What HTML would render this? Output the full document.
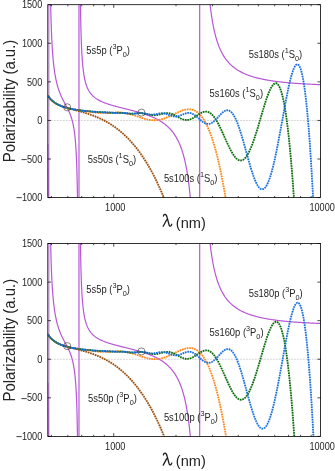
<!DOCTYPE html>
<html><head><meta charset="utf-8"><title>Polarizability</title>
<style>html,body{margin:0;padding:0;background:#fff}svg{display:block}text{font-family:"Liberation Sans",sans-serif;fill:#242424}</style>
</head><body>
<svg width="335" height="471" viewBox="0 0 335 471">
<rect width="335" height="471" fill="#fff"/>
<clipPath id="c0"><rect x="47.8" y="4.7" width="272.8" height="192.9"/></clipPath>
<line x1="47.8" y1="120.44" x2="320.6" y2="120.44" stroke="#a8a8a8" stroke-width="0.5" stroke-dasharray="2 1"/>
<g clip-path="url(#c0)" fill="none">
<path d="M47.80,143.89 L47.81,144.50 L47.81,145.12 L47.82,145.72 L47.82,146.32 L47.83,146.93 L47.83,147.56 L47.84,148.20 L47.84,148.84 L47.85,149.47 L47.85,150.07 L47.86,150.71 L47.86,151.31 L47.87,151.94 L47.87,152.59 L47.88,153.20 L47.88,153.83 L47.89,154.48 L47.89,155.15 L47.90,155.76 L47.90,156.39 L47.91,157.04 L47.91,157.70 L47.92,158.38 L47.92,158.98 L47.93,159.60 L47.93,160.22 L47.93,160.87 L47.94,161.52 L47.94,162.19 L47.95,162.88 L47.95,163.58 L47.96,164.18 L47.96,164.78 L47.97,165.40 L47.97,166.03 L47.97,166.67 L47.98,167.32 L47.98,167.98 L47.99,168.66 L47.99,169.34 L48.00,170.04 L48.00,170.75 L48.01,171.47 L48.01,172.20 L48.01,172.95 L48.02,173.56 L48.02,174.17 L48.03,174.79 L48.03,175.42 L48.03,176.06 L48.04,176.71 L48.04,177.37 L48.05,178.03 L48.05,178.71 L48.05,179.39 L48.06,180.08 L48.06,180.79 L48.07,181.50 L48.07,182.22 L48.07,182.95 L48.08,183.69 L48.08,184.44 L48.09,185.19 L48.09,185.96 L48.09,186.74 L48.10,187.53 L48.10,188.13 L48.10,188.74 L48.11,189.35 L48.11,189.97 L48.11,190.59 L48.12,191.22 L48.12,191.86 L48.12,192.50 L48.13,193.15 L48.13,193.80 L48.13,194.46 L48.14,195.13 L48.14,195.81 L48.14,196.49 L48.15,197.18 L48.15,197.88 L48.15,198.58 L48.16,199.29 L48.16,200.00 L48.16,200.73 L48.17,201.46 L48.17,202.20 L48.17,202.95 L48.18,203.70 L48.18,204.46 L48.18,205.23 L48.19,206.01 L48.19,206.80 L48.19,207.59 L48.20,208.39 L48.20,209.20 L48.20,210.02 L48.21,210.85 L48.21,211.68 L48.21,212.53 L48.22,213.38 L48.22,214.24 L48.23,215.11 L48.23,215.99 L48.23,216.88 L48.23,217.48 L48.24,218.08 L48.24,218.69 L48.24,219.30 L48.24,219.92 L48.25,220.54 L48.25,221.16 L48.25,221.79 L48.25,222.42 L48.26,223.06 L48.26,223.70 L48.26,224.35 L48.26,225.00 L48.26,225.65 L48.27,226.31 L48.27,226.98 L48.27,227.65 L48.27,228.33 L48.28,229.01 L48.28,229.69 L48.28,230.38 L48.28,231.07 L48.29,231.77 L48.29,232.48 L48.29,233.19 L48.29,233.91 L48.30,234.63 L48.30,235.35 L48.30,236.08 L48.30,236.82 L48.31,237.56 L48.31,237.94" stroke="#b757d6" stroke-width="1.2" stroke-linejoin="round"/>
<path d="M50.09,-36.00 L50.10,-34.78 L50.11,-33.57 L50.12,-32.38 L50.14,-31.21 L50.15,-30.05 L50.16,-28.91 L50.17,-27.79 L50.19,-26.68 L50.20,-25.58 L50.21,-24.50 L50.22,-23.44 L50.24,-22.39 L50.25,-21.35 L50.26,-20.33 L50.28,-19.32 L50.29,-18.33 L50.30,-17.35 L50.31,-16.38 L50.33,-15.42 L50.34,-14.47 L50.35,-13.54 L50.37,-12.62 L50.38,-11.71 L50.39,-10.81 L50.41,-9.93 L50.42,-9.05 L50.43,-8.19 L50.45,-7.33 L50.46,-6.49 L50.48,-5.66 L50.49,-4.83 L50.50,-4.02 L50.52,-3.21 L50.53,-2.42 L50.55,-1.63 L50.56,-0.86 L50.57,-0.09 L50.59,0.67 L50.60,1.42 L50.62,2.16 L50.63,2.89 L50.65,3.62 L50.66,4.33 L50.68,5.04 L50.69,5.74 L50.70,6.43 L50.72,7.12 L50.73,7.80 L50.75,8.47 L50.76,9.13 L50.78,9.79 L50.79,10.44 L50.81,11.08 L50.82,11.71 L50.84,12.34 L50.86,12.97 L50.87,13.58 L50.89,14.19 L50.90,14.79 L50.92,15.39 L50.93,15.98 L50.95,16.57 L50.98,17.72 L51.01,18.85 L51.04,19.96 L51.08,21.05 L51.11,22.11 L51.14,23.16 L51.17,24.18 L51.21,25.19 L51.24,26.18 L51.27,27.15 L51.31,28.10 L51.34,29.04 L51.38,29.95 L51.41,30.86 L51.44,31.75 L51.48,32.62 L51.51,33.47 L51.55,34.32 L51.59,35.15 L51.62,35.96 L51.66,36.76 L51.69,37.55 L51.73,38.33 L51.77,39.09 L51.80,39.84 L51.84,40.58 L51.88,41.31 L51.91,42.02 L51.95,42.73 L51.99,43.42 L52.03,44.11 L52.07,44.78 L52.10,45.45 L52.14,46.10 L52.18,46.75 L52.22,47.38 L52.26,48.01 L52.30,48.62 L52.34,49.23 L52.38,49.83 L52.42,50.42 L52.46,51.01 L52.50,51.58 L52.54,52.15 L52.58,52.71 L52.64,53.54 L52.71,54.35 L52.77,55.14 L52.83,55.92 L52.90,56.68 L52.96,57.43 L53.02,58.16 L53.09,58.88 L53.15,59.59 L53.22,60.28 L53.29,60.97 L53.35,61.63 L53.42,62.29 L53.49,62.94 L53.56,63.57 L53.62,64.20 L53.69,64.81 L53.76,65.41 L53.83,66.00 L53.90,66.59 L53.97,67.16 L54.04,67.72 L54.11,68.28 L54.18,68.82 L54.26,69.36 L54.33,69.88 L54.43,70.58 L54.52,71.25 L54.62,71.92 L54.72,72.56 L54.82,73.20 L54.92,73.83 L55.02,74.44 L55.12,75.04 L55.22,75.62 L55.33,76.20 L55.43,76.77 L55.53,77.32 L55.64,77.87 L55.74,78.40 L55.85,78.93 L55.95,79.45 L56.06,79.95 L56.17,80.45 L56.30,81.06 L56.44,81.66 L56.58,82.25 L56.71,82.82 L56.85,83.38 L56.99,83.93 L57.13,84.47 L57.27,85.00 L57.41,85.52 L57.55,86.03 L57.70,86.53 L57.84,87.02 L57.98,87.50 L58.13,87.97 L58.27,88.44 L58.42,88.90 L58.60,89.43 L58.77,89.96 L58.95,90.48 L59.13,90.98 L59.31,91.48 L59.49,91.97 L59.67,92.44 L59.85,92.91 L60.03,93.38 L60.21,93.83 L60.40,94.28 L60.58,94.72 L60.76,95.15 L60.95,95.58 L61.13,96.00 L61.32,96.41 L61.54,96.89 L61.75,97.36 L61.97,97.82 L62.19,98.28 L62.41,98.73 L62.63,99.17 L62.85,99.61 L63.07,100.05 L63.29,100.48 L63.51,100.91 L63.73,101.33 L63.95,101.75 L64.17,102.17 L64.39,102.58 L64.61,102.99 L64.83,103.40 L65.05,103.81 L65.27,104.22 L65.49,104.63 L65.71,105.03 L65.93,105.44 L66.14,105.85 L66.36,106.25 L66.58,106.66 L66.80,107.07 L67.01,107.49 L67.23,107.90 L67.44,108.32 L67.66,108.74 L67.87,109.17 L68.08,109.60 L68.29,110.03 L68.50,110.47 L68.71,110.92 L68.92,111.37 L69.13,111.83 L69.34,112.29 L69.54,112.77 L69.74,113.25 L69.95,113.75 L70.12,114.18 L70.29,114.62 L70.46,115.06 L70.63,115.52 L70.80,115.99 L70.97,116.47 L71.13,116.95 L71.30,117.45 L71.46,117.97 L71.63,118.49 L71.79,119.03 L71.95,119.59 L72.08,120.06 L72.21,120.54 L72.35,121.04 L72.48,121.55 L72.60,122.07 L72.73,122.61 L72.86,123.16 L72.99,123.73 L73.11,124.31 L73.24,124.91 L73.36,125.53 L73.46,126.03 L73.55,126.55 L73.65,127.08 L73.75,127.63 L73.84,128.19 L73.94,128.76 L74.03,129.35 L74.12,129.96 L74.22,130.58 L74.31,131.22 L74.40,131.87 L74.49,132.55 L74.58,133.25 L74.64,133.78 L74.71,134.33 L74.78,134.89 L74.84,135.46 L74.91,136.05 L74.97,136.65 L75.03,137.26 L75.10,137.89 L75.16,138.53 L75.22,139.19 L75.29,139.86 L75.35,140.56 L75.41,141.27 L75.47,142.00 L75.53,142.74 L75.59,143.51 L75.65,144.30 L75.71,145.10 L75.77,145.93 L75.81,146.50 L75.85,147.08 L75.88,147.66 L75.92,148.26 L75.96,148.87 L76.00,149.49 L76.04,150.12 L76.07,150.77 L76.11,151.42 L76.15,152.09 L76.18,152.78 L76.22,153.47 L76.26,154.18 L76.29,154.91 L76.33,155.65 L76.36,156.40 L76.40,157.17 L76.43,157.96 L76.47,158.76 L76.50,159.58 L76.54,160.42 L76.57,161.27 L76.61,162.14 L76.64,163.04 L76.67,163.95 L76.71,164.88 L76.74,165.83 L76.77,166.81 L76.81,167.80 L76.84,168.82 L76.87,169.86 L76.90,170.93 L76.94,172.02 L76.97,173.14 L77.00,174.29 L77.03,175.46 L77.04,176.06 L77.06,176.66 L77.08,177.27 L77.09,177.89 L77.11,178.52 L77.12,179.15 L77.14,179.79 L77.15,180.44 L77.17,181.10 L77.18,181.77 L77.20,182.44 L77.21,183.13 L77.23,183.82 L77.24,184.52 L77.26,185.23 L77.27,185.95 L77.28,186.68 L77.30,187.41 L77.31,188.16 L77.33,188.92 L77.34,189.69 L77.36,190.47 L77.37,191.25 L77.38,192.05 L77.40,192.86 L77.41,193.68 L77.43,194.51 L77.44,195.36 L77.45,196.21 L77.47,197.08 L77.48,197.96 L77.50,198.85 L77.51,199.75 L77.52,200.66 L77.54,201.59 L77.55,202.53 L77.56,203.49 L77.58,204.46 L77.59,205.44 L77.60,206.44 L77.62,207.45 L77.63,208.48 L77.64,209.52 L77.66,210.58 L77.67,211.65 L77.68,212.74 L77.69,213.84 L77.71,214.96 L77.72,216.10 L77.73,217.26 L77.74,218.43 L77.76,219.62 L77.77,220.83 L77.78,222.06 L77.79,223.31 L77.81,224.58 L77.82,225.87 L77.83,227.18 L77.84,228.51 L77.85,229.86 L77.87,231.23 L77.88,232.63 L77.89,234.04 L77.90,235.49 L77.91,236.95 L77.93,238.44" stroke="#b757d6" stroke-width="1.2" stroke-linejoin="round"/>
<path d="M80.01,-37.79 L80.03,-34.65 L80.05,-31.61 L80.08,-28.68 L80.10,-25.84 L80.13,-23.09 L80.15,-20.43 L80.17,-17.85 L80.20,-15.35 L80.23,-12.92 L80.25,-10.57 L80.28,-8.29 L80.30,-6.08 L80.33,-3.93 L80.36,-1.85 L80.38,0.18 L80.41,2.14 L80.44,4.06 L80.47,5.91 L80.49,7.72 L80.52,9.48 L80.55,11.19 L80.58,12.85 L80.61,14.47 L80.64,16.05 L80.67,17.58 L80.70,19.08 L80.73,20.53 L80.76,21.95 L80.79,23.33 L80.82,24.68 L80.85,26.00 L80.88,27.28 L80.91,28.53 L80.94,29.76 L80.98,30.95 L81.01,32.11 L81.04,33.25 L81.07,34.36 L81.11,35.44 L81.14,36.50 L81.17,37.54 L81.21,38.55 L81.24,39.54 L81.28,40.50 L81.31,41.45 L81.35,42.37 L81.38,43.28 L81.42,44.16 L81.45,45.03 L81.49,45.87 L81.53,46.70 L81.56,47.52 L81.60,48.31 L81.64,49.09 L81.67,49.85 L81.71,50.60 L81.75,51.33 L81.79,52.05 L81.82,52.75 L81.86,53.44 L81.90,54.12 L81.94,54.78 L81.98,55.43 L82.02,56.07 L82.06,56.69 L82.10,57.31 L82.14,57.91 L82.18,58.50 L82.22,59.08 L82.26,59.65 L82.34,60.76 L82.43,61.82 L82.51,62.85 L82.60,63.85 L82.68,64.81 L82.77,65.74 L82.86,66.63 L82.95,67.50 L83.04,68.34 L83.13,69.15 L83.23,69.94 L83.32,70.70 L83.41,71.43 L83.51,72.15 L83.61,72.84 L83.70,73.52 L83.80,74.17 L83.90,74.80 L84.00,75.42 L84.10,76.02 L84.21,76.60 L84.31,77.16 L84.41,77.71 L84.52,78.25 L84.63,78.77 L84.73,79.27 L84.84,79.77 L85.01,80.48 L85.17,81.17 L85.34,81.84 L85.51,82.47 L85.68,83.09 L85.86,83.68 L86.04,84.26 L86.22,84.81 L86.40,85.34 L86.58,85.86 L86.77,86.36 L86.95,86.85 L87.14,87.31 L87.33,87.77 L87.53,88.21 L87.72,88.64 L87.92,89.05 L88.12,89.45 L88.39,89.97 L88.66,90.47 L88.94,90.95 L89.22,91.41 L89.50,91.86 L89.79,92.29 L90.08,92.70 L90.38,93.11 L90.67,93.50 L90.97,93.87 L91.28,94.24 L91.59,94.59 L91.90,94.93 L92.21,95.27 L92.53,95.59 L92.85,95.91 L93.17,96.21 L93.50,96.51 L93.83,96.80 L94.17,97.08 L94.50,97.35 L94.84,97.62 L95.19,97.88 L95.53,98.14 L95.97,98.45 L96.41,98.75 L96.86,99.04 L97.31,99.32 L97.77,99.60 L98.23,99.87 L98.69,100.13 L99.16,100.38 L99.64,100.63 L100.12,100.88 L100.60,101.12 L101.09,101.35 L101.58,101.58 L102.07,101.80 L102.57,102.02 L103.08,102.23 L103.58,102.44 L104.10,102.64 L104.61,102.85 L105.13,103.04 L105.65,103.24 L106.18,103.43 L106.71,103.62 L107.24,103.80 L107.78,103.99 L108.32,104.17 L108.87,104.34 L109.41,104.52 L109.96,104.69 L110.52,104.86 L111.08,105.03 L111.64,105.20 L112.20,105.36 L112.77,105.53 L113.34,105.69 L113.91,105.85 L114.48,106.01 L115.06,106.17 L115.64,106.33 L116.22,106.48 L116.81,106.64 L117.40,106.79 L117.99,106.95 L118.58,107.10 L119.17,107.25 L119.77,107.40 L120.25,107.53 L120.73,107.65 L121.21,107.77 L121.70,107.89 L122.18,108.01 L122.67,108.13 L123.15,108.25 L123.64,108.37 L124.13,108.49 L124.62,108.61 L125.11,108.74 L125.60,108.86 L126.10,108.98 L126.59,109.10 L127.09,109.23 L127.58,109.35 L128.08,109.47 L128.58,109.60 L129.07,109.72 L129.57,109.85 L130.07,109.97 L130.57,110.10 L131.07,110.23 L131.58,110.35 L132.08,110.48 L132.58,110.61 L133.08,110.74 L133.59,110.88 L134.09,111.01 L134.59,111.14 L135.10,111.28 L135.60,111.41 L136.11,111.55 L136.61,111.69 L137.12,111.83 L137.63,111.97 L138.13,112.11 L138.64,112.26 L139.14,112.40 L139.65,112.55 L140.16,112.70 L140.66,112.85 L141.17,113.00 L141.67,113.16 L142.18,113.31 L142.68,113.47 L143.19,113.63 L143.69,113.79 L144.20,113.96 L144.70,114.13 L145.21,114.29 L145.71,114.47 L146.21,114.64 L146.71,114.82 L147.22,115.00 L147.72,115.18 L148.22,115.36 L148.72,115.55 L149.22,115.74 L149.72,115.93 L150.21,116.13 L150.71,116.33 L151.21,116.53 L151.70,116.74 L152.20,116.95 L152.69,117.16 L153.18,117.38 L153.68,117.60 L154.17,117.82 L154.66,118.05 L155.15,118.29 L155.63,118.52 L156.12,118.77 L156.61,119.01 L157.09,119.26 L157.57,119.52 L158.05,119.78 L158.54,120.05 L159.01,120.32 L159.49,120.59 L159.97,120.88 L160.44,121.16 L160.92,121.46 L161.39,121.76 L161.86,122.06 L162.33,122.38 L162.79,122.70 L163.26,123.02 L163.72,123.36 L164.07,123.61 L164.41,123.87 L164.76,124.13 L165.10,124.40 L165.45,124.67 L165.79,124.95 L166.13,125.23 L166.47,125.52 L166.81,125.81 L167.14,126.10 L167.48,126.41 L167.81,126.71 L168.15,127.03 L168.48,127.34 L168.81,127.67 L169.14,128.00 L169.47,128.33 L169.80,128.67 L170.13,129.02 L170.45,129.38 L170.78,129.74 L171.10,130.10 L171.42,130.48 L171.74,130.86 L172.06,131.25 L172.38,131.65 L172.70,132.05 L173.01,132.46 L173.33,132.88 L173.64,133.31 L173.95,133.75 L174.26,134.19 L174.57,134.65 L174.88,135.11 L175.18,135.59 L175.49,136.07 L175.79,136.56 L176.09,137.07 L176.39,137.58 L176.69,138.10 L176.99,138.64 L177.29,139.19 L177.58,139.75 L177.87,140.32 L178.16,140.90 L178.45,141.50 L178.74,142.11 L178.93,142.53 L179.12,142.95 L179.31,143.38 L179.50,143.81 L179.69,144.25 L179.88,144.70 L180.07,145.15 L180.25,145.61 L180.44,146.08 L180.62,146.55 L180.81,147.04 L180.99,147.53 L181.17,148.02 L181.35,148.53 L181.54,149.04 L181.72,149.57 L181.90,150.10 L182.07,150.64 L182.25,151.18 L182.43,151.74 L182.61,152.31 L182.78,152.88 L182.96,153.47 L183.13,154.06 L183.31,154.67 L183.48,155.28 L183.65,155.91 L183.82,156.55 L183.99,157.19 L184.16,157.85 L184.33,158.52 L184.50,159.20 L184.67,159.90 L184.83,160.60 L185.00,161.32 L185.16,162.05 L185.33,162.80 L185.49,163.56 L185.65,164.33 L185.82,165.12 L185.98,165.92 L186.14,166.73 L186.30,167.56 L186.46,168.41 L186.61,169.27 L186.77,170.15 L186.93,171.05 L187.08,171.96 L187.23,172.89 L187.39,173.84 L187.54,174.81 L187.69,175.79 L187.84,176.80 L187.99,177.83 L188.14,178.87 L188.22,179.40 L188.29,179.94 L188.37,180.48 L188.44,181.03 L188.51,181.59 L188.59,182.14 L188.66,182.71 L188.73,183.28 L188.80,183.86 L188.88,184.44 L188.95,185.03 L189.02,185.62 L189.09,186.22 L189.16,186.83 L189.23,187.45 L189.31,188.07 L189.38,188.69 L189.45,189.33 L189.52,189.97 L189.59,190.62 L189.66,191.27 L189.73,191.93 L189.80,192.60 L189.87,193.28 L189.93,193.96 L190.00,194.65 L190.07,195.35 L190.14,196.06 L190.21,196.77 L190.28,197.49 L190.34,198.22 L190.41,198.96 L190.48,199.71 L190.55,200.46 L190.61,201.23 L190.68,202.00 L190.75,202.78 L190.81,203.57 L190.88,204.37 L190.94,205.18 L191.01,206.00 L191.07,206.83 L191.14,207.66 L191.20,208.51 L191.27,209.37 L191.33,210.24 L191.40,211.12 L191.46,212.00 L191.52,212.90 L191.59,213.81 L191.65,214.73 L191.71,215.67 L191.78,216.61 L191.84,217.56 L191.90,218.53 L191.96,219.51 L192.03,220.50 L192.09,221.50 L192.15,222.52 L192.21,223.55 L192.27,224.59 L192.33,225.65 L192.39,226.71 L192.45,227.79 L192.51,228.89 L192.57,230.00 L192.63,231.12 L192.69,232.26 L192.75,233.42 L192.81,234.58 L192.87,235.77 L192.92,236.97 L192.98,238.18" stroke="#b757d6" stroke-width="1.2" stroke-linejoin="round"/>
<path d="M206.87,-36.13 L206.93,-35.04 L206.99,-33.96 L207.05,-32.89 L207.11,-31.84 L207.17,-30.80 L207.24,-29.78 L207.30,-28.76 L207.36,-27.76 L207.42,-26.77 L207.48,-25.80 L207.54,-24.83 L207.61,-23.88 L207.67,-22.94 L207.73,-22.01 L207.80,-21.09 L207.86,-20.18 L207.92,-19.28 L207.99,-18.39 L208.05,-17.52 L208.12,-16.65 L208.18,-15.80 L208.25,-14.95 L208.31,-14.12 L208.38,-13.29 L208.44,-12.47 L208.51,-11.67 L208.57,-10.87 L208.64,-10.08 L208.71,-9.30 L208.77,-8.53 L208.84,-7.77 L208.91,-7.01 L208.97,-6.27 L209.04,-5.53 L209.11,-4.80 L209.18,-4.08 L209.25,-3.37 L209.31,-2.66 L209.38,-1.97 L209.45,-1.28 L209.52,-0.60 L209.59,0.08 L209.66,0.75 L209.73,1.41 L209.80,2.06 L209.87,2.70 L209.94,3.34 L210.01,3.98 L210.08,4.60 L210.15,5.22 L210.23,5.83 L210.30,6.44 L210.37,7.04 L210.44,7.63 L210.51,8.22 L210.59,8.80 L210.66,9.38 L210.73,9.94 L210.80,10.51 L210.88,11.07 L210.95,11.62 L211.02,12.16 L211.10,12.71 L211.17,13.24 L211.25,13.77 L211.40,14.81 L211.55,15.84 L211.70,16.84 L211.85,17.83 L212.00,18.79 L212.16,19.74 L212.31,20.66 L212.47,21.57 L212.62,22.47 L212.78,23.34 L212.94,24.20 L213.10,25.05 L213.26,25.88 L213.42,26.69 L213.58,27.49 L213.74,28.27 L213.90,29.04 L214.07,29.79 L214.23,30.54 L214.40,31.26 L214.56,31.98 L214.73,32.68 L214.90,33.38 L215.07,34.05 L215.23,34.72 L215.40,35.38 L215.58,36.02 L215.75,36.66 L215.92,37.28 L216.09,37.89 L216.27,38.49 L216.44,39.08 L216.62,39.67 L216.79,40.24 L216.97,40.80 L217.15,41.36 L217.33,41.90 L217.51,42.44 L217.69,42.97 L217.87,43.49 L218.05,44.00 L218.23,44.50 L218.41,44.99 L218.60,45.48 L218.78,45.96 L218.97,46.43 L219.15,46.90 L219.34,47.36 L219.53,47.81 L219.71,48.25 L219.90,48.69 L220.09,49.12 L220.28,49.54 L220.47,49.96 L220.67,50.37 L220.95,50.98 L221.24,51.57 L221.54,52.15 L221.83,52.71 L222.12,53.27 L222.42,53.81 L222.72,54.34 L223.02,54.86 L223.32,55.37 L223.62,55.87 L223.92,56.35 L224.23,56.83 L224.54,57.30 L224.84,57.76 L225.15,58.21 L225.46,58.65 L225.78,59.08 L226.09,59.50 L226.40,59.91 L226.72,60.32 L227.04,60.72 L227.36,61.11 L227.68,61.49 L228.00,61.86 L228.32,62.23 L228.64,62.59 L228.97,62.95 L229.29,63.29 L229.62,63.63 L229.95,63.97 L230.28,64.29 L230.61,64.62 L230.94,64.93 L231.28,65.24 L231.61,65.55 L231.95,65.85 L232.28,66.14 L232.62,66.43 L232.96,66.71 L233.30,66.99 L233.64,67.26 L233.98,67.53 L234.33,67.79 L234.67,68.05 L235.13,68.39 L235.60,68.72 L236.06,69.04 L236.52,69.35 L236.99,69.66 L237.46,69.96 L237.93,70.26 L238.40,70.54 L238.88,70.83 L239.35,71.10 L239.83,71.37 L240.31,71.63 L240.79,71.89 L241.27,72.14 L241.75,72.39 L242.23,72.63 L242.72,72.86 L243.20,73.09 L243.69,73.32 L244.18,73.54 L244.67,73.75 L245.16,73.97 L245.65,74.17 L246.14,74.38 L246.64,74.58 L247.13,74.77 L247.63,74.96 L248.12,75.15 L248.62,75.33 L249.12,75.51 L249.62,75.68 L250.12,75.86 L250.62,76.02 L251.12,76.19 L251.62,76.35 L252.12,76.51 L252.62,76.67 L253.13,76.82 L253.63,76.97 L254.13,77.11 L254.64,77.26 L255.14,77.40 L255.65,77.54 L256.15,77.67 L256.66,77.80 L257.17,77.93 L257.67,78.06 L258.18,78.19 L258.69,78.31 L259.19,78.43 L259.70,78.55 L260.21,78.66 L260.71,78.78 L261.22,78.89 L261.73,79.00 L262.23,79.11 L262.74,79.21 L263.25,79.31 L263.75,79.42 L264.26,79.52 L264.76,79.61 L265.27,79.71 L265.90,79.83 L266.53,79.94 L267.16,80.05 L267.79,80.16 L268.42,80.27 L269.04,80.37 L269.67,80.48 L270.29,80.58 L270.92,80.67 L271.54,80.77 L272.16,80.86 L272.78,80.95 L273.40,81.04 L274.02,81.13 L274.63,81.22 L275.25,81.30 L275.86,81.38 L276.47,81.46 L277.08,81.54 L277.69,81.61 L278.29,81.69 L278.90,81.76 L279.50,81.83 L280.10,81.90 L280.69,81.97 L281.29,82.04 L281.88,82.10 L282.47,82.17 L283.06,82.23 L283.64,82.29 L284.23,82.35 L284.81,82.41 L285.38,82.46 L285.96,82.52 L286.53,82.57 L287.10,82.63 L287.66,82.68 L288.22,82.73 L288.78,82.78 L289.34,82.83 L289.89,82.88 L290.55,82.93 L291.21,82.99 L291.86,83.04 L292.50,83.09 L293.14,83.14 L293.78,83.19 L294.41,83.24 L295.03,83.29 L295.65,83.33 L296.26,83.38 L296.87,83.42 L297.47,83.46 L298.06,83.50 L298.65,83.54 L299.23,83.58 L299.81,83.62 L300.38,83.66 L301.04,83.70 L301.69,83.74 L302.33,83.78 L302.96,83.81 L303.58,83.85 L304.19,83.89 L304.80,83.92 L305.39,83.95 L305.97,83.99 L306.55,84.02 L307.19,84.05 L307.82,84.09 L308.43,84.12 L309.04,84.15 L309.63,84.18 L310.20,84.21 L310.83,84.24 L311.45,84.27 L312.04,84.29 L312.61,84.32 L313.23,84.35 L313.83,84.38 L314.45,84.40 L315.05,84.43 L315.67,84.46 L316.25,84.48 L316.85,84.51 L317.44,84.53 L318.02,84.55 L318.60,84.58 L319.20,84.60 L319.79,84.62 L320.38,84.65 L320.60,84.65" stroke="#b757d6" stroke-width="1.2" stroke-linejoin="round"/>
<line x1="48.95" y1="4.7" x2="48.95" y2="197.6" stroke="#b757d6" stroke-width="0.75"/>
<line x1="78.98" y1="4.7" x2="78.98" y2="197.6" stroke="#b757d6" stroke-width="1.2"/>
<line x1="199.68" y1="4.7" x2="199.68" y2="197.6" stroke="#b757d6" stroke-width="1.2"/>
<g transform="scale(1,1.0)">
<path d="M47.80,95.39 L48.11,95.86 L48.41,96.30 L48.71,96.72 L49.02,97.13 L49.32,97.52 L49.62,97.89 L49.93,98.25 L50.23,98.59 L50.53,98.92 L50.84,99.24 L51.14,99.55 L51.44,99.85 L51.75,100.13 L52.05,100.41 L52.35,100.67 L52.66,100.93 L52.96,101.18 L53.26,101.42 L53.57,101.66 L53.87,101.88 L54.17,102.10 L54.48,102.31 L54.78,102.52 L55.08,102.72 L55.69,103.10 L56.30,103.47 L56.90,103.81 L57.51,104.14 L58.12,104.45 L58.73,104.75 L59.33,105.03 L59.94,105.30 L60.55,105.56 L61.15,105.81 L61.76,106.05 L62.37,106.28 L62.97,106.51 L63.58,106.73 L64.19,106.94 L64.79,107.14 L65.40,107.34 L66.01,107.53 L66.62,107.72 L67.22,107.91 L67.83,108.09 L68.44,108.27 L69.04,108.44 L69.65,108.61 L70.26,108.78 L70.86,108.95 L71.47,109.12 L72.08,109.28 L72.68,109.45 L73.29,109.61 L73.90,109.77 L74.50,109.93 L75.11,110.10 L75.72,110.26 L76.33,110.42 L76.93,110.58 L77.54,110.75 L78.15,110.91 L78.75,111.07 L79.36,111.24 L79.97,111.41 L80.57,111.57 L81.18,111.74 L81.79,111.92 L82.39,112.09 L83.00,112.26 L83.61,112.44 L84.22,112.62 L84.82,112.80 L85.43,112.99 L86.04,113.18 L86.64,113.37 L87.25,113.56 L87.86,113.76 L88.46,113.95 L89.07,114.16 L89.68,114.36 L90.28,114.57 L90.89,114.78 L91.50,115.00 L92.10,115.22 L92.71,115.44 L93.32,115.67 L93.93,115.90 L94.53,116.14 L95.14,116.38 L95.75,116.62 L96.35,116.87 L96.96,117.13 L97.57,117.38 L98.17,117.65 L98.78,117.92 L99.39,118.19 L99.99,118.47 L100.60,118.75 L101.21,119.04 L101.82,119.33 L102.42,119.63 L103.03,119.93 L103.64,120.24 L104.24,120.56 L104.85,120.88 L105.46,121.21 L106.06,121.54 L106.67,121.88 L107.28,122.22 L107.88,122.58 L108.49,122.93 L109.10,123.30 L109.70,123.67 L110.31,124.05 L110.92,124.43 L111.53,124.82 L111.83,125.02 L112.13,125.22 L112.44,125.42 L112.74,125.62 L113.04,125.83 L113.35,126.04 L113.65,126.24 L113.95,126.46 L114.26,126.67 L114.56,126.88 L114.86,127.10 L115.17,127.32 L115.47,127.54 L115.77,127.76 L116.08,127.98 L116.38,128.21 L116.68,128.43 L116.99,128.66 L117.29,128.89 L117.59,129.13 L117.90,129.36 L118.20,129.60 L118.50,129.84 L118.81,130.08 L119.11,130.32 L119.41,130.57 L119.72,130.82 L120.02,131.07 L120.33,131.32 L120.63,131.57 L120.93,131.83 L121.24,132.09 L121.54,132.35 L121.84,132.61 L122.15,132.87 L122.45,133.14 L122.75,133.41 L123.06,133.68 L123.36,133.95 L123.66,134.23 L123.97,134.51 L124.27,134.79 L124.57,135.07 L124.88,135.35 L125.18,135.64 L125.48,135.93 L125.79,136.22 L126.09,136.52 L126.39,136.81 L126.70,137.11 L127.00,137.41 L127.30,137.72 L127.61,138.02 L127.91,138.33 L128.21,138.64 L128.52,138.95 L128.82,139.27 L129.13,139.59 L129.43,139.91 L129.73,140.23 L130.04,140.56 L130.34,140.89 L130.64,141.22 L130.95,141.55 L131.25,141.89 L131.55,142.23 L131.86,142.57 L132.16,142.92 L132.46,143.26 L132.77,143.61 L133.07,143.97 L133.37,144.32 L133.68,144.68 L133.98,145.04 L134.28,145.41 L134.59,145.77 L134.89,146.14 L135.19,146.51 L135.50,146.89 L135.80,147.27 L136.10,147.65 L136.41,148.03 L136.71,148.42 L137.01,148.81 L137.32,149.20 L137.62,149.60 L137.93,150.00 L138.23,150.40 L138.53,150.81 L138.84,151.21 L139.14,151.63 L139.44,152.04 L139.75,152.46 L140.05,152.88 L140.35,153.30 L140.66,153.73 L140.96,154.16 L141.26,154.59 L141.57,155.03 L141.87,155.47 L142.17,155.92 L142.48,156.36 L142.78,156.81 L143.08,157.27 L143.39,157.72 L143.69,158.18 L143.99,158.65 L144.30,159.11 L144.60,159.59 L144.90,160.06 L145.21,160.54 L145.51,161.02 L145.81,161.50 L146.12,161.99 L146.42,162.49 L146.73,162.98 L147.03,163.48 L147.33,163.98 L147.64,164.49 L147.94,165.00 L148.24,165.52 L148.55,166.03 L148.85,166.56 L149.15,167.08 L149.46,167.61 L149.76,168.15 L150.06,168.68 L150.37,169.22 L150.67,169.77 L150.97,170.32 L151.28,170.87 L151.58,171.43 L151.88,171.99 L152.19,172.56 L152.49,173.13 L152.79,173.70 L153.10,174.28 L153.40,174.86 L153.70,175.45 L154.01,176.04 L154.31,176.63 L154.61,177.23 L154.92,177.84 L155.22,178.45 L155.53,179.06 L155.83,179.68 L156.13,180.30 L156.44,180.92 L156.74,181.55 L157.04,182.19 L157.35,182.83 L157.65,183.47 L157.95,184.12 L158.26,184.77 L158.56,185.43 L158.86,186.09 L159.17,186.76 L159.47,187.43 L159.77,188.11 L160.08,188.79 L160.38,189.48 L160.68,190.17 L160.99,190.87 L161.29,191.57 L161.59,192.28 L161.90,192.99 L162.20,193.70 L162.50,194.43 L162.81,195.15 L163.11,195.88 L163.41,196.62 L163.72,197.36 L164.02,198.11 L164.33,198.86 L164.63,199.62 L164.93,200.39 L165.24,201.16 L165.54,201.93 L165.84,202.71 L166.15,203.50 L166.45,204.29 L166.75,205.08 L167.06,205.89 L167.36,206.69 L167.66,207.51 L167.97,208.33 L168.27,209.15 L168.57,209.98 L168.88,210.82 L169.18,211.66 L169.48,212.51 L169.79,213.37 L170.09,214.23 L170.39,215.09 L170.70,215.97 L171.00,216.85 L171.30,217.73 L171.61,218.62 L171.91,219.52 L172.21,220.42 L172.52,221.33 L172.82,222.25 L173.12,223.17 L173.43,224.10 L173.73,225.04 L174.04,225.98 L174.34,226.93 L174.64,227.89 L174.95,228.85 L175.25,229.82 L175.55,230.79 L175.86,231.78 L176.16,232.77 L176.46,233.76 L176.77,234.77 L177.07,235.78 L177.37,236.79 L177.68,237.82 L177.98,238.85 L178.28,239.89 L178.59,240.93 L178.89,241.99 L179.19,243.05 L179.50,244.12 L179.80,245.19 L180.10,246.27 L180.41,247.36 L180.71,247.60 L181.32,247.60 L181.92,247.60 L182.53,247.60 L183.14,247.60 L183.75,247.60 L184.35,247.60 L184.96,247.60 L185.57,247.60 L186.17,247.60 L186.78,247.60 L187.39,247.60 L187.99,247.60 L188.60,247.60 L189.21,247.60 L189.81,247.60 L190.42,247.60 L191.03,247.60 L191.64,247.60 L192.24,247.60 L192.85,247.60 L193.46,247.60 L194.06,247.60 L194.67,247.60 L195.28,247.60 L195.88,247.60 L196.49,247.60 L197.10,247.60 L197.70,247.60 L198.31,247.60 L198.92,247.60 L199.52,247.60 L200.13,247.60 L200.74,247.60 L201.35,247.60 L201.95,247.60 L202.56,247.60 L203.17,247.60 L203.77,247.60 L204.38,247.60 L204.99,247.60 L205.59,247.60 L206.20,247.60 L206.81,247.60 L207.41,247.60 L208.02,247.60 L208.63,247.60 L209.24,247.60 L209.84,247.60 L210.45,247.60 L211.06,247.60 L211.66,247.60 L212.27,247.60 L212.88,247.60 L213.48,247.60 L214.09,247.60 L214.70,247.60 L215.30,247.60 L215.91,247.60 L216.52,247.60 L217.12,247.60 L217.73,247.60 L218.34,247.60 L218.95,247.60 L219.55,247.60 L220.16,247.60 L220.77,247.60 L221.37,247.60 L221.98,247.60 L222.59,247.60 L223.19,247.60 L223.80,247.60 L224.41,247.60 L225.01,247.60 L225.62,247.60 L226.23,247.60 L226.84,247.60 L227.44,247.60 L228.05,247.60 L228.66,247.60 L229.26,247.60 L229.87,247.60 L230.48,247.60 L231.08,247.60 L231.69,247.60 L232.30,247.60 L232.90,247.60 L233.51,247.60 L234.12,247.60 L234.72,247.60 L235.33,247.60 L235.94,247.60 L236.55,247.60 L237.15,247.60 L237.76,247.60 L238.37,247.60 L238.97,247.60 L239.58,247.60 L240.19,247.60 L240.79,247.60 L241.40,247.60 L242.01,247.60 L242.61,247.60 L243.22,247.60 L243.83,247.60 L244.43,247.60 L245.04,247.60 L245.65,247.60 L246.26,247.60 L246.86,247.60 L247.47,247.60 L248.08,247.60 L248.68,247.60 L249.29,247.60 L249.90,247.60 L250.50,247.60 L251.11,247.60 L251.72,247.60 L252.32,247.60 L252.93,247.60 L253.54,247.60 L254.15,247.60 L254.75,247.60 L255.36,247.60 L255.97,247.60 L256.57,247.60 L257.18,247.60 L257.79,247.60 L258.39,247.60 L259.00,247.60 L259.61,247.60 L260.21,247.60 L260.82,247.60 L261.43,247.60 L262.03,247.60 L262.64,247.60 L263.25,247.60 L263.86,247.60 L264.46,247.60 L265.07,247.60 L265.68,247.60 L266.28,247.60 L266.89,247.60 L267.50,247.60 L268.10,247.60 L268.71,247.60 L269.32,247.60 L269.92,247.60 L270.53,247.60 L271.14,247.60 L271.75,247.60 L272.35,247.60 L272.96,247.60 L273.57,247.60 L274.17,247.60 L274.78,247.60 L275.39,247.60 L275.99,247.60 L276.60,247.60 L277.21,247.60 L277.81,247.60 L278.42,247.60 L279.03,247.60 L279.63,247.60 L280.24,247.60 L280.85,247.60 L281.46,247.60 L282.06,247.60 L282.67,247.60 L283.28,247.60 L283.88,247.60 L284.49,247.60 L285.10,247.60 L285.70,247.60 L286.31,247.60 L286.92,247.60 L287.52,247.60 L288.13,247.60 L288.74,247.60 L289.35,247.60 L289.95,247.60 L290.56,247.60 L291.17,247.60 L291.77,247.60 L292.38,247.60 L292.99,247.60 L293.59,247.60 L294.20,247.60 L294.81,247.60 L295.41,247.60 L296.02,247.60 L296.63,247.60 L297.23,247.60 L297.84,247.60 L298.45,247.60 L299.06,247.60 L299.66,247.60 L300.27,247.60 L300.88,247.60 L301.48,247.60 L302.09,247.60 L302.70,247.60 L303.30,247.60 L303.91,247.60 L304.52,247.60 L305.12,247.60 L305.73,247.60 L306.34,247.60 L306.94,247.60 L307.55,247.60 L308.16,247.60 L308.77,247.60 L309.37,247.60 L309.98,247.60 L310.59,247.60 L311.19,247.60 L311.80,247.60 L312.41,247.60 L313.01,247.60 L313.62,247.60 L314.23,247.60 L314.83,247.60 L315.44,247.60 L316.05,247.60 L316.66,247.60 L317.26,247.60 L317.87,247.60 L318.48,247.60 L319.08,247.60 L319.69,247.60 L320.30,247.60 L320.60,247.60" stroke="#9a4a08" stroke-width="1.5" stroke-opacity="0.22"/>
<path d="M47.80,95.39 L48.11,95.86 L48.41,96.30 L48.71,96.72 L49.02,97.13 L49.32,97.52 L49.62,97.89 L49.93,98.25 L50.23,98.59 L50.53,98.92 L50.84,99.24 L51.14,99.55 L51.44,99.85 L51.75,100.13 L52.05,100.41 L52.35,100.67 L52.66,100.93 L52.96,101.18 L53.26,101.42 L53.57,101.66 L53.87,101.88 L54.17,102.10 L54.48,102.31 L54.78,102.52 L55.08,102.72 L55.69,103.10 L56.30,103.47 L56.90,103.81 L57.51,104.14 L58.12,104.45 L58.73,104.75 L59.33,105.03 L59.94,105.30 L60.55,105.56 L61.15,105.81 L61.76,106.05 L62.37,106.28 L62.97,106.51 L63.58,106.73 L64.19,106.94 L64.79,107.14 L65.40,107.34 L66.01,107.53 L66.62,107.72 L67.22,107.91 L67.83,108.09 L68.44,108.27 L69.04,108.44 L69.65,108.61 L70.26,108.78 L70.86,108.95 L71.47,109.12 L72.08,109.28 L72.68,109.45 L73.29,109.61 L73.90,109.77 L74.50,109.93 L75.11,110.10 L75.72,110.26 L76.33,110.42 L76.93,110.58 L77.54,110.75 L78.15,110.91 L78.75,111.07 L79.36,111.24 L79.97,111.41 L80.57,111.57 L81.18,111.74 L81.79,111.92 L82.39,112.09 L83.00,112.26 L83.61,112.44 L84.22,112.62 L84.82,112.80 L85.43,112.99 L86.04,113.18 L86.64,113.37 L87.25,113.56 L87.86,113.76 L88.46,113.95 L89.07,114.16 L89.68,114.36 L90.28,114.57 L90.89,114.78 L91.50,115.00 L92.10,115.22 L92.71,115.44 L93.32,115.67 L93.93,115.90 L94.53,116.14 L95.14,116.38 L95.75,116.62 L96.35,116.87 L96.96,117.13 L97.57,117.38 L98.17,117.65 L98.78,117.92 L99.39,118.19 L99.99,118.47 L100.60,118.75 L101.21,119.04 L101.82,119.33 L102.42,119.63 L103.03,119.93 L103.64,120.24 L104.24,120.56 L104.85,120.88 L105.46,121.21 L106.06,121.54 L106.67,121.88 L107.28,122.22 L107.88,122.58 L108.49,122.93 L109.10,123.30 L109.70,123.67 L110.31,124.05 L110.92,124.43 L111.53,124.82 L111.83,125.02 L112.13,125.22 L112.44,125.42 L112.74,125.62 L113.04,125.83 L113.35,126.04 L113.65,126.24 L113.95,126.46 L114.26,126.67 L114.56,126.88 L114.86,127.10 L115.17,127.32 L115.47,127.54 L115.77,127.76 L116.08,127.98 L116.38,128.21 L116.68,128.43 L116.99,128.66 L117.29,128.89 L117.59,129.13 L117.90,129.36 L118.20,129.60 L118.50,129.84 L118.81,130.08 L119.11,130.32 L119.41,130.57 L119.72,130.82 L120.02,131.07 L120.33,131.32 L120.63,131.57 L120.93,131.83 L121.24,132.09 L121.54,132.35 L121.84,132.61 L122.15,132.87 L122.45,133.14 L122.75,133.41 L123.06,133.68 L123.36,133.95 L123.66,134.23 L123.97,134.51 L124.27,134.79 L124.57,135.07 L124.88,135.35 L125.18,135.64 L125.48,135.93 L125.79,136.22 L126.09,136.52 L126.39,136.81 L126.70,137.11 L127.00,137.41 L127.30,137.72 L127.61,138.02 L127.91,138.33 L128.21,138.64 L128.52,138.95 L128.82,139.27 L129.13,139.59 L129.43,139.91 L129.73,140.23 L130.04,140.56 L130.34,140.89 L130.64,141.22 L130.95,141.55 L131.25,141.89 L131.55,142.23 L131.86,142.57 L132.16,142.92 L132.46,143.26 L132.77,143.61 L133.07,143.97 L133.37,144.32 L133.68,144.68 L133.98,145.04 L134.28,145.41 L134.59,145.77 L134.89,146.14 L135.19,146.51 L135.50,146.89 L135.80,147.27 L136.10,147.65 L136.41,148.03 L136.71,148.42 L137.01,148.81 L137.32,149.20 L137.62,149.60 L137.93,150.00 L138.23,150.40 L138.53,150.81 L138.84,151.21 L139.14,151.63 L139.44,152.04 L139.75,152.46 L140.05,152.88 L140.35,153.30 L140.66,153.73 L140.96,154.16 L141.26,154.59 L141.57,155.03 L141.87,155.47 L142.17,155.92 L142.48,156.36 L142.78,156.81 L143.08,157.27 L143.39,157.72 L143.69,158.18 L143.99,158.65 L144.30,159.11 L144.60,159.59 L144.90,160.06 L145.21,160.54 L145.51,161.02 L145.81,161.50 L146.12,161.99 L146.42,162.49 L146.73,162.98 L147.03,163.48 L147.33,163.98 L147.64,164.49 L147.94,165.00 L148.24,165.52 L148.55,166.03 L148.85,166.56 L149.15,167.08 L149.46,167.61 L149.76,168.15 L150.06,168.68 L150.37,169.22 L150.67,169.77 L150.97,170.32 L151.28,170.87 L151.58,171.43 L151.88,171.99 L152.19,172.56 L152.49,173.13 L152.79,173.70 L153.10,174.28 L153.40,174.86 L153.70,175.45 L154.01,176.04 L154.31,176.63 L154.61,177.23 L154.92,177.84 L155.22,178.45 L155.53,179.06 L155.83,179.68 L156.13,180.30 L156.44,180.92 L156.74,181.55 L157.04,182.19 L157.35,182.83 L157.65,183.47 L157.95,184.12 L158.26,184.77 L158.56,185.43 L158.86,186.09 L159.17,186.76 L159.47,187.43 L159.77,188.11 L160.08,188.79 L160.38,189.48 L160.68,190.17 L160.99,190.87 L161.29,191.57 L161.59,192.28 L161.90,192.99 L162.20,193.70 L162.50,194.43 L162.81,195.15 L163.11,195.88 L163.41,196.62 L163.72,197.36 L164.02,198.11 L164.33,198.86 L164.63,199.62 L164.93,200.39 L165.24,201.16 L165.54,201.93 L165.84,202.71 L166.15,203.50 L166.45,204.29 L166.75,205.08 L167.06,205.89 L167.36,206.69 L167.66,207.51 L167.97,208.33 L168.27,209.15 L168.57,209.98 L168.88,210.82 L169.18,211.66 L169.48,212.51 L169.79,213.37 L170.09,214.23 L170.39,215.09 L170.70,215.97 L171.00,216.85 L171.30,217.73 L171.61,218.62 L171.91,219.52 L172.21,220.42 L172.52,221.33 L172.82,222.25 L173.12,223.17 L173.43,224.10 L173.73,225.04 L174.04,225.98 L174.34,226.93 L174.64,227.89 L174.95,228.85 L175.25,229.82 L175.55,230.79 L175.86,231.78 L176.16,232.77 L176.46,233.76 L176.77,234.77 L177.07,235.78 L177.37,236.79 L177.68,237.82 L177.98,238.85 L178.28,239.89 L178.59,240.93 L178.89,241.99 L179.19,243.05 L179.50,244.12 L179.80,245.19 L180.10,246.27 L180.41,247.36 L180.71,247.60 L181.32,247.60 L181.92,247.60 L182.53,247.60 L183.14,247.60 L183.75,247.60 L184.35,247.60 L184.96,247.60 L185.57,247.60 L186.17,247.60 L186.78,247.60 L187.39,247.60 L187.99,247.60 L188.60,247.60 L189.21,247.60 L189.81,247.60 L190.42,247.60 L191.03,247.60 L191.64,247.60 L192.24,247.60 L192.85,247.60 L193.46,247.60 L194.06,247.60 L194.67,247.60 L195.28,247.60 L195.88,247.60 L196.49,247.60 L197.10,247.60 L197.70,247.60 L198.31,247.60 L198.92,247.60 L199.52,247.60 L200.13,247.60 L200.74,247.60 L201.35,247.60 L201.95,247.60 L202.56,247.60 L203.17,247.60 L203.77,247.60 L204.38,247.60 L204.99,247.60 L205.59,247.60 L206.20,247.60 L206.81,247.60 L207.41,247.60 L208.02,247.60 L208.63,247.60 L209.24,247.60 L209.84,247.60 L210.45,247.60 L211.06,247.60 L211.66,247.60 L212.27,247.60 L212.88,247.60 L213.48,247.60 L214.09,247.60 L214.70,247.60 L215.30,247.60 L215.91,247.60 L216.52,247.60 L217.12,247.60 L217.73,247.60 L218.34,247.60 L218.95,247.60 L219.55,247.60 L220.16,247.60 L220.77,247.60 L221.37,247.60 L221.98,247.60 L222.59,247.60 L223.19,247.60 L223.80,247.60 L224.41,247.60 L225.01,247.60 L225.62,247.60 L226.23,247.60 L226.84,247.60 L227.44,247.60 L228.05,247.60 L228.66,247.60 L229.26,247.60 L229.87,247.60 L230.48,247.60 L231.08,247.60 L231.69,247.60 L232.30,247.60 L232.90,247.60 L233.51,247.60 L234.12,247.60 L234.72,247.60 L235.33,247.60 L235.94,247.60 L236.55,247.60 L237.15,247.60 L237.76,247.60 L238.37,247.60 L238.97,247.60 L239.58,247.60 L240.19,247.60 L240.79,247.60 L241.40,247.60 L242.01,247.60 L242.61,247.60 L243.22,247.60 L243.83,247.60 L244.43,247.60 L245.04,247.60 L245.65,247.60 L246.26,247.60 L246.86,247.60 L247.47,247.60 L248.08,247.60 L248.68,247.60 L249.29,247.60 L249.90,247.60 L250.50,247.60 L251.11,247.60 L251.72,247.60 L252.32,247.60 L252.93,247.60 L253.54,247.60 L254.15,247.60 L254.75,247.60 L255.36,247.60 L255.97,247.60 L256.57,247.60 L257.18,247.60 L257.79,247.60 L258.39,247.60 L259.00,247.60 L259.61,247.60 L260.21,247.60 L260.82,247.60 L261.43,247.60 L262.03,247.60 L262.64,247.60 L263.25,247.60 L263.86,247.60 L264.46,247.60 L265.07,247.60 L265.68,247.60 L266.28,247.60 L266.89,247.60 L267.50,247.60 L268.10,247.60 L268.71,247.60 L269.32,247.60 L269.92,247.60 L270.53,247.60 L271.14,247.60 L271.75,247.60 L272.35,247.60 L272.96,247.60 L273.57,247.60 L274.17,247.60 L274.78,247.60 L275.39,247.60 L275.99,247.60 L276.60,247.60 L277.21,247.60 L277.81,247.60 L278.42,247.60 L279.03,247.60 L279.63,247.60 L280.24,247.60 L280.85,247.60 L281.46,247.60 L282.06,247.60 L282.67,247.60 L283.28,247.60 L283.88,247.60 L284.49,247.60 L285.10,247.60 L285.70,247.60 L286.31,247.60 L286.92,247.60 L287.52,247.60 L288.13,247.60 L288.74,247.60 L289.35,247.60 L289.95,247.60 L290.56,247.60 L291.17,247.60 L291.77,247.60 L292.38,247.60 L292.99,247.60 L293.59,247.60 L294.20,247.60 L294.81,247.60 L295.41,247.60 L296.02,247.60 L296.63,247.60 L297.23,247.60 L297.84,247.60 L298.45,247.60 L299.06,247.60 L299.66,247.60 L300.27,247.60 L300.88,247.60 L301.48,247.60 L302.09,247.60 L302.70,247.60 L303.30,247.60 L303.91,247.60 L304.52,247.60 L305.12,247.60 L305.73,247.60 L306.34,247.60 L306.94,247.60 L307.55,247.60 L308.16,247.60 L308.77,247.60 L309.37,247.60 L309.98,247.60 L310.59,247.60 L311.19,247.60 L311.80,247.60 L312.41,247.60 L313.01,247.60 L313.62,247.60 L314.23,247.60 L314.83,247.60 L315.44,247.60 L316.05,247.60 L316.66,247.60 L317.26,247.60 L317.87,247.60 L318.48,247.60 L319.08,247.60 L319.69,247.60 L320.30,247.60 L320.60,247.60" stroke="#9a4a08" stroke-width="1.8" stroke-dasharray="1.5 1.0" stroke-dashoffset="0"/>
<path d="M47.80,95.53 L48.11,96.00 L48.41,96.44 L48.71,96.87 L49.02,97.27 L49.32,97.66 L49.62,98.04 L49.93,98.40 L50.23,98.74 L50.53,99.07 L50.84,99.40 L51.14,99.70 L51.44,100.00 L51.75,100.29 L52.05,100.57 L52.35,100.84 L52.66,101.10 L52.96,101.35 L53.26,101.60 L53.57,101.83 L53.87,102.07 L54.17,102.29 L54.48,102.51 L54.78,102.72 L55.08,102.93 L55.39,103.13 L55.99,103.52 L56.60,103.89 L57.21,104.24 L57.82,104.57 L58.42,104.90 L59.03,105.20 L59.64,105.50 L60.24,105.78 L60.85,106.05 L61.46,106.31 L62.06,106.55 L62.67,106.79 L63.28,107.01 L63.88,107.23 L64.49,107.43 L65.10,107.62 L65.70,107.81 L66.31,107.98 L66.92,108.15 L67.53,108.30 L68.13,108.45 L68.74,108.58 L69.35,108.71 L69.95,108.83 L70.56,108.95 L71.17,109.06 L71.77,109.16 L72.38,109.25 L72.99,109.34 L73.59,109.43 L74.20,109.51 L74.81,109.59 L75.42,109.67 L76.02,109.74 L76.63,109.81 L77.24,109.89 L77.84,109.96 L78.45,110.03 L79.06,110.10 L79.66,110.18 L80.27,110.25 L80.88,110.33 L81.48,110.40 L82.09,110.48 L82.70,110.57 L83.30,110.65 L83.91,110.74 L84.52,110.83 L85.13,110.92 L85.73,111.01 L86.34,111.11 L86.95,111.21 L87.55,111.30 L88.16,111.40 L88.77,111.50 L89.37,111.60 L89.98,111.70 L90.59,111.80 L91.19,111.90 L91.80,111.99 L92.41,112.08 L93.02,112.18 L93.62,112.26 L94.23,112.35 L94.84,112.43 L95.44,112.51 L96.05,112.58 L96.66,112.64 L97.26,112.71 L97.87,112.76 L98.48,112.81 L99.08,112.86 L99.69,112.90 L100.30,112.93 L100.90,112.95 L101.51,112.97 L102.12,112.99 L102.73,113.00 L103.33,113.00 L103.94,113.00 L104.55,112.99 L105.15,112.98 L105.76,112.96 L106.37,112.94 L106.97,112.92 L107.58,112.89 L108.19,112.86 L108.79,112.83 L109.40,112.79 L110.01,112.76 L110.61,112.72 L111.22,112.69 L111.83,112.65 L112.44,112.62 L113.04,112.58 L113.65,112.55 L114.26,112.53 L114.86,112.50 L115.47,112.48 L116.08,112.47 L116.68,112.46 L117.29,112.46 L117.90,112.46 L118.50,112.46 L119.11,112.48 L119.72,112.50 L120.33,112.53 L120.93,112.57 L121.54,112.61 L122.15,112.67 L122.75,112.73 L123.36,112.80 L123.97,112.88 L124.57,112.97 L125.18,113.06 L125.79,113.17 L126.39,113.28 L127.00,113.40 L127.61,113.53 L128.21,113.67 L128.82,113.81 L129.43,113.97 L130.04,114.13 L130.64,114.29 L131.25,114.46 L131.86,114.64 L132.46,114.83 L133.07,115.02 L133.68,115.21 L134.28,115.41 L134.89,115.61 L135.50,115.81 L136.10,116.02 L136.71,116.23 L137.32,116.43 L137.93,116.64 L138.53,116.85 L139.14,117.06 L139.75,117.26 L140.35,117.47 L140.96,117.67 L141.57,117.87 L142.17,118.06 L142.78,118.25 L143.39,118.43 L143.99,118.61 L144.60,118.78 L145.21,118.95 L145.81,119.10 L146.42,119.25 L147.03,119.39 L147.64,119.52 L148.24,119.64 L148.85,119.75 L149.46,119.85 L150.06,119.94 L150.67,120.02 L151.28,120.09 L151.88,120.14 L152.49,120.18 L153.10,120.21 L153.70,120.23 L154.31,120.24 L154.92,120.23 L155.53,120.21 L156.13,120.17 L156.74,120.12 L157.35,120.06 L157.95,119.99 L158.56,119.90 L159.17,119.80 L159.77,119.69 L160.38,119.56 L160.99,119.43 L161.59,119.28 L162.20,119.11 L162.81,118.94 L163.41,118.75 L164.02,118.56 L164.63,118.35 L165.24,118.14 L165.84,117.91 L166.45,117.67 L167.06,117.43 L167.66,117.18 L168.27,116.92 L168.88,116.65 L169.48,116.38 L170.09,116.10 L170.70,115.81 L171.30,115.53 L171.91,115.24 L172.52,114.94 L173.12,114.65 L173.73,114.35 L174.34,114.05 L174.95,113.76 L175.55,113.46 L176.16,113.17 L176.77,112.88 L177.37,112.59 L177.98,112.31 L178.59,112.04 L179.19,111.77 L179.80,111.51 L180.41,111.26 L181.01,111.02 L181.62,110.79 L182.23,110.58 L182.84,110.37 L183.44,110.18 L184.05,110.01 L184.66,109.85 L185.26,109.71 L185.87,109.59 L186.48,109.48 L187.08,109.40 L187.69,109.34 L188.30,109.30 L188.90,109.29 L189.51,109.30 L190.12,109.34 L190.72,109.41 L191.33,109.50 L191.94,109.63 L192.55,109.78 L193.15,109.97 L193.76,110.19 L194.37,110.45 L194.97,110.74 L195.58,111.06 L196.19,111.43 L196.49,111.63 L196.79,111.83 L197.10,112.05 L197.40,112.28 L197.70,112.52 L198.01,112.76 L198.31,113.02 L198.61,113.29 L198.92,113.57 L199.22,113.86 L199.52,114.17 L199.83,114.48 L200.13,114.81 L200.44,115.14 L200.74,115.49 L201.04,115.85 L201.35,116.23 L201.65,116.61 L201.95,117.01 L202.26,117.42 L202.56,117.84 L202.86,118.28 L203.17,118.73 L203.47,119.19 L203.77,119.67 L204.08,120.16 L204.38,120.66 L204.68,121.17 L204.99,121.70 L205.29,122.25 L205.59,122.80 L205.90,123.38 L206.20,123.96 L206.50,124.56 L206.81,125.18 L207.11,125.81 L207.41,126.46 L207.72,127.12 L208.02,127.79 L208.32,128.49 L208.63,129.19 L208.93,129.92 L209.24,130.66 L209.54,131.41 L209.84,132.18 L210.15,132.97 L210.45,133.77 L210.75,134.59 L211.06,135.43 L211.36,136.29 L211.66,137.16 L211.97,138.05 L212.27,138.95 L212.57,139.88 L212.88,140.82 L213.18,141.78 L213.48,142.75 L213.79,143.75 L214.09,144.76 L214.39,145.79 L214.70,146.84 L215.00,147.91 L215.30,149.00 L215.61,150.11 L215.91,151.23 L216.21,152.38 L216.52,153.54 L216.82,154.73 L217.12,155.93 L217.43,157.15 L217.73,158.40 L218.04,159.66 L218.34,160.94 L218.64,162.25 L218.95,163.57 L219.25,164.92 L219.55,166.29 L219.86,167.68 L220.16,169.09 L220.46,170.52 L220.77,171.97 L221.07,173.44 L221.37,174.94 L221.68,176.46 L221.98,178.00 L222.28,179.56 L222.59,181.14 L222.89,182.75 L223.19,184.38 L223.50,186.03 L223.80,187.71 L224.10,189.41 L224.41,191.13 L224.71,192.88 L225.01,194.65 L225.32,196.44 L225.62,198.26 L225.92,200.10 L226.23,201.96 L226.53,203.86 L226.84,205.77 L227.14,207.71 L227.44,209.68 L227.75,211.67 L228.05,213.68 L228.35,215.72 L228.66,217.79 L228.96,219.88 L229.26,222.00 L229.57,224.14 L229.87,226.31 L230.17,228.51 L230.48,230.73 L230.78,232.98 L231.08,235.26 L231.39,237.57 L231.69,239.90 L231.99,242.26 L232.30,244.64 L232.60,247.06 L232.90,247.60 L233.51,247.60 L234.12,247.60 L234.72,247.60 L235.33,247.60 L235.94,247.60 L236.55,247.60 L237.15,247.60 L237.76,247.60 L238.37,247.60 L238.97,247.60 L239.58,247.60 L240.19,247.60 L240.79,247.60 L241.40,247.60 L242.01,247.60 L242.61,247.60 L243.22,247.60 L243.83,247.60 L244.43,247.60 L245.04,247.60 L245.65,247.60 L246.26,247.60 L246.86,247.60 L247.47,247.60 L248.08,247.60 L248.68,247.60 L249.29,247.60 L249.90,247.60 L250.50,247.60 L251.11,247.60 L251.72,247.60 L252.32,247.60 L252.93,247.60 L253.54,247.60 L254.15,247.60 L254.75,247.60 L255.36,247.60 L255.97,247.60 L256.57,247.60 L257.18,247.60 L257.79,247.60 L258.39,247.60 L259.00,247.60 L259.61,247.60 L260.21,247.60 L260.82,247.60 L261.43,247.60 L262.03,247.60 L262.64,247.60 L263.25,247.60 L263.86,247.60 L264.46,247.60 L265.07,247.60 L265.68,247.60 L266.28,247.60 L266.89,247.60 L267.50,247.60 L268.10,247.60 L268.71,247.60 L269.32,247.60 L269.92,247.60 L270.53,247.60 L271.14,247.60 L271.75,247.60 L272.35,247.60 L272.96,247.60 L273.57,247.60 L274.17,247.60 L274.78,247.60 L275.39,247.60 L275.99,247.60 L276.60,247.60 L277.21,247.60 L277.81,247.60 L278.42,247.60 L279.03,247.60 L279.63,247.60 L280.24,247.60 L280.85,247.60 L281.46,247.60 L282.06,247.60 L282.67,247.60 L283.28,247.60 L283.88,247.60 L284.49,247.60 L285.10,247.60 L285.70,247.60 L286.31,247.60 L286.92,247.60 L287.52,247.60 L288.13,247.60 L288.74,247.60 L289.35,247.60 L289.95,247.60 L290.56,247.60 L291.17,247.60 L291.77,247.60 L292.38,247.60 L292.99,247.60 L293.59,247.60 L294.20,247.60 L294.81,247.60 L295.41,247.60 L296.02,247.60 L296.63,247.60 L297.23,247.60 L297.84,247.60 L298.45,247.60 L299.06,247.60 L299.66,247.60 L300.27,247.60 L300.88,247.60 L301.48,247.60 L302.09,247.60 L302.70,247.60 L303.30,247.60 L303.91,247.60 L304.52,247.60 L305.12,247.60 L305.73,247.60 L306.34,247.60 L306.94,247.60 L307.55,247.60 L308.16,247.60 L308.77,247.60 L309.37,247.60 L309.98,247.60 L310.59,247.60 L311.19,247.60 L311.80,247.60 L312.41,247.60 L313.01,247.60 L313.62,247.60 L314.23,247.60 L314.83,247.60 L315.44,247.60 L316.05,247.60 L316.66,247.60 L317.26,247.60 L317.87,247.60 L318.48,247.60 L319.08,247.60 L319.69,247.60 L320.30,247.60 L320.60,247.60" stroke="#ff8614" stroke-width="1.5" stroke-opacity="0.22"/>
<path d="M47.80,95.53 L48.11,96.00 L48.41,96.44 L48.71,96.87 L49.02,97.27 L49.32,97.66 L49.62,98.04 L49.93,98.40 L50.23,98.74 L50.53,99.07 L50.84,99.40 L51.14,99.70 L51.44,100.00 L51.75,100.29 L52.05,100.57 L52.35,100.84 L52.66,101.10 L52.96,101.35 L53.26,101.60 L53.57,101.83 L53.87,102.07 L54.17,102.29 L54.48,102.51 L54.78,102.72 L55.08,102.93 L55.39,103.13 L55.99,103.52 L56.60,103.89 L57.21,104.24 L57.82,104.57 L58.42,104.90 L59.03,105.20 L59.64,105.50 L60.24,105.78 L60.85,106.05 L61.46,106.31 L62.06,106.55 L62.67,106.79 L63.28,107.01 L63.88,107.23 L64.49,107.43 L65.10,107.62 L65.70,107.81 L66.31,107.98 L66.92,108.15 L67.53,108.30 L68.13,108.45 L68.74,108.58 L69.35,108.71 L69.95,108.83 L70.56,108.95 L71.17,109.06 L71.77,109.16 L72.38,109.25 L72.99,109.34 L73.59,109.43 L74.20,109.51 L74.81,109.59 L75.42,109.67 L76.02,109.74 L76.63,109.81 L77.24,109.89 L77.84,109.96 L78.45,110.03 L79.06,110.10 L79.66,110.18 L80.27,110.25 L80.88,110.33 L81.48,110.40 L82.09,110.48 L82.70,110.57 L83.30,110.65 L83.91,110.74 L84.52,110.83 L85.13,110.92 L85.73,111.01 L86.34,111.11 L86.95,111.21 L87.55,111.30 L88.16,111.40 L88.77,111.50 L89.37,111.60 L89.98,111.70 L90.59,111.80 L91.19,111.90 L91.80,111.99 L92.41,112.08 L93.02,112.18 L93.62,112.26 L94.23,112.35 L94.84,112.43 L95.44,112.51 L96.05,112.58 L96.66,112.64 L97.26,112.71 L97.87,112.76 L98.48,112.81 L99.08,112.86 L99.69,112.90 L100.30,112.93 L100.90,112.95 L101.51,112.97 L102.12,112.99 L102.73,113.00 L103.33,113.00 L103.94,113.00 L104.55,112.99 L105.15,112.98 L105.76,112.96 L106.37,112.94 L106.97,112.92 L107.58,112.89 L108.19,112.86 L108.79,112.83 L109.40,112.79 L110.01,112.76 L110.61,112.72 L111.22,112.69 L111.83,112.65 L112.44,112.62 L113.04,112.58 L113.65,112.55 L114.26,112.53 L114.86,112.50 L115.47,112.48 L116.08,112.47 L116.68,112.46 L117.29,112.46 L117.90,112.46 L118.50,112.46 L119.11,112.48 L119.72,112.50 L120.33,112.53 L120.93,112.57 L121.54,112.61 L122.15,112.67 L122.75,112.73 L123.36,112.80 L123.97,112.88 L124.57,112.97 L125.18,113.06 L125.79,113.17 L126.39,113.28 L127.00,113.40 L127.61,113.53 L128.21,113.67 L128.82,113.81 L129.43,113.97 L130.04,114.13 L130.64,114.29 L131.25,114.46 L131.86,114.64 L132.46,114.83 L133.07,115.02 L133.68,115.21 L134.28,115.41 L134.89,115.61 L135.50,115.81 L136.10,116.02 L136.71,116.23 L137.32,116.43 L137.93,116.64 L138.53,116.85 L139.14,117.06 L139.75,117.26 L140.35,117.47 L140.96,117.67 L141.57,117.87 L142.17,118.06 L142.78,118.25 L143.39,118.43 L143.99,118.61 L144.60,118.78 L145.21,118.95 L145.81,119.10 L146.42,119.25 L147.03,119.39 L147.64,119.52 L148.24,119.64 L148.85,119.75 L149.46,119.85 L150.06,119.94 L150.67,120.02 L151.28,120.09 L151.88,120.14 L152.49,120.18 L153.10,120.21 L153.70,120.23 L154.31,120.24 L154.92,120.23 L155.53,120.21 L156.13,120.17 L156.74,120.12 L157.35,120.06 L157.95,119.99 L158.56,119.90 L159.17,119.80 L159.77,119.69 L160.38,119.56 L160.99,119.43 L161.59,119.28 L162.20,119.11 L162.81,118.94 L163.41,118.75 L164.02,118.56 L164.63,118.35 L165.24,118.14 L165.84,117.91 L166.45,117.67 L167.06,117.43 L167.66,117.18 L168.27,116.92 L168.88,116.65 L169.48,116.38 L170.09,116.10 L170.70,115.81 L171.30,115.53 L171.91,115.24 L172.52,114.94 L173.12,114.65 L173.73,114.35 L174.34,114.05 L174.95,113.76 L175.55,113.46 L176.16,113.17 L176.77,112.88 L177.37,112.59 L177.98,112.31 L178.59,112.04 L179.19,111.77 L179.80,111.51 L180.41,111.26 L181.01,111.02 L181.62,110.79 L182.23,110.58 L182.84,110.37 L183.44,110.18 L184.05,110.01 L184.66,109.85 L185.26,109.71 L185.87,109.59 L186.48,109.48 L187.08,109.40 L187.69,109.34 L188.30,109.30 L188.90,109.29 L189.51,109.30 L190.12,109.34 L190.72,109.41 L191.33,109.50 L191.94,109.63 L192.55,109.78 L193.15,109.97 L193.76,110.19 L194.37,110.45 L194.97,110.74 L195.58,111.06 L196.19,111.43 L196.49,111.63 L196.79,111.83 L197.10,112.05 L197.40,112.28 L197.70,112.52 L198.01,112.76 L198.31,113.02 L198.61,113.29 L198.92,113.57 L199.22,113.86 L199.52,114.17 L199.83,114.48 L200.13,114.81 L200.44,115.14 L200.74,115.49 L201.04,115.85 L201.35,116.23 L201.65,116.61 L201.95,117.01 L202.26,117.42 L202.56,117.84 L202.86,118.28 L203.17,118.73 L203.47,119.19 L203.77,119.67 L204.08,120.16 L204.38,120.66 L204.68,121.17 L204.99,121.70 L205.29,122.25 L205.59,122.80 L205.90,123.38 L206.20,123.96 L206.50,124.56 L206.81,125.18 L207.11,125.81 L207.41,126.46 L207.72,127.12 L208.02,127.79 L208.32,128.49 L208.63,129.19 L208.93,129.92 L209.24,130.66 L209.54,131.41 L209.84,132.18 L210.15,132.97 L210.45,133.77 L210.75,134.59 L211.06,135.43 L211.36,136.29 L211.66,137.16 L211.97,138.05 L212.27,138.95 L212.57,139.88 L212.88,140.82 L213.18,141.78 L213.48,142.75 L213.79,143.75 L214.09,144.76 L214.39,145.79 L214.70,146.84 L215.00,147.91 L215.30,149.00 L215.61,150.11 L215.91,151.23 L216.21,152.38 L216.52,153.54 L216.82,154.73 L217.12,155.93 L217.43,157.15 L217.73,158.40 L218.04,159.66 L218.34,160.94 L218.64,162.25 L218.95,163.57 L219.25,164.92 L219.55,166.29 L219.86,167.68 L220.16,169.09 L220.46,170.52 L220.77,171.97 L221.07,173.44 L221.37,174.94 L221.68,176.46 L221.98,178.00 L222.28,179.56 L222.59,181.14 L222.89,182.75 L223.19,184.38 L223.50,186.03 L223.80,187.71 L224.10,189.41 L224.41,191.13 L224.71,192.88 L225.01,194.65 L225.32,196.44 L225.62,198.26 L225.92,200.10 L226.23,201.96 L226.53,203.86 L226.84,205.77 L227.14,207.71 L227.44,209.68 L227.75,211.67 L228.05,213.68 L228.35,215.72 L228.66,217.79 L228.96,219.88 L229.26,222.00 L229.57,224.14 L229.87,226.31 L230.17,228.51 L230.48,230.73 L230.78,232.98 L231.08,235.26 L231.39,237.57 L231.69,239.90 L231.99,242.26 L232.30,244.64 L232.60,247.06 L232.90,247.60 L233.51,247.60 L234.12,247.60 L234.72,247.60 L235.33,247.60 L235.94,247.60 L236.55,247.60 L237.15,247.60 L237.76,247.60 L238.37,247.60 L238.97,247.60 L239.58,247.60 L240.19,247.60 L240.79,247.60 L241.40,247.60 L242.01,247.60 L242.61,247.60 L243.22,247.60 L243.83,247.60 L244.43,247.60 L245.04,247.60 L245.65,247.60 L246.26,247.60 L246.86,247.60 L247.47,247.60 L248.08,247.60 L248.68,247.60 L249.29,247.60 L249.90,247.60 L250.50,247.60 L251.11,247.60 L251.72,247.60 L252.32,247.60 L252.93,247.60 L253.54,247.60 L254.15,247.60 L254.75,247.60 L255.36,247.60 L255.97,247.60 L256.57,247.60 L257.18,247.60 L257.79,247.60 L258.39,247.60 L259.00,247.60 L259.61,247.60 L260.21,247.60 L260.82,247.60 L261.43,247.60 L262.03,247.60 L262.64,247.60 L263.25,247.60 L263.86,247.60 L264.46,247.60 L265.07,247.60 L265.68,247.60 L266.28,247.60 L266.89,247.60 L267.50,247.60 L268.10,247.60 L268.71,247.60 L269.32,247.60 L269.92,247.60 L270.53,247.60 L271.14,247.60 L271.75,247.60 L272.35,247.60 L272.96,247.60 L273.57,247.60 L274.17,247.60 L274.78,247.60 L275.39,247.60 L275.99,247.60 L276.60,247.60 L277.21,247.60 L277.81,247.60 L278.42,247.60 L279.03,247.60 L279.63,247.60 L280.24,247.60 L280.85,247.60 L281.46,247.60 L282.06,247.60 L282.67,247.60 L283.28,247.60 L283.88,247.60 L284.49,247.60 L285.10,247.60 L285.70,247.60 L286.31,247.60 L286.92,247.60 L287.52,247.60 L288.13,247.60 L288.74,247.60 L289.35,247.60 L289.95,247.60 L290.56,247.60 L291.17,247.60 L291.77,247.60 L292.38,247.60 L292.99,247.60 L293.59,247.60 L294.20,247.60 L294.81,247.60 L295.41,247.60 L296.02,247.60 L296.63,247.60 L297.23,247.60 L297.84,247.60 L298.45,247.60 L299.06,247.60 L299.66,247.60 L300.27,247.60 L300.88,247.60 L301.48,247.60 L302.09,247.60 L302.70,247.60 L303.30,247.60 L303.91,247.60 L304.52,247.60 L305.12,247.60 L305.73,247.60 L306.34,247.60 L306.94,247.60 L307.55,247.60 L308.16,247.60 L308.77,247.60 L309.37,247.60 L309.98,247.60 L310.59,247.60 L311.19,247.60 L311.80,247.60 L312.41,247.60 L313.01,247.60 L313.62,247.60 L314.23,247.60 L314.83,247.60 L315.44,247.60 L316.05,247.60 L316.66,247.60 L317.26,247.60 L317.87,247.60 L318.48,247.60 L319.08,247.60 L319.69,247.60 L320.30,247.60 L320.60,247.60" stroke="#ff8614" stroke-width="1.8" stroke-dasharray="1.5 1.0" stroke-dashoffset="0.62"/>
<path d="M47.80,95.48 L48.11,95.95 L48.41,96.40 L48.71,96.83 L49.02,97.25 L49.32,97.65 L49.62,98.03 L49.93,98.40 L50.23,98.76 L50.53,99.10 L50.84,99.43 L51.14,99.74 L51.44,100.05 L51.75,100.34 L52.05,100.62 L52.35,100.89 L52.66,101.15 L52.96,101.40 L53.26,101.65 L53.57,101.88 L53.87,102.11 L54.17,102.33 L54.48,102.54 L54.78,102.74 L55.08,102.94 L55.69,103.33 L56.30,103.70 L56.90,104.05 L57.51,104.38 L58.12,104.71 L58.73,105.01 L59.33,105.31 L59.94,105.58 L60.55,105.84 L61.15,106.09 L61.76,106.32 L62.37,106.53 L62.97,106.73 L63.58,106.92 L64.19,107.11 L64.79,107.29 L65.40,107.46 L66.01,107.63 L66.62,107.80 L67.22,107.97 L67.83,108.13 L68.44,108.30 L69.04,108.45 L69.65,108.60 L70.26,108.74 L70.86,108.88 L71.47,109.00 L72.08,109.11 L72.68,109.21 L73.29,109.31 L73.90,109.40 L74.50,109.49 L75.11,109.58 L75.72,109.67 L76.33,109.76 L76.93,109.85 L77.54,109.95 L78.15,110.05 L78.75,110.15 L79.36,110.25 L79.97,110.35 L80.57,110.44 L81.18,110.53 L81.79,110.62 L82.39,110.69 L83.00,110.76 L83.61,110.82 L84.22,110.87 L84.82,110.92 L85.43,110.96 L86.04,111.00 L86.64,111.03 L87.25,111.07 L87.86,111.12 L88.46,111.16 L89.07,111.22 L89.68,111.28 L90.28,111.34 L90.89,111.41 L91.50,111.49 L92.10,111.56 L92.71,111.64 L93.32,111.71 L93.93,111.78 L94.53,111.84 L95.14,111.89 L95.75,111.93 L96.35,111.97 L96.96,112.00 L97.57,112.02 L98.17,112.03 L98.78,112.04 L99.39,112.04 L99.99,112.04 L100.60,112.05 L101.21,112.06 L101.82,112.07 L102.42,112.10 L103.03,112.13 L103.64,112.16 L104.24,112.21 L104.85,112.27 L105.46,112.33 L106.06,112.39 L106.67,112.46 L107.28,112.54 L107.88,112.61 L108.49,112.67 L109.10,112.73 L109.70,112.79 L110.31,112.83 L110.92,112.86 L111.53,112.89 L112.13,112.90 L112.74,112.90 L113.35,112.89 L113.95,112.88 L114.56,112.86 L115.17,112.83 L115.77,112.80 L116.38,112.78 L116.99,112.75 L117.59,112.74 L118.20,112.72 L118.81,112.72 L119.41,112.73 L120.02,112.75 L120.63,112.78 L121.24,112.83 L121.84,112.88 L122.45,112.95 L123.06,113.02 L123.66,113.11 L124.27,113.19 L124.88,113.28 L125.48,113.37 L126.09,113.46 L126.70,113.54 L127.30,113.61 L127.91,113.67 L128.52,113.73 L129.13,113.77 L129.73,113.79 L130.34,113.80 L130.95,113.80 L131.55,113.78 L132.16,113.75 L132.77,113.71 L133.37,113.66 L133.98,113.60 L134.59,113.53 L135.19,113.46 L135.80,113.39 L136.41,113.32 L137.01,113.26 L137.62,113.20 L138.23,113.16 L138.84,113.12 L139.44,113.10 L140.05,113.10 L140.66,113.11 L141.26,113.14 L141.87,113.19 L142.48,113.25 L143.08,113.34 L143.69,113.43 L144.30,113.54 L144.90,113.67 L145.51,113.80 L146.12,113.94 L146.73,114.09 L147.33,114.24 L147.94,114.38 L148.55,114.53 L149.15,114.67 L149.76,114.80 L150.37,114.91 L150.97,115.02 L151.58,115.10 L152.19,115.17 L152.79,115.22 L153.40,115.25 L154.01,115.26 L154.61,115.24 L155.22,115.21 L155.83,115.15 L156.44,115.08 L157.04,114.99 L157.65,114.88 L158.26,114.75 L158.86,114.62 L159.47,114.47 L160.08,114.32 L160.68,114.17 L161.29,114.01 L161.90,113.86 L162.50,113.71 L163.11,113.58 L163.72,113.45 L164.33,113.34 L164.93,113.25 L165.54,113.18 L166.15,113.13 L166.75,113.10 L167.36,113.10 L167.97,113.13 L168.57,113.18 L169.18,113.27 L169.79,113.38 L170.39,113.52 L171.00,113.69 L171.61,113.88 L172.21,114.10 L172.82,114.35 L173.43,114.61 L174.04,114.90 L174.64,115.20 L175.25,115.52 L175.86,115.85 L176.46,116.18 L177.07,116.52 L177.68,116.86 L178.28,117.20 L178.89,117.53 L179.50,117.86 L180.10,118.17 L180.71,118.47 L181.32,118.74 L181.92,119.00 L182.53,119.23 L183.14,119.43 L183.75,119.61 L184.35,119.75 L184.96,119.86 L185.57,119.94 L186.17,119.98 L186.78,119.99 L187.39,119.96 L187.99,119.89 L188.60,119.78 L189.21,119.64 L189.81,119.47 L190.42,119.26 L191.03,119.02 L191.64,118.75 L192.24,118.45 L192.85,118.13 L193.46,117.78 L194.06,117.41 L194.67,117.03 L195.28,116.64 L195.58,116.44 L195.88,116.23 L196.19,116.03 L196.49,115.82 L196.79,115.62 L197.10,115.41 L197.40,115.21 L197.70,115.00 L198.01,114.80 L198.31,114.60 L198.61,114.40 L199.22,114.01 L199.83,113.64 L200.44,113.28 L201.04,112.95 L201.65,112.65 L202.26,112.38 L202.86,112.14 L203.47,111.94 L204.08,111.78 L204.68,111.67 L205.29,111.60 L205.90,111.59 L206.50,111.62 L207.11,111.71 L207.72,111.85 L208.32,112.05 L208.93,112.31 L209.54,112.63 L210.15,113.02 L210.45,113.23 L210.75,113.46 L211.06,113.70 L211.36,113.96 L211.66,114.24 L211.97,114.53 L212.27,114.83 L212.57,115.15 L212.88,115.49 L213.18,115.84 L213.48,116.20 L213.79,116.58 L214.09,116.98 L214.39,117.38 L214.70,117.81 L215.00,118.24 L215.30,118.69 L215.61,119.16 L215.91,119.63 L216.21,120.12 L216.52,120.62 L216.82,121.14 L217.12,121.66 L217.43,122.20 L217.73,122.75 L218.04,123.31 L218.34,123.88 L218.64,124.46 L218.95,125.05 L219.25,125.65 L219.55,126.25 L219.86,126.87 L220.16,127.49 L220.46,128.12 L220.77,128.76 L221.07,129.41 L221.37,130.06 L221.68,130.71 L221.98,131.38 L222.28,132.04 L222.59,132.71 L222.89,133.38 L223.19,134.06 L223.50,134.74 L223.80,135.42 L224.10,136.10 L224.41,136.79 L224.71,137.47 L225.01,138.15 L225.32,138.83 L225.62,139.51 L225.92,140.19 L226.23,140.87 L226.53,141.54 L226.84,142.21 L227.14,142.88 L227.44,143.54 L227.75,144.19 L228.05,144.84 L228.35,145.48 L228.66,146.12 L228.96,146.75 L229.26,147.37 L229.57,147.98 L229.87,148.59 L230.17,149.18 L230.48,149.76 L230.78,150.34 L231.08,150.90 L231.39,151.45 L231.69,151.99 L231.99,152.51 L232.30,153.03 L232.60,153.53 L232.90,154.01 L233.21,154.48 L233.51,154.94 L233.81,155.38 L234.12,155.80 L234.42,156.21 L234.72,156.61 L235.03,156.98 L235.33,157.34 L235.63,157.68 L235.94,158.01 L236.24,158.31 L236.55,158.60 L236.85,158.86 L237.15,159.11 L237.46,159.34 L237.76,159.55 L238.37,159.90 L238.97,160.18 L239.58,160.37 L240.19,160.47 L240.79,160.49 L241.40,160.42 L242.01,160.26 L242.61,160.01 L243.22,159.67 L243.52,159.47 L243.83,159.24 L244.13,158.99 L244.43,158.72 L244.74,158.43 L245.04,158.11 L245.35,157.78 L245.65,157.42 L245.95,157.03 L246.26,156.63 L246.56,156.21 L246.86,155.76 L247.17,155.29 L247.47,154.80 L247.77,154.29 L248.08,153.76 L248.38,153.20 L248.68,152.63 L248.99,152.04 L249.29,151.42 L249.59,150.79 L249.90,150.14 L250.20,149.47 L250.50,148.78 L250.81,148.07 L251.11,147.34 L251.41,146.60 L251.72,145.84 L252.02,145.06 L252.32,144.27 L252.63,143.46 L252.93,142.63 L253.23,141.79 L253.54,140.94 L253.84,140.07 L254.15,139.18 L254.45,138.29 L254.75,137.38 L255.06,136.46 L255.36,135.52 L255.66,134.58 L255.97,133.62 L256.27,132.66 L256.57,131.69 L256.88,130.70 L257.18,129.71 L257.48,128.71 L257.79,127.71 L258.09,126.70 L258.39,125.68 L258.70,124.66 L259.00,123.63 L259.30,122.60 L259.61,121.57 L259.91,120.53 L260.21,119.49 L260.52,118.45 L260.82,117.42 L261.12,116.38 L261.43,115.34 L261.73,114.31 L262.03,113.27 L262.34,112.25 L262.64,111.22 L262.95,110.20 L263.25,109.19 L263.55,108.18 L263.86,107.18 L264.16,106.19 L264.46,105.21 L264.77,104.24 L265.07,103.28 L265.37,102.33 L265.68,101.39 L265.98,100.47 L266.28,99.56 L266.59,98.66 L266.89,97.79 L267.19,96.92 L267.50,96.08 L267.80,95.25 L268.10,94.45 L268.41,93.66 L268.71,92.89 L269.01,92.15 L269.32,91.43 L269.62,90.73 L269.92,90.06 L270.23,89.41 L270.53,88.79 L270.83,88.20 L271.14,87.64 L271.44,87.10 L271.75,86.60 L272.05,86.13 L272.35,85.69 L272.66,85.28 L272.96,84.91 L273.26,84.57 L273.57,84.27 L273.87,84.00 L274.17,83.77 L274.78,83.44 L275.39,83.26 L275.99,83.26 L276.60,83.44 L277.21,83.80 L277.51,84.05 L277.81,84.36 L278.12,84.71 L278.42,85.12 L278.72,85.57 L279.03,86.09 L279.33,86.65 L279.63,87.28 L279.94,87.95 L280.24,88.69 L280.55,89.49 L280.85,90.34 L281.15,91.26 L281.46,92.23 L281.76,93.27 L282.06,94.38 L282.37,95.54 L282.67,96.78 L282.97,98.08 L283.28,99.44 L283.58,100.88 L283.88,102.38 L284.19,103.96 L284.49,105.61 L284.79,107.33 L285.10,109.12 L285.40,110.99 L285.70,112.94 L286.01,114.96 L286.31,117.05 L286.61,119.23 L286.92,121.49 L287.22,123.83 L287.52,126.24 L287.83,128.75 L288.13,131.33 L288.43,134.00 L288.74,136.76 L289.04,139.60 L289.35,142.53 L289.65,145.55 L289.95,148.66 L290.26,151.86 L290.56,155.15 L290.86,158.53 L291.17,162.01 L291.47,165.58 L291.77,169.25 L292.08,173.01 L292.38,176.87 L292.68,180.84 L292.99,184.90 L293.29,189.06 L293.59,193.32 L293.90,197.69 L294.20,202.16 L294.50,206.73 L294.81,211.41 L295.11,216.20 L295.41,221.10 L295.72,226.10 L296.02,231.21 L296.32,236.44 L296.63,241.77 L296.93,247.22 L297.23,247.60 L297.84,247.60 L298.45,247.60 L299.06,247.60 L299.66,247.60 L300.27,247.60 L300.88,247.60 L301.48,247.60 L302.09,247.60 L302.70,247.60 L303.30,247.60 L303.91,247.60 L304.52,247.60 L305.12,247.60 L305.73,247.60 L306.34,247.60 L306.94,247.60 L307.55,247.60 L308.16,247.60 L308.77,247.60 L309.37,247.60 L309.98,247.60 L310.59,247.60 L311.19,247.60 L311.80,247.60 L312.41,247.60 L313.01,247.60 L313.62,247.60 L314.23,247.60 L314.83,247.60 L315.44,247.60 L316.05,247.60 L316.66,247.60 L317.26,247.60 L317.87,247.60 L318.48,247.60 L319.08,247.60 L319.69,247.60 L320.30,247.60 L320.60,247.60" stroke="#056a05" stroke-width="1.5" stroke-opacity="0.22"/>
<path d="M47.80,95.48 L48.11,95.95 L48.41,96.40 L48.71,96.83 L49.02,97.25 L49.32,97.65 L49.62,98.03 L49.93,98.40 L50.23,98.76 L50.53,99.10 L50.84,99.43 L51.14,99.74 L51.44,100.05 L51.75,100.34 L52.05,100.62 L52.35,100.89 L52.66,101.15 L52.96,101.40 L53.26,101.65 L53.57,101.88 L53.87,102.11 L54.17,102.33 L54.48,102.54 L54.78,102.74 L55.08,102.94 L55.69,103.33 L56.30,103.70 L56.90,104.05 L57.51,104.38 L58.12,104.71 L58.73,105.01 L59.33,105.31 L59.94,105.58 L60.55,105.84 L61.15,106.09 L61.76,106.32 L62.37,106.53 L62.97,106.73 L63.58,106.92 L64.19,107.11 L64.79,107.29 L65.40,107.46 L66.01,107.63 L66.62,107.80 L67.22,107.97 L67.83,108.13 L68.44,108.30 L69.04,108.45 L69.65,108.60 L70.26,108.74 L70.86,108.88 L71.47,109.00 L72.08,109.11 L72.68,109.21 L73.29,109.31 L73.90,109.40 L74.50,109.49 L75.11,109.58 L75.72,109.67 L76.33,109.76 L76.93,109.85 L77.54,109.95 L78.15,110.05 L78.75,110.15 L79.36,110.25 L79.97,110.35 L80.57,110.44 L81.18,110.53 L81.79,110.62 L82.39,110.69 L83.00,110.76 L83.61,110.82 L84.22,110.87 L84.82,110.92 L85.43,110.96 L86.04,111.00 L86.64,111.03 L87.25,111.07 L87.86,111.12 L88.46,111.16 L89.07,111.22 L89.68,111.28 L90.28,111.34 L90.89,111.41 L91.50,111.49 L92.10,111.56 L92.71,111.64 L93.32,111.71 L93.93,111.78 L94.53,111.84 L95.14,111.89 L95.75,111.93 L96.35,111.97 L96.96,112.00 L97.57,112.02 L98.17,112.03 L98.78,112.04 L99.39,112.04 L99.99,112.04 L100.60,112.05 L101.21,112.06 L101.82,112.07 L102.42,112.10 L103.03,112.13 L103.64,112.16 L104.24,112.21 L104.85,112.27 L105.46,112.33 L106.06,112.39 L106.67,112.46 L107.28,112.54 L107.88,112.61 L108.49,112.67 L109.10,112.73 L109.70,112.79 L110.31,112.83 L110.92,112.86 L111.53,112.89 L112.13,112.90 L112.74,112.90 L113.35,112.89 L113.95,112.88 L114.56,112.86 L115.17,112.83 L115.77,112.80 L116.38,112.78 L116.99,112.75 L117.59,112.74 L118.20,112.72 L118.81,112.72 L119.41,112.73 L120.02,112.75 L120.63,112.78 L121.24,112.83 L121.84,112.88 L122.45,112.95 L123.06,113.02 L123.66,113.11 L124.27,113.19 L124.88,113.28 L125.48,113.37 L126.09,113.46 L126.70,113.54 L127.30,113.61 L127.91,113.67 L128.52,113.73 L129.13,113.77 L129.73,113.79 L130.34,113.80 L130.95,113.80 L131.55,113.78 L132.16,113.75 L132.77,113.71 L133.37,113.66 L133.98,113.60 L134.59,113.53 L135.19,113.46 L135.80,113.39 L136.41,113.32 L137.01,113.26 L137.62,113.20 L138.23,113.16 L138.84,113.12 L139.44,113.10 L140.05,113.10 L140.66,113.11 L141.26,113.14 L141.87,113.19 L142.48,113.25 L143.08,113.34 L143.69,113.43 L144.30,113.54 L144.90,113.67 L145.51,113.80 L146.12,113.94 L146.73,114.09 L147.33,114.24 L147.94,114.38 L148.55,114.53 L149.15,114.67 L149.76,114.80 L150.37,114.91 L150.97,115.02 L151.58,115.10 L152.19,115.17 L152.79,115.22 L153.40,115.25 L154.01,115.26 L154.61,115.24 L155.22,115.21 L155.83,115.15 L156.44,115.08 L157.04,114.99 L157.65,114.88 L158.26,114.75 L158.86,114.62 L159.47,114.47 L160.08,114.32 L160.68,114.17 L161.29,114.01 L161.90,113.86 L162.50,113.71 L163.11,113.58 L163.72,113.45 L164.33,113.34 L164.93,113.25 L165.54,113.18 L166.15,113.13 L166.75,113.10 L167.36,113.10 L167.97,113.13 L168.57,113.18 L169.18,113.27 L169.79,113.38 L170.39,113.52 L171.00,113.69 L171.61,113.88 L172.21,114.10 L172.82,114.35 L173.43,114.61 L174.04,114.90 L174.64,115.20 L175.25,115.52 L175.86,115.85 L176.46,116.18 L177.07,116.52 L177.68,116.86 L178.28,117.20 L178.89,117.53 L179.50,117.86 L180.10,118.17 L180.71,118.47 L181.32,118.74 L181.92,119.00 L182.53,119.23 L183.14,119.43 L183.75,119.61 L184.35,119.75 L184.96,119.86 L185.57,119.94 L186.17,119.98 L186.78,119.99 L187.39,119.96 L187.99,119.89 L188.60,119.78 L189.21,119.64 L189.81,119.47 L190.42,119.26 L191.03,119.02 L191.64,118.75 L192.24,118.45 L192.85,118.13 L193.46,117.78 L194.06,117.41 L194.67,117.03 L195.28,116.64 L195.58,116.44 L195.88,116.23 L196.19,116.03 L196.49,115.82 L196.79,115.62 L197.10,115.41 L197.40,115.21 L197.70,115.00 L198.01,114.80 L198.31,114.60 L198.61,114.40 L199.22,114.01 L199.83,113.64 L200.44,113.28 L201.04,112.95 L201.65,112.65 L202.26,112.38 L202.86,112.14 L203.47,111.94 L204.08,111.78 L204.68,111.67 L205.29,111.60 L205.90,111.59 L206.50,111.62 L207.11,111.71 L207.72,111.85 L208.32,112.05 L208.93,112.31 L209.54,112.63 L210.15,113.02 L210.45,113.23 L210.75,113.46 L211.06,113.70 L211.36,113.96 L211.66,114.24 L211.97,114.53 L212.27,114.83 L212.57,115.15 L212.88,115.49 L213.18,115.84 L213.48,116.20 L213.79,116.58 L214.09,116.98 L214.39,117.38 L214.70,117.81 L215.00,118.24 L215.30,118.69 L215.61,119.16 L215.91,119.63 L216.21,120.12 L216.52,120.62 L216.82,121.14 L217.12,121.66 L217.43,122.20 L217.73,122.75 L218.04,123.31 L218.34,123.88 L218.64,124.46 L218.95,125.05 L219.25,125.65 L219.55,126.25 L219.86,126.87 L220.16,127.49 L220.46,128.12 L220.77,128.76 L221.07,129.41 L221.37,130.06 L221.68,130.71 L221.98,131.38 L222.28,132.04 L222.59,132.71 L222.89,133.38 L223.19,134.06 L223.50,134.74 L223.80,135.42 L224.10,136.10 L224.41,136.79 L224.71,137.47 L225.01,138.15 L225.32,138.83 L225.62,139.51 L225.92,140.19 L226.23,140.87 L226.53,141.54 L226.84,142.21 L227.14,142.88 L227.44,143.54 L227.75,144.19 L228.05,144.84 L228.35,145.48 L228.66,146.12 L228.96,146.75 L229.26,147.37 L229.57,147.98 L229.87,148.59 L230.17,149.18 L230.48,149.76 L230.78,150.34 L231.08,150.90 L231.39,151.45 L231.69,151.99 L231.99,152.51 L232.30,153.03 L232.60,153.53 L232.90,154.01 L233.21,154.48 L233.51,154.94 L233.81,155.38 L234.12,155.80 L234.42,156.21 L234.72,156.61 L235.03,156.98 L235.33,157.34 L235.63,157.68 L235.94,158.01 L236.24,158.31 L236.55,158.60 L236.85,158.86 L237.15,159.11 L237.46,159.34 L237.76,159.55 L238.37,159.90 L238.97,160.18 L239.58,160.37 L240.19,160.47 L240.79,160.49 L241.40,160.42 L242.01,160.26 L242.61,160.01 L243.22,159.67 L243.52,159.47 L243.83,159.24 L244.13,158.99 L244.43,158.72 L244.74,158.43 L245.04,158.11 L245.35,157.78 L245.65,157.42 L245.95,157.03 L246.26,156.63 L246.56,156.21 L246.86,155.76 L247.17,155.29 L247.47,154.80 L247.77,154.29 L248.08,153.76 L248.38,153.20 L248.68,152.63 L248.99,152.04 L249.29,151.42 L249.59,150.79 L249.90,150.14 L250.20,149.47 L250.50,148.78 L250.81,148.07 L251.11,147.34 L251.41,146.60 L251.72,145.84 L252.02,145.06 L252.32,144.27 L252.63,143.46 L252.93,142.63 L253.23,141.79 L253.54,140.94 L253.84,140.07 L254.15,139.18 L254.45,138.29 L254.75,137.38 L255.06,136.46 L255.36,135.52 L255.66,134.58 L255.97,133.62 L256.27,132.66 L256.57,131.69 L256.88,130.70 L257.18,129.71 L257.48,128.71 L257.79,127.71 L258.09,126.70 L258.39,125.68 L258.70,124.66 L259.00,123.63 L259.30,122.60 L259.61,121.57 L259.91,120.53 L260.21,119.49 L260.52,118.45 L260.82,117.42 L261.12,116.38 L261.43,115.34 L261.73,114.31 L262.03,113.27 L262.34,112.25 L262.64,111.22 L262.95,110.20 L263.25,109.19 L263.55,108.18 L263.86,107.18 L264.16,106.19 L264.46,105.21 L264.77,104.24 L265.07,103.28 L265.37,102.33 L265.68,101.39 L265.98,100.47 L266.28,99.56 L266.59,98.66 L266.89,97.79 L267.19,96.92 L267.50,96.08 L267.80,95.25 L268.10,94.45 L268.41,93.66 L268.71,92.89 L269.01,92.15 L269.32,91.43 L269.62,90.73 L269.92,90.06 L270.23,89.41 L270.53,88.79 L270.83,88.20 L271.14,87.64 L271.44,87.10 L271.75,86.60 L272.05,86.13 L272.35,85.69 L272.66,85.28 L272.96,84.91 L273.26,84.57 L273.57,84.27 L273.87,84.00 L274.17,83.77 L274.78,83.44 L275.39,83.26 L275.99,83.26 L276.60,83.44 L277.21,83.80 L277.51,84.05 L277.81,84.36 L278.12,84.71 L278.42,85.12 L278.72,85.57 L279.03,86.09 L279.33,86.65 L279.63,87.28 L279.94,87.95 L280.24,88.69 L280.55,89.49 L280.85,90.34 L281.15,91.26 L281.46,92.23 L281.76,93.27 L282.06,94.38 L282.37,95.54 L282.67,96.78 L282.97,98.08 L283.28,99.44 L283.58,100.88 L283.88,102.38 L284.19,103.96 L284.49,105.61 L284.79,107.33 L285.10,109.12 L285.40,110.99 L285.70,112.94 L286.01,114.96 L286.31,117.05 L286.61,119.23 L286.92,121.49 L287.22,123.83 L287.52,126.24 L287.83,128.75 L288.13,131.33 L288.43,134.00 L288.74,136.76 L289.04,139.60 L289.35,142.53 L289.65,145.55 L289.95,148.66 L290.26,151.86 L290.56,155.15 L290.86,158.53 L291.17,162.01 L291.47,165.58 L291.77,169.25 L292.08,173.01 L292.38,176.87 L292.68,180.84 L292.99,184.90 L293.29,189.06 L293.59,193.32 L293.90,197.69 L294.20,202.16 L294.50,206.73 L294.81,211.41 L295.11,216.20 L295.41,221.10 L295.72,226.10 L296.02,231.21 L296.32,236.44 L296.63,241.77 L296.93,247.22 L297.23,247.60 L297.84,247.60 L298.45,247.60 L299.06,247.60 L299.66,247.60 L300.27,247.60 L300.88,247.60 L301.48,247.60 L302.09,247.60 L302.70,247.60 L303.30,247.60 L303.91,247.60 L304.52,247.60 L305.12,247.60 L305.73,247.60 L306.34,247.60 L306.94,247.60 L307.55,247.60 L308.16,247.60 L308.77,247.60 L309.37,247.60 L309.98,247.60 L310.59,247.60 L311.19,247.60 L311.80,247.60 L312.41,247.60 L313.01,247.60 L313.62,247.60 L314.23,247.60 L314.83,247.60 L315.44,247.60 L316.05,247.60 L316.66,247.60 L317.26,247.60 L317.87,247.60 L318.48,247.60 L319.08,247.60 L319.69,247.60 L320.30,247.60 L320.60,247.60" stroke="#056a05" stroke-width="1.8" stroke-dasharray="1.5 1.0" stroke-dashoffset="1.25"/>
<path d="M47.80,95.48 L48.11,95.95 L48.41,96.41 L48.71,96.84 L49.02,97.26 L49.32,97.66 L49.62,98.04 L49.93,98.41 L50.23,98.76 L50.53,99.10 L50.84,99.42 L51.14,99.73 L51.44,100.03 L51.75,100.32 L52.05,100.60 L52.35,100.87 L52.66,101.13 L52.96,101.38 L53.26,101.62 L53.57,101.86 L53.87,102.09 L54.17,102.31 L54.48,102.53 L54.78,102.74 L55.08,102.95 L55.39,103.15 L55.69,103.35 L56.30,103.72 L56.90,104.08 L57.51,104.41 L58.12,104.72 L58.73,105.01 L59.33,105.28 L59.94,105.54 L60.55,105.79 L61.15,106.03 L61.76,106.27 L62.37,106.50 L62.97,106.72 L63.58,106.93 L64.19,107.14 L64.79,107.33 L65.40,107.51 L66.01,107.67 L66.62,107.83 L67.22,107.98 L67.83,108.12 L68.44,108.26 L69.04,108.40 L69.65,108.54 L70.26,108.68 L70.86,108.82 L71.47,108.96 L72.08,109.09 L72.68,109.21 L73.29,109.33 L73.90,109.43 L74.50,109.53 L75.11,109.61 L75.72,109.70 L76.33,109.78 L76.93,109.86 L77.54,109.94 L78.15,110.03 L78.75,110.12 L79.36,110.22 L79.97,110.31 L80.57,110.41 L81.18,110.50 L81.79,110.58 L82.39,110.66 L83.00,110.72 L83.61,110.78 L84.22,110.83 L84.82,110.88 L85.43,110.92 L86.04,110.96 L86.64,111.01 L87.25,111.06 L87.86,111.12 L88.46,111.19 L89.07,111.26 L89.68,111.33 L90.28,111.40 L90.89,111.48 L91.50,111.54 L92.10,111.60 L92.71,111.65 L93.32,111.69 L93.93,111.72 L94.53,111.74 L95.14,111.76 L95.75,111.78 L96.35,111.79 L96.96,111.81 L97.57,111.84 L98.17,111.87 L98.78,111.92 L99.39,111.97 L99.99,112.03 L100.60,112.09 L101.21,112.16 L101.82,112.22 L102.42,112.28 L103.03,112.33 L103.64,112.38 L104.24,112.41 L104.85,112.43 L105.46,112.45 L106.06,112.45 L106.67,112.45 L107.28,112.44 L107.88,112.43 L108.49,112.43 L109.10,112.43 L109.70,112.44 L110.31,112.46 L110.92,112.49 L111.53,112.53 L112.13,112.58 L112.74,112.64 L113.35,112.71 L113.95,112.78 L114.56,112.84 L115.17,112.91 L115.77,112.96 L116.38,113.01 L116.99,113.04 L117.59,113.06 L118.20,113.07 L118.81,113.06 L119.41,113.05 L120.02,113.02 L120.63,112.99 L121.24,112.96 L121.84,112.93 L122.45,112.90 L123.06,112.88 L123.66,112.87 L124.27,112.88 L124.88,112.90 L125.48,112.93 L126.09,112.98 L126.70,113.04 L127.30,113.12 L127.91,113.20 L128.52,113.28 L129.13,113.37 L129.73,113.45 L130.34,113.52 L130.95,113.59 L131.55,113.64 L132.16,113.68 L132.77,113.70 L133.37,113.71 L133.98,113.69 L134.59,113.67 L135.19,113.62 L135.80,113.57 L136.41,113.51 L137.01,113.44 L137.62,113.38 L138.23,113.31 L138.84,113.26 L139.44,113.21 L140.05,113.18 L140.66,113.17 L141.26,113.17 L141.87,113.19 L142.48,113.23 L143.08,113.29 L143.69,113.37 L144.30,113.47 L144.90,113.58 L145.51,113.70 L146.12,113.82 L146.73,113.95 L147.33,114.07 L147.94,114.19 L148.55,114.30 L149.15,114.40 L149.76,114.48 L150.37,114.54 L150.97,114.58 L151.58,114.60 L152.19,114.59 L152.79,114.56 L153.40,114.51 L154.01,114.44 L154.61,114.35 L155.22,114.25 L155.83,114.13 L156.44,114.01 L157.04,113.88 L157.65,113.76 L158.26,113.64 L158.86,113.53 L159.47,113.44 L160.08,113.36 L160.68,113.30 L161.29,113.27 L161.90,113.27 L162.50,113.29 L163.11,113.34 L163.72,113.42 L164.33,113.52 L164.93,113.66 L165.54,113.82 L166.15,113.99 L166.75,114.19 L167.36,114.41 L167.97,114.63 L168.57,114.86 L169.18,115.09 L169.79,115.32 L170.39,115.54 L171.00,115.75 L171.61,115.94 L172.21,116.11 L172.82,116.26 L173.43,116.38 L174.04,116.47 L174.64,116.53 L175.25,116.55 L175.86,116.54 L176.46,116.50 L177.07,116.42 L177.68,116.31 L178.28,116.17 L178.89,116.00 L179.50,115.81 L180.10,115.59 L180.71,115.36 L181.32,115.11 L181.92,114.86 L182.53,114.60 L183.14,114.35 L183.75,114.10 L184.35,113.86 L184.96,113.64 L185.57,113.44 L186.17,113.27 L186.78,113.13 L187.39,113.02 L187.99,112.95 L188.60,112.92 L189.21,112.94 L189.81,113.00 L190.42,113.10 L191.03,113.25 L191.64,113.45 L192.24,113.69 L192.85,113.98 L193.46,114.31 L194.06,114.68 L194.37,114.88 L194.67,115.09 L194.97,115.30 L195.28,115.53 L195.58,115.76 L195.88,116.00 L196.19,116.24 L196.49,116.49 L196.79,116.75 L197.10,117.01 L197.40,117.27 L197.70,117.54 L198.01,117.81 L198.31,118.08 L198.61,118.35 L198.92,118.63 L199.22,118.90 L199.52,119.17 L199.83,119.45 L200.13,119.71 L200.44,119.98 L200.74,120.24 L201.04,120.50 L201.35,120.76 L201.65,121.00 L201.95,121.25 L202.26,121.48 L202.56,121.71 L202.86,121.93 L203.17,122.14 L203.47,122.34 L204.08,122.71 L204.68,123.04 L205.29,123.32 L205.90,123.56 L206.50,123.73 L207.11,123.86 L207.72,123.92 L208.32,123.93 L208.93,123.88 L209.54,123.77 L210.15,123.60 L210.75,123.38 L211.36,123.09 L211.97,122.76 L212.57,122.37 L212.88,122.15 L213.18,121.93 L213.48,121.69 L213.79,121.45 L214.09,121.19 L214.39,120.92 L214.70,120.65 L215.00,120.36 L215.30,120.07 L215.61,119.77 L215.91,119.47 L216.21,119.15 L216.52,118.84 L216.82,118.51 L217.12,118.19 L217.43,117.86 L217.73,117.53 L218.04,117.19 L218.34,116.86 L218.64,116.52 L218.95,116.19 L219.25,115.86 L219.55,115.53 L219.86,115.20 L220.16,114.88 L220.46,114.56 L220.77,114.25 L221.07,113.94 L221.37,113.64 L221.68,113.35 L221.98,113.06 L222.28,112.79 L222.59,112.53 L222.89,112.27 L223.19,112.03 L223.50,111.80 L223.80,111.59 L224.10,111.39 L224.71,111.03 L225.32,110.73 L225.92,110.50 L226.53,110.35 L227.14,110.27 L227.75,110.28 L228.35,110.37 L228.96,110.55 L229.57,110.82 L230.17,111.19 L230.48,111.41 L230.78,111.65 L231.08,111.92 L231.39,112.21 L231.69,112.53 L231.99,112.87 L232.30,113.24 L232.60,113.63 L232.90,114.04 L233.21,114.48 L233.51,114.95 L233.81,115.44 L234.12,115.95 L234.42,116.49 L234.72,117.05 L235.03,117.64 L235.33,118.25 L235.63,118.89 L235.94,119.54 L236.24,120.22 L236.55,120.92 L236.85,121.65 L237.15,122.39 L237.46,123.16 L237.76,123.95 L238.06,124.76 L238.37,125.58 L238.67,126.43 L238.97,127.30 L239.28,128.18 L239.58,129.08 L239.88,130.00 L240.19,130.94 L240.49,131.89 L240.79,132.85 L241.10,133.83 L241.40,134.83 L241.70,135.83 L242.01,136.85 L242.31,137.88 L242.61,138.92 L242.92,139.97 L243.22,141.03 L243.52,142.10 L243.83,143.17 L244.13,144.25 L244.43,145.34 L244.74,146.43 L245.04,147.53 L245.35,148.63 L245.65,149.73 L245.95,150.83 L246.26,151.94 L246.56,153.04 L246.86,154.14 L247.17,155.24 L247.47,156.34 L247.77,157.43 L248.08,158.52 L248.38,159.60 L248.68,160.68 L248.99,161.75 L249.29,162.81 L249.59,163.86 L249.90,164.90 L250.20,165.93 L250.50,166.95 L250.81,167.95 L251.11,168.94 L251.41,169.92 L251.72,170.88 L252.02,171.82 L252.32,172.75 L252.63,173.66 L252.93,174.55 L253.23,175.43 L253.54,176.28 L253.84,177.11 L254.15,177.92 L254.45,178.70 L254.75,179.47 L255.06,180.21 L255.36,180.92 L255.66,181.61 L255.97,182.28 L256.27,182.91 L256.57,183.52 L256.88,184.11 L257.18,184.66 L257.48,185.19 L257.79,185.68 L258.09,186.15 L258.39,186.58 L258.70,186.99 L259.00,187.36 L259.30,187.70 L259.61,188.01 L259.91,188.28 L260.21,188.52 L260.52,188.73 L261.12,189.04 L261.73,189.22 L262.34,189.25 L262.95,189.15 L263.55,188.90 L264.16,188.50 L264.46,188.25 L264.77,187.96 L265.07,187.63 L265.37,187.27 L265.68,186.88 L265.98,186.44 L266.28,185.97 L266.59,185.46 L266.89,184.92 L267.19,184.34 L267.50,183.73 L267.80,183.08 L268.10,182.40 L268.41,181.68 L268.71,180.92 L269.01,180.13 L269.32,179.31 L269.62,178.45 L269.92,177.56 L270.23,176.64 L270.53,175.68 L270.83,174.70 L271.14,173.68 L271.44,172.62 L271.75,171.54 L272.05,170.43 L272.35,169.29 L272.66,168.12 L272.96,166.92 L273.26,165.69 L273.57,164.44 L273.87,163.16 L274.17,161.85 L274.48,160.52 L274.78,159.16 L275.08,157.78 L275.39,156.37 L275.69,154.95 L275.99,153.50 L276.30,152.03 L276.60,150.55 L276.90,149.04 L277.21,147.52 L277.51,145.97 L277.81,144.42 L278.12,142.84 L278.42,141.26 L278.72,139.65 L279.03,138.04 L279.33,136.42 L279.63,134.78 L279.94,133.14 L280.24,131.49 L280.55,129.83 L280.85,128.16 L281.15,126.49 L281.46,124.81 L281.76,123.14 L282.06,121.46 L282.37,119.78 L282.67,118.10 L282.97,116.42 L283.28,114.75 L283.58,113.08 L283.88,111.42 L284.19,109.76 L284.49,108.11 L284.79,106.47 L285.10,104.84 L285.40,103.23 L285.70,101.62 L286.01,100.03 L286.31,98.46 L286.61,96.90 L286.92,95.37 L287.22,93.85 L287.52,92.35 L287.83,90.88 L288.13,89.43 L288.43,88.01 L288.74,86.61 L289.04,85.24 L289.35,83.90 L289.65,82.59 L289.95,81.32 L290.26,80.07 L290.56,78.87 L290.86,77.70 L291.17,76.57 L291.47,75.48 L291.77,74.43 L292.08,73.42 L292.38,72.46 L292.68,71.54 L292.99,70.67 L293.29,69.85 L293.59,69.08 L293.90,68.36 L294.20,67.70 L294.50,67.09 L294.81,66.53 L295.11,66.04 L295.41,65.60 L295.72,65.23 L296.02,64.91 L296.32,64.67 L296.93,64.37 L297.54,64.35 L298.14,64.62 L298.45,64.86 L298.75,65.19 L299.06,65.59 L299.36,66.07 L299.66,66.63 L299.97,67.28 L300.27,68.01 L300.57,68.83 L300.88,69.74 L301.18,70.73 L301.48,71.82 L301.79,73.00 L302.09,74.27 L302.39,75.64 L302.70,77.11 L303.00,78.68 L303.30,80.35 L303.61,82.12 L303.91,84.00 L304.21,85.98 L304.52,88.07 L304.82,90.26 L305.12,92.57 L305.43,94.99 L305.73,97.53 L306.03,100.18 L306.34,102.95 L306.64,105.83 L306.94,108.84 L307.25,111.97 L307.55,115.22 L307.86,118.60 L308.16,122.11 L308.46,125.74 L308.77,129.50 L309.07,133.40 L309.37,137.43 L309.68,141.59 L309.98,145.89 L310.28,150.33 L310.59,154.91 L310.89,159.63 L311.19,164.50 L311.50,169.51 L311.80,174.66 L312.10,179.96 L312.41,185.42 L312.71,191.02 L313.01,196.78 L313.32,202.69 L313.62,208.76 L313.92,214.99 L314.23,221.37 L314.53,227.92 L314.83,234.63 L315.14,241.50 L315.44,247.60 L316.05,247.60 L316.66,247.60 L317.26,247.60 L317.87,247.60 L318.48,247.60 L319.08,247.60 L319.69,247.60 L320.30,247.60 L320.60,247.60" stroke="#166ee0" stroke-width="1.5" stroke-opacity="0.22"/>
<path d="M47.80,95.48 L48.11,95.95 L48.41,96.41 L48.71,96.84 L49.02,97.26 L49.32,97.66 L49.62,98.04 L49.93,98.41 L50.23,98.76 L50.53,99.10 L50.84,99.42 L51.14,99.73 L51.44,100.03 L51.75,100.32 L52.05,100.60 L52.35,100.87 L52.66,101.13 L52.96,101.38 L53.26,101.62 L53.57,101.86 L53.87,102.09 L54.17,102.31 L54.48,102.53 L54.78,102.74 L55.08,102.95 L55.39,103.15 L55.69,103.35 L56.30,103.72 L56.90,104.08 L57.51,104.41 L58.12,104.72 L58.73,105.01 L59.33,105.28 L59.94,105.54 L60.55,105.79 L61.15,106.03 L61.76,106.27 L62.37,106.50 L62.97,106.72 L63.58,106.93 L64.19,107.14 L64.79,107.33 L65.40,107.51 L66.01,107.67 L66.62,107.83 L67.22,107.98 L67.83,108.12 L68.44,108.26 L69.04,108.40 L69.65,108.54 L70.26,108.68 L70.86,108.82 L71.47,108.96 L72.08,109.09 L72.68,109.21 L73.29,109.33 L73.90,109.43 L74.50,109.53 L75.11,109.61 L75.72,109.70 L76.33,109.78 L76.93,109.86 L77.54,109.94 L78.15,110.03 L78.75,110.12 L79.36,110.22 L79.97,110.31 L80.57,110.41 L81.18,110.50 L81.79,110.58 L82.39,110.66 L83.00,110.72 L83.61,110.78 L84.22,110.83 L84.82,110.88 L85.43,110.92 L86.04,110.96 L86.64,111.01 L87.25,111.06 L87.86,111.12 L88.46,111.19 L89.07,111.26 L89.68,111.33 L90.28,111.40 L90.89,111.48 L91.50,111.54 L92.10,111.60 L92.71,111.65 L93.32,111.69 L93.93,111.72 L94.53,111.74 L95.14,111.76 L95.75,111.78 L96.35,111.79 L96.96,111.81 L97.57,111.84 L98.17,111.87 L98.78,111.92 L99.39,111.97 L99.99,112.03 L100.60,112.09 L101.21,112.16 L101.82,112.22 L102.42,112.28 L103.03,112.33 L103.64,112.38 L104.24,112.41 L104.85,112.43 L105.46,112.45 L106.06,112.45 L106.67,112.45 L107.28,112.44 L107.88,112.43 L108.49,112.43 L109.10,112.43 L109.70,112.44 L110.31,112.46 L110.92,112.49 L111.53,112.53 L112.13,112.58 L112.74,112.64 L113.35,112.71 L113.95,112.78 L114.56,112.84 L115.17,112.91 L115.77,112.96 L116.38,113.01 L116.99,113.04 L117.59,113.06 L118.20,113.07 L118.81,113.06 L119.41,113.05 L120.02,113.02 L120.63,112.99 L121.24,112.96 L121.84,112.93 L122.45,112.90 L123.06,112.88 L123.66,112.87 L124.27,112.88 L124.88,112.90 L125.48,112.93 L126.09,112.98 L126.70,113.04 L127.30,113.12 L127.91,113.20 L128.52,113.28 L129.13,113.37 L129.73,113.45 L130.34,113.52 L130.95,113.59 L131.55,113.64 L132.16,113.68 L132.77,113.70 L133.37,113.71 L133.98,113.69 L134.59,113.67 L135.19,113.62 L135.80,113.57 L136.41,113.51 L137.01,113.44 L137.62,113.38 L138.23,113.31 L138.84,113.26 L139.44,113.21 L140.05,113.18 L140.66,113.17 L141.26,113.17 L141.87,113.19 L142.48,113.23 L143.08,113.29 L143.69,113.37 L144.30,113.47 L144.90,113.58 L145.51,113.70 L146.12,113.82 L146.73,113.95 L147.33,114.07 L147.94,114.19 L148.55,114.30 L149.15,114.40 L149.76,114.48 L150.37,114.54 L150.97,114.58 L151.58,114.60 L152.19,114.59 L152.79,114.56 L153.40,114.51 L154.01,114.44 L154.61,114.35 L155.22,114.25 L155.83,114.13 L156.44,114.01 L157.04,113.88 L157.65,113.76 L158.26,113.64 L158.86,113.53 L159.47,113.44 L160.08,113.36 L160.68,113.30 L161.29,113.27 L161.90,113.27 L162.50,113.29 L163.11,113.34 L163.72,113.42 L164.33,113.52 L164.93,113.66 L165.54,113.82 L166.15,113.99 L166.75,114.19 L167.36,114.41 L167.97,114.63 L168.57,114.86 L169.18,115.09 L169.79,115.32 L170.39,115.54 L171.00,115.75 L171.61,115.94 L172.21,116.11 L172.82,116.26 L173.43,116.38 L174.04,116.47 L174.64,116.53 L175.25,116.55 L175.86,116.54 L176.46,116.50 L177.07,116.42 L177.68,116.31 L178.28,116.17 L178.89,116.00 L179.50,115.81 L180.10,115.59 L180.71,115.36 L181.32,115.11 L181.92,114.86 L182.53,114.60 L183.14,114.35 L183.75,114.10 L184.35,113.86 L184.96,113.64 L185.57,113.44 L186.17,113.27 L186.78,113.13 L187.39,113.02 L187.99,112.95 L188.60,112.92 L189.21,112.94 L189.81,113.00 L190.42,113.10 L191.03,113.25 L191.64,113.45 L192.24,113.69 L192.85,113.98 L193.46,114.31 L194.06,114.68 L194.37,114.88 L194.67,115.09 L194.97,115.30 L195.28,115.53 L195.58,115.76 L195.88,116.00 L196.19,116.24 L196.49,116.49 L196.79,116.75 L197.10,117.01 L197.40,117.27 L197.70,117.54 L198.01,117.81 L198.31,118.08 L198.61,118.35 L198.92,118.63 L199.22,118.90 L199.52,119.17 L199.83,119.45 L200.13,119.71 L200.44,119.98 L200.74,120.24 L201.04,120.50 L201.35,120.76 L201.65,121.00 L201.95,121.25 L202.26,121.48 L202.56,121.71 L202.86,121.93 L203.17,122.14 L203.47,122.34 L204.08,122.71 L204.68,123.04 L205.29,123.32 L205.90,123.56 L206.50,123.73 L207.11,123.86 L207.72,123.92 L208.32,123.93 L208.93,123.88 L209.54,123.77 L210.15,123.60 L210.75,123.38 L211.36,123.09 L211.97,122.76 L212.57,122.37 L212.88,122.15 L213.18,121.93 L213.48,121.69 L213.79,121.45 L214.09,121.19 L214.39,120.92 L214.70,120.65 L215.00,120.36 L215.30,120.07 L215.61,119.77 L215.91,119.47 L216.21,119.15 L216.52,118.84 L216.82,118.51 L217.12,118.19 L217.43,117.86 L217.73,117.53 L218.04,117.19 L218.34,116.86 L218.64,116.52 L218.95,116.19 L219.25,115.86 L219.55,115.53 L219.86,115.20 L220.16,114.88 L220.46,114.56 L220.77,114.25 L221.07,113.94 L221.37,113.64 L221.68,113.35 L221.98,113.06 L222.28,112.79 L222.59,112.53 L222.89,112.27 L223.19,112.03 L223.50,111.80 L223.80,111.59 L224.10,111.39 L224.71,111.03 L225.32,110.73 L225.92,110.50 L226.53,110.35 L227.14,110.27 L227.75,110.28 L228.35,110.37 L228.96,110.55 L229.57,110.82 L230.17,111.19 L230.48,111.41 L230.78,111.65 L231.08,111.92 L231.39,112.21 L231.69,112.53 L231.99,112.87 L232.30,113.24 L232.60,113.63 L232.90,114.04 L233.21,114.48 L233.51,114.95 L233.81,115.44 L234.12,115.95 L234.42,116.49 L234.72,117.05 L235.03,117.64 L235.33,118.25 L235.63,118.89 L235.94,119.54 L236.24,120.22 L236.55,120.92 L236.85,121.65 L237.15,122.39 L237.46,123.16 L237.76,123.95 L238.06,124.76 L238.37,125.58 L238.67,126.43 L238.97,127.30 L239.28,128.18 L239.58,129.08 L239.88,130.00 L240.19,130.94 L240.49,131.89 L240.79,132.85 L241.10,133.83 L241.40,134.83 L241.70,135.83 L242.01,136.85 L242.31,137.88 L242.61,138.92 L242.92,139.97 L243.22,141.03 L243.52,142.10 L243.83,143.17 L244.13,144.25 L244.43,145.34 L244.74,146.43 L245.04,147.53 L245.35,148.63 L245.65,149.73 L245.95,150.83 L246.26,151.94 L246.56,153.04 L246.86,154.14 L247.17,155.24 L247.47,156.34 L247.77,157.43 L248.08,158.52 L248.38,159.60 L248.68,160.68 L248.99,161.75 L249.29,162.81 L249.59,163.86 L249.90,164.90 L250.20,165.93 L250.50,166.95 L250.81,167.95 L251.11,168.94 L251.41,169.92 L251.72,170.88 L252.02,171.82 L252.32,172.75 L252.63,173.66 L252.93,174.55 L253.23,175.43 L253.54,176.28 L253.84,177.11 L254.15,177.92 L254.45,178.70 L254.75,179.47 L255.06,180.21 L255.36,180.92 L255.66,181.61 L255.97,182.28 L256.27,182.91 L256.57,183.52 L256.88,184.11 L257.18,184.66 L257.48,185.19 L257.79,185.68 L258.09,186.15 L258.39,186.58 L258.70,186.99 L259.00,187.36 L259.30,187.70 L259.61,188.01 L259.91,188.28 L260.21,188.52 L260.52,188.73 L261.12,189.04 L261.73,189.22 L262.34,189.25 L262.95,189.15 L263.55,188.90 L264.16,188.50 L264.46,188.25 L264.77,187.96 L265.07,187.63 L265.37,187.27 L265.68,186.88 L265.98,186.44 L266.28,185.97 L266.59,185.46 L266.89,184.92 L267.19,184.34 L267.50,183.73 L267.80,183.08 L268.10,182.40 L268.41,181.68 L268.71,180.92 L269.01,180.13 L269.32,179.31 L269.62,178.45 L269.92,177.56 L270.23,176.64 L270.53,175.68 L270.83,174.70 L271.14,173.68 L271.44,172.62 L271.75,171.54 L272.05,170.43 L272.35,169.29 L272.66,168.12 L272.96,166.92 L273.26,165.69 L273.57,164.44 L273.87,163.16 L274.17,161.85 L274.48,160.52 L274.78,159.16 L275.08,157.78 L275.39,156.37 L275.69,154.95 L275.99,153.50 L276.30,152.03 L276.60,150.55 L276.90,149.04 L277.21,147.52 L277.51,145.97 L277.81,144.42 L278.12,142.84 L278.42,141.26 L278.72,139.65 L279.03,138.04 L279.33,136.42 L279.63,134.78 L279.94,133.14 L280.24,131.49 L280.55,129.83 L280.85,128.16 L281.15,126.49 L281.46,124.81 L281.76,123.14 L282.06,121.46 L282.37,119.78 L282.67,118.10 L282.97,116.42 L283.28,114.75 L283.58,113.08 L283.88,111.42 L284.19,109.76 L284.49,108.11 L284.79,106.47 L285.10,104.84 L285.40,103.23 L285.70,101.62 L286.01,100.03 L286.31,98.46 L286.61,96.90 L286.92,95.37 L287.22,93.85 L287.52,92.35 L287.83,90.88 L288.13,89.43 L288.43,88.01 L288.74,86.61 L289.04,85.24 L289.35,83.90 L289.65,82.59 L289.95,81.32 L290.26,80.07 L290.56,78.87 L290.86,77.70 L291.17,76.57 L291.47,75.48 L291.77,74.43 L292.08,73.42 L292.38,72.46 L292.68,71.54 L292.99,70.67 L293.29,69.85 L293.59,69.08 L293.90,68.36 L294.20,67.70 L294.50,67.09 L294.81,66.53 L295.11,66.04 L295.41,65.60 L295.72,65.23 L296.02,64.91 L296.32,64.67 L296.93,64.37 L297.54,64.35 L298.14,64.62 L298.45,64.86 L298.75,65.19 L299.06,65.59 L299.36,66.07 L299.66,66.63 L299.97,67.28 L300.27,68.01 L300.57,68.83 L300.88,69.74 L301.18,70.73 L301.48,71.82 L301.79,73.00 L302.09,74.27 L302.39,75.64 L302.70,77.11 L303.00,78.68 L303.30,80.35 L303.61,82.12 L303.91,84.00 L304.21,85.98 L304.52,88.07 L304.82,90.26 L305.12,92.57 L305.43,94.99 L305.73,97.53 L306.03,100.18 L306.34,102.95 L306.64,105.83 L306.94,108.84 L307.25,111.97 L307.55,115.22 L307.86,118.60 L308.16,122.11 L308.46,125.74 L308.77,129.50 L309.07,133.40 L309.37,137.43 L309.68,141.59 L309.98,145.89 L310.28,150.33 L310.59,154.91 L310.89,159.63 L311.19,164.50 L311.50,169.51 L311.80,174.66 L312.10,179.96 L312.41,185.42 L312.71,191.02 L313.01,196.78 L313.32,202.69 L313.62,208.76 L313.92,214.99 L314.23,221.37 L314.53,227.92 L314.83,234.63 L315.14,241.50 L315.44,247.60 L316.05,247.60 L316.66,247.60 L317.26,247.60 L317.87,247.60 L318.48,247.60 L319.08,247.60 L319.69,247.60 L320.30,247.60 L320.60,247.60" stroke="#166ee0" stroke-width="1.8" stroke-dasharray="1.5 1.0" stroke-dashoffset="1.87"/>
</g>
</g>
<circle cx="67.2" cy="107.3" r="3.55" fill="none" stroke="#303030" stroke-width="0.6"/>
<circle cx="141.45" cy="112.65" r="3.55" fill="none" stroke="#303030" stroke-width="0.6"/>
<rect x="47.8" y="4.7" width="272.8" height="192.9" fill="none" stroke="#000" stroke-width="0.8"/>
<path d="M47.8,4.70h3.2M320.6,4.70h-3.2M47.8,43.28h3.2M320.6,43.28h-3.2M47.8,81.86h3.2M320.6,81.86h-3.2M47.8,120.44h3.2M320.6,120.44h-3.2M47.8,159.02h3.2M320.6,159.02h-3.2M47.8,197.60h3.2M320.6,197.60h-3.2M51.47,197.6v-1.6M51.47,4.7v1.6M67.85,197.6v-1.6M67.85,4.7v1.6M81.70,197.6v-1.6M81.70,4.7v1.6M93.69,197.6v-1.6M93.69,4.7v1.6M104.27,197.6v-1.6M104.27,4.7v1.6M113.74,197.6v-3.2M113.74,4.7v3.2M176.01,197.6v-1.6M176.01,4.7v1.6M212.44,197.6v-1.6M212.44,4.7v1.6M238.28,197.6v-1.6M238.28,4.7v1.6M258.33,197.6v-1.6M258.33,4.7v1.6M274.71,197.6v-1.6M274.71,4.7v1.6M288.56,197.6v-1.6M288.56,4.7v1.6M300.55,197.6v-1.6M300.55,4.7v1.6M311.13,197.6v-1.6M311.13,4.7v1.6" stroke="#000" stroke-width="0.7" fill="none"/>
<g opacity="0.999">
<text transform="translate(42.3,8.37) scale(1,1.15)" font-size="9.15" text-anchor="end">1500</text>
<text transform="translate(42.3,46.95) scale(1,1.15)" font-size="9.15" text-anchor="end">1000</text>
<text transform="translate(42.3,85.53) scale(1,1.15)" font-size="9.15" text-anchor="end">500</text>
<text transform="translate(42.3,124.11) scale(1,1.15)" font-size="9.15" text-anchor="end">0</text>
<text transform="translate(42.3,162.69) scale(1,1.15)" font-size="9.15" text-anchor="end"><tspan dy="1.0" font-size="10.8">−</tspan><tspan dy="-1.0">500</tspan></text>
<text transform="translate(42.3,201.27) scale(1,1.15)" font-size="9.15" text-anchor="end"><tspan dy="1.0" font-size="10.8">−</tspan><tspan dy="-1.0">1000</tspan></text>
<text transform="translate(115.24,210.97) scale(1,1.15)" font-size="9.15" text-anchor="middle">1000</text>
<text transform="translate(322.10,210.97) scale(1,1.15)" font-size="9.15" text-anchor="middle">10000</text>
<text transform="translate(15.3,101.00) rotate(-90) scale(1,1.07)" font-size="14.9" text-anchor="middle">Polarizability (a.u.)</text>
<g transform="translate(0,0)" fill="none" stroke="#1c1c1c" stroke-linecap="round" stroke-linejoin="round"><path d="M163.45,216.0 C163.6,214.8 164.3,214.3 165.1,214.35 C166.2,214.45 166.7,215.6 167.1,217.4 L169.0,224.6 C169.35,225.9 169.9,226.35 170.6,226.0 C171.3,225.6 171.6,224.9 171.75,224.3" stroke-width="1.35"/><path d="M166.7,219.8 L163.2,226.3" stroke-width="1.3"/></g>
<text transform="translate(175.8,227.50) scale(1,0.98)" font-size="14.6">(nm)</text>
<text transform="translate(86.3,54.0) scale(1,1.08)" font-size="9.4">5s5p (<tspan font-size="7.33" dy="-4.5">3</tspan><tspan dy="4.5">P</tspan><tspan font-size="7.33" dy="2.8">0</tspan><tspan dy="-2.8">)</tspan></text>
<text transform="translate(248.7,57.7) scale(1,1.08)" font-size="9.4">5s180s (<tspan font-size="7.33" dy="-4.5">1</tspan><tspan dy="4.5">S</tspan><tspan font-size="7.33" dy="2.8">0</tspan><tspan dy="-2.8">)</tspan></text>
<text transform="translate(209.5,96.8) scale(1,1.08)" font-size="9.4">5s160s (<tspan font-size="7.33" dy="-4.5">1</tspan><tspan dy="4.5">S</tspan><tspan font-size="7.33" dy="2.8">0</tspan><tspan dy="-2.8">)</tspan></text>
<text transform="translate(87.8,162.89999999999998) scale(1,1.08)" font-size="9.4">5s50s (<tspan font-size="7.33" dy="-4.5">1</tspan><tspan dy="4.5">S</tspan><tspan font-size="7.33" dy="2.8">0</tspan><tspan dy="-2.8">)</tspan></text>
<text transform="translate(163.9,181.79999999999998) scale(1,1.08)" font-size="9.4">5s100s (<tspan font-size="7.33" dy="-4.5">1</tspan><tspan dy="4.5">S</tspan><tspan font-size="7.33" dy="2.8">0</tspan><tspan dy="-2.8">)</tspan></text>
</g>
<clipPath id="c238"><rect x="47.8" y="243.5" width="272.8" height="192.89999999999998"/></clipPath>
<line x1="47.8" y1="359.24" x2="320.6" y2="359.24" stroke="#a8a8a8" stroke-width="0.5" stroke-dasharray="2 1"/>
<g clip-path="url(#c238)" fill="none">
<path d="M47.80,382.69 L47.81,383.30 L47.81,383.92 L47.82,384.52 L47.82,385.12 L47.83,385.73 L47.83,386.36 L47.84,387.00 L47.84,387.64 L47.85,388.27 L47.85,388.87 L47.86,389.51 L47.86,390.11 L47.87,390.74 L47.87,391.39 L47.88,392.00 L47.88,392.63 L47.89,393.28 L47.89,393.95 L47.90,394.56 L47.90,395.19 L47.91,395.84 L47.91,396.50 L47.92,397.18 L47.92,397.78 L47.93,398.40 L47.93,399.02 L47.93,399.67 L47.94,400.32 L47.94,400.99 L47.95,401.68 L47.95,402.38 L47.96,402.98 L47.96,403.58 L47.97,404.20 L47.97,404.83 L47.97,405.47 L47.98,406.12 L47.98,406.78 L47.99,407.46 L47.99,408.14 L48.00,408.84 L48.00,409.55 L48.01,410.27 L48.01,411.00 L48.01,411.75 L48.02,412.36 L48.02,412.97 L48.03,413.59 L48.03,414.22 L48.03,414.86 L48.04,415.51 L48.04,416.17 L48.05,416.83 L48.05,417.51 L48.05,418.19 L48.06,418.88 L48.06,419.59 L48.07,420.30 L48.07,421.02 L48.07,421.75 L48.08,422.49 L48.08,423.24 L48.09,423.99 L48.09,424.76 L48.09,425.54 L48.10,426.33 L48.10,426.93 L48.10,427.54 L48.11,428.15 L48.11,428.77 L48.11,429.39 L48.12,430.02 L48.12,430.66 L48.12,431.30 L48.13,431.95 L48.13,432.60 L48.13,433.26 L48.14,433.93 L48.14,434.61 L48.14,435.29 L48.15,435.98 L48.15,436.68 L48.15,437.38 L48.16,438.09 L48.16,438.80 L48.16,439.53 L48.17,440.26 L48.17,441.00 L48.17,441.75 L48.18,442.50 L48.18,443.26 L48.18,444.03 L48.19,444.81 L48.19,445.60 L48.19,446.39 L48.20,447.19 L48.20,448.00 L48.20,448.82 L48.21,449.65 L48.21,450.48 L48.21,451.33 L48.22,452.18 L48.22,453.04 L48.23,453.91 L48.23,454.79 L48.23,455.68 L48.23,456.28 L48.24,456.88 L48.24,457.49 L48.24,458.10 L48.24,458.72 L48.25,459.34 L48.25,459.96 L48.25,460.59 L48.25,461.22 L48.26,461.86 L48.26,462.50 L48.26,463.15 L48.26,463.80 L48.26,464.45 L48.27,465.11 L48.27,465.78 L48.27,466.45 L48.27,467.13 L48.28,467.81 L48.28,468.49 L48.28,469.18 L48.28,469.87 L48.29,470.57 L48.29,471.28 L48.29,471.99 L48.29,472.71 L48.30,473.43 L48.30,474.15 L48.30,474.88 L48.30,475.62 L48.31,476.36 L48.31,476.74" stroke="#b757d6" stroke-width="1.2" stroke-linejoin="round"/>
<path d="M50.09,202.80 L50.10,204.02 L50.11,205.23 L50.12,206.42 L50.14,207.59 L50.15,208.75 L50.16,209.89 L50.17,211.01 L50.19,212.12 L50.20,213.22 L50.21,214.30 L50.22,215.36 L50.24,216.41 L50.25,217.45 L50.26,218.47 L50.28,219.48 L50.29,220.47 L50.30,221.45 L50.31,222.42 L50.33,223.38 L50.34,224.33 L50.35,225.26 L50.37,226.18 L50.38,227.09 L50.39,227.99 L50.41,228.87 L50.42,229.75 L50.43,230.61 L50.45,231.47 L50.46,232.31 L50.48,233.14 L50.49,233.97 L50.50,234.78 L50.52,235.59 L50.53,236.38 L50.55,237.17 L50.56,237.94 L50.57,238.71 L50.59,239.47 L50.60,240.22 L50.62,240.96 L50.63,241.69 L50.65,242.42 L50.66,243.13 L50.68,243.84 L50.69,244.54 L50.70,245.23 L50.72,245.92 L50.73,246.60 L50.75,247.27 L50.76,247.93 L50.78,248.59 L50.79,249.24 L50.81,249.88 L50.82,250.51 L50.84,251.14 L50.86,251.77 L50.87,252.38 L50.89,252.99 L50.90,253.59 L50.92,254.19 L50.93,254.78 L50.95,255.37 L50.98,256.52 L51.01,257.65 L51.04,258.76 L51.08,259.85 L51.11,260.91 L51.14,261.96 L51.17,262.98 L51.21,263.99 L51.24,264.98 L51.27,265.95 L51.31,266.90 L51.34,267.84 L51.38,268.75 L51.41,269.66 L51.44,270.55 L51.48,271.42 L51.51,272.27 L51.55,273.12 L51.59,273.95 L51.62,274.76 L51.66,275.56 L51.69,276.35 L51.73,277.13 L51.77,277.89 L51.80,278.64 L51.84,279.38 L51.88,280.11 L51.91,280.82 L51.95,281.53 L51.99,282.22 L52.03,282.91 L52.07,283.58 L52.10,284.25 L52.14,284.90 L52.18,285.55 L52.22,286.18 L52.26,286.81 L52.30,287.42 L52.34,288.03 L52.38,288.63 L52.42,289.22 L52.46,289.81 L52.50,290.38 L52.54,290.95 L52.58,291.51 L52.64,292.34 L52.71,293.15 L52.77,293.94 L52.83,294.72 L52.90,295.48 L52.96,296.23 L53.02,296.96 L53.09,297.68 L53.15,298.39 L53.22,299.08 L53.29,299.77 L53.35,300.43 L53.42,301.09 L53.49,301.74 L53.56,302.37 L53.62,303.00 L53.69,303.61 L53.76,304.21 L53.83,304.80 L53.90,305.39 L53.97,305.96 L54.04,306.52 L54.11,307.08 L54.18,307.62 L54.26,308.16 L54.33,308.68 L54.43,309.38 L54.52,310.05 L54.62,310.72 L54.72,311.36 L54.82,312.00 L54.92,312.63 L55.02,313.24 L55.12,313.84 L55.22,314.42 L55.33,315.00 L55.43,315.57 L55.53,316.12 L55.64,316.67 L55.74,317.20 L55.85,317.73 L55.95,318.25 L56.06,318.75 L56.17,319.25 L56.30,319.86 L56.44,320.46 L56.58,321.05 L56.71,321.62 L56.85,322.18 L56.99,322.73 L57.13,323.27 L57.27,323.80 L57.41,324.32 L57.55,324.83 L57.70,325.33 L57.84,325.82 L57.98,326.30 L58.13,326.77 L58.27,327.24 L58.42,327.70 L58.60,328.23 L58.77,328.76 L58.95,329.28 L59.13,329.78 L59.31,330.28 L59.49,330.77 L59.67,331.24 L59.85,331.71 L60.03,332.18 L60.21,332.63 L60.40,333.08 L60.58,333.52 L60.76,333.95 L60.95,334.38 L61.13,334.80 L61.32,335.21 L61.54,335.69 L61.75,336.16 L61.97,336.62 L62.19,337.08 L62.41,337.53 L62.63,337.97 L62.85,338.41 L63.07,338.85 L63.29,339.28 L63.51,339.71 L63.73,340.13 L63.95,340.55 L64.17,340.97 L64.39,341.38 L64.61,341.79 L64.83,342.20 L65.05,342.61 L65.27,343.02 L65.49,343.43 L65.71,343.83 L65.93,344.24 L66.14,344.65 L66.36,345.05 L66.58,345.46 L66.80,345.87 L67.01,346.29 L67.23,346.70 L67.44,347.12 L67.66,347.54 L67.87,347.97 L68.08,348.40 L68.29,348.83 L68.50,349.27 L68.71,349.72 L68.92,350.17 L69.13,350.63 L69.34,351.09 L69.54,351.57 L69.74,352.05 L69.95,352.55 L70.12,352.98 L70.29,353.42 L70.46,353.86 L70.63,354.32 L70.80,354.79 L70.97,355.27 L71.13,355.75 L71.30,356.25 L71.46,356.77 L71.63,357.29 L71.79,357.83 L71.95,358.39 L72.08,358.86 L72.21,359.34 L72.35,359.84 L72.48,360.35 L72.60,360.87 L72.73,361.41 L72.86,361.96 L72.99,362.53 L73.11,363.11 L73.24,363.71 L73.36,364.33 L73.46,364.83 L73.55,365.35 L73.65,365.88 L73.75,366.43 L73.84,366.99 L73.94,367.56 L74.03,368.15 L74.12,368.76 L74.22,369.38 L74.31,370.02 L74.40,370.67 L74.49,371.35 L74.58,372.05 L74.64,372.58 L74.71,373.13 L74.78,373.69 L74.84,374.26 L74.91,374.85 L74.97,375.45 L75.03,376.06 L75.10,376.69 L75.16,377.33 L75.22,377.99 L75.29,378.66 L75.35,379.36 L75.41,380.07 L75.47,380.80 L75.53,381.54 L75.59,382.31 L75.65,383.10 L75.71,383.90 L75.77,384.73 L75.81,385.30 L75.85,385.88 L75.88,386.46 L75.92,387.06 L75.96,387.67 L76.00,388.29 L76.04,388.92 L76.07,389.57 L76.11,390.22 L76.15,390.89 L76.18,391.58 L76.22,392.27 L76.26,392.98 L76.29,393.71 L76.33,394.45 L76.36,395.20 L76.40,395.97 L76.43,396.76 L76.47,397.56 L76.50,398.38 L76.54,399.22 L76.57,400.07 L76.61,400.94 L76.64,401.84 L76.67,402.75 L76.71,403.68 L76.74,404.63 L76.77,405.61 L76.81,406.60 L76.84,407.62 L76.87,408.66 L76.90,409.73 L76.94,410.82 L76.97,411.94 L77.00,413.09 L77.03,414.26 L77.04,414.86 L77.06,415.46 L77.08,416.07 L77.09,416.69 L77.11,417.32 L77.12,417.95 L77.14,418.59 L77.15,419.24 L77.17,419.90 L77.18,420.57 L77.20,421.24 L77.21,421.93 L77.23,422.62 L77.24,423.32 L77.26,424.03 L77.27,424.75 L77.28,425.48 L77.30,426.21 L77.31,426.96 L77.33,427.72 L77.34,428.49 L77.36,429.27 L77.37,430.05 L77.38,430.85 L77.40,431.66 L77.41,432.48 L77.43,433.31 L77.44,434.16 L77.45,435.01 L77.47,435.88 L77.48,436.76 L77.50,437.65 L77.51,438.55 L77.52,439.46 L77.54,440.39 L77.55,441.33 L77.56,442.29 L77.58,443.26 L77.59,444.24 L77.60,445.24 L77.62,446.25 L77.63,447.28 L77.64,448.32 L77.66,449.38 L77.67,450.45 L77.68,451.54 L77.69,452.64 L77.71,453.76 L77.72,454.90 L77.73,456.06 L77.74,457.23 L77.76,458.42 L77.77,459.63 L77.78,460.86 L77.79,462.11 L77.81,463.38 L77.82,464.67 L77.83,465.98 L77.84,467.31 L77.85,468.66 L77.87,470.03 L77.88,471.43 L77.89,472.84 L77.90,474.29 L77.91,475.75 L77.93,477.24" stroke="#b757d6" stroke-width="1.2" stroke-linejoin="round"/>
<path d="M80.01,201.01 L80.03,204.15 L80.05,207.19 L80.08,210.12 L80.10,212.96 L80.13,215.71 L80.15,218.37 L80.17,220.95 L80.20,223.45 L80.23,225.88 L80.25,228.23 L80.28,230.51 L80.30,232.72 L80.33,234.87 L80.36,236.95 L80.38,238.98 L80.41,240.94 L80.44,242.86 L80.47,244.71 L80.49,246.52 L80.52,248.28 L80.55,249.99 L80.58,251.65 L80.61,253.27 L80.64,254.85 L80.67,256.38 L80.70,257.88 L80.73,259.33 L80.76,260.75 L80.79,262.13 L80.82,263.48 L80.85,264.80 L80.88,266.08 L80.91,267.33 L80.94,268.56 L80.98,269.75 L81.01,270.91 L81.04,272.05 L81.07,273.16 L81.11,274.24 L81.14,275.30 L81.17,276.34 L81.21,277.35 L81.24,278.34 L81.28,279.30 L81.31,280.25 L81.35,281.17 L81.38,282.08 L81.42,282.96 L81.45,283.83 L81.49,284.67 L81.53,285.50 L81.56,286.32 L81.60,287.11 L81.64,287.89 L81.67,288.65 L81.71,289.40 L81.75,290.13 L81.79,290.85 L81.82,291.55 L81.86,292.24 L81.90,292.92 L81.94,293.58 L81.98,294.23 L82.02,294.87 L82.06,295.49 L82.10,296.11 L82.14,296.71 L82.18,297.30 L82.22,297.88 L82.26,298.45 L82.34,299.56 L82.43,300.62 L82.51,301.65 L82.60,302.65 L82.68,303.61 L82.77,304.54 L82.86,305.43 L82.95,306.30 L83.04,307.14 L83.13,307.95 L83.23,308.74 L83.32,309.50 L83.41,310.23 L83.51,310.95 L83.61,311.64 L83.70,312.32 L83.80,312.97 L83.90,313.60 L84.00,314.22 L84.10,314.82 L84.21,315.40 L84.31,315.96 L84.41,316.51 L84.52,317.05 L84.63,317.57 L84.73,318.07 L84.84,318.57 L85.01,319.28 L85.17,319.97 L85.34,320.64 L85.51,321.27 L85.68,321.89 L85.86,322.48 L86.04,323.06 L86.22,323.61 L86.40,324.14 L86.58,324.66 L86.77,325.16 L86.95,325.65 L87.14,326.11 L87.33,326.57 L87.53,327.01 L87.72,327.44 L87.92,327.85 L88.12,328.25 L88.39,328.77 L88.66,329.27 L88.94,329.75 L89.22,330.21 L89.50,330.66 L89.79,331.09 L90.08,331.50 L90.38,331.91 L90.67,332.30 L90.97,332.67 L91.28,333.04 L91.59,333.39 L91.90,333.73 L92.21,334.07 L92.53,334.39 L92.85,334.71 L93.17,335.01 L93.50,335.31 L93.83,335.60 L94.17,335.88 L94.50,336.15 L94.84,336.42 L95.19,336.68 L95.53,336.94 L95.97,337.25 L96.41,337.55 L96.86,337.84 L97.31,338.12 L97.77,338.40 L98.23,338.67 L98.69,338.93 L99.16,339.18 L99.64,339.43 L100.12,339.68 L100.60,339.92 L101.09,340.15 L101.58,340.38 L102.07,340.60 L102.57,340.82 L103.08,341.03 L103.58,341.24 L104.10,341.44 L104.61,341.65 L105.13,341.84 L105.65,342.04 L106.18,342.23 L106.71,342.42 L107.24,342.60 L107.78,342.79 L108.32,342.97 L108.87,343.14 L109.41,343.32 L109.96,343.49 L110.52,343.66 L111.08,343.83 L111.64,344.00 L112.20,344.16 L112.77,344.33 L113.34,344.49 L113.91,344.65 L114.48,344.81 L115.06,344.97 L115.64,345.13 L116.22,345.28 L116.81,345.44 L117.40,345.59 L117.99,345.75 L118.58,345.90 L119.17,346.05 L119.77,346.20 L120.25,346.33 L120.73,346.45 L121.21,346.57 L121.70,346.69 L122.18,346.81 L122.67,346.93 L123.15,347.05 L123.64,347.17 L124.13,347.29 L124.62,347.41 L125.11,347.54 L125.60,347.66 L126.10,347.78 L126.59,347.90 L127.09,348.03 L127.58,348.15 L128.08,348.27 L128.58,348.40 L129.07,348.52 L129.57,348.65 L130.07,348.77 L130.57,348.90 L131.07,349.03 L131.58,349.15 L132.08,349.28 L132.58,349.41 L133.08,349.54 L133.59,349.68 L134.09,349.81 L134.59,349.94 L135.10,350.08 L135.60,350.21 L136.11,350.35 L136.61,350.49 L137.12,350.63 L137.63,350.77 L138.13,350.91 L138.64,351.06 L139.14,351.20 L139.65,351.35 L140.16,351.50 L140.66,351.65 L141.17,351.80 L141.67,351.96 L142.18,352.11 L142.68,352.27 L143.19,352.43 L143.69,352.59 L144.20,352.76 L144.70,352.93 L145.21,353.09 L145.71,353.27 L146.21,353.44 L146.71,353.62 L147.22,353.80 L147.72,353.98 L148.22,354.16 L148.72,354.35 L149.22,354.54 L149.72,354.73 L150.21,354.93 L150.71,355.13 L151.21,355.33 L151.70,355.54 L152.20,355.75 L152.69,355.96 L153.18,356.18 L153.68,356.40 L154.17,356.62 L154.66,356.85 L155.15,357.09 L155.63,357.32 L156.12,357.57 L156.61,357.81 L157.09,358.06 L157.57,358.32 L158.05,358.58 L158.54,358.85 L159.01,359.12 L159.49,359.39 L159.97,359.68 L160.44,359.96 L160.92,360.26 L161.39,360.56 L161.86,360.86 L162.33,361.18 L162.79,361.50 L163.26,361.82 L163.72,362.16 L164.07,362.41 L164.41,362.67 L164.76,362.93 L165.10,363.20 L165.45,363.47 L165.79,363.75 L166.13,364.03 L166.47,364.32 L166.81,364.61 L167.14,364.90 L167.48,365.21 L167.81,365.51 L168.15,365.83 L168.48,366.14 L168.81,366.47 L169.14,366.80 L169.47,367.13 L169.80,367.47 L170.13,367.82 L170.45,368.18 L170.78,368.54 L171.10,368.90 L171.42,369.28 L171.74,369.66 L172.06,370.05 L172.38,370.45 L172.70,370.85 L173.01,371.26 L173.33,371.68 L173.64,372.11 L173.95,372.55 L174.26,372.99 L174.57,373.45 L174.88,373.91 L175.18,374.39 L175.49,374.87 L175.79,375.36 L176.09,375.87 L176.39,376.38 L176.69,376.90 L176.99,377.44 L177.29,377.99 L177.58,378.55 L177.87,379.12 L178.16,379.70 L178.45,380.30 L178.74,380.91 L178.93,381.33 L179.12,381.75 L179.31,382.18 L179.50,382.61 L179.69,383.05 L179.88,383.50 L180.07,383.95 L180.25,384.41 L180.44,384.88 L180.62,385.35 L180.81,385.84 L180.99,386.33 L181.17,386.82 L181.35,387.33 L181.54,387.84 L181.72,388.37 L181.90,388.90 L182.07,389.44 L182.25,389.98 L182.43,390.54 L182.61,391.11 L182.78,391.68 L182.96,392.27 L183.13,392.86 L183.31,393.47 L183.48,394.08 L183.65,394.71 L183.82,395.35 L183.99,395.99 L184.16,396.65 L184.33,397.32 L184.50,398.00 L184.67,398.70 L184.83,399.40 L185.00,400.12 L185.16,400.85 L185.33,401.60 L185.49,402.36 L185.65,403.13 L185.82,403.92 L185.98,404.72 L186.14,405.53 L186.30,406.36 L186.46,407.21 L186.61,408.07 L186.77,408.95 L186.93,409.85 L187.08,410.76 L187.23,411.69 L187.39,412.64 L187.54,413.61 L187.69,414.59 L187.84,415.60 L187.99,416.63 L188.14,417.67 L188.22,418.20 L188.29,418.74 L188.37,419.28 L188.44,419.83 L188.51,420.39 L188.59,420.94 L188.66,421.51 L188.73,422.08 L188.80,422.66 L188.88,423.24 L188.95,423.83 L189.02,424.42 L189.09,425.02 L189.16,425.63 L189.23,426.25 L189.31,426.87 L189.38,427.49 L189.45,428.13 L189.52,428.77 L189.59,429.42 L189.66,430.07 L189.73,430.73 L189.80,431.40 L189.87,432.08 L189.93,432.76 L190.00,433.45 L190.07,434.15 L190.14,434.86 L190.21,435.57 L190.28,436.29 L190.34,437.02 L190.41,437.76 L190.48,438.51 L190.55,439.26 L190.61,440.03 L190.68,440.80 L190.75,441.58 L190.81,442.37 L190.88,443.17 L190.94,443.98 L191.01,444.80 L191.07,445.63 L191.14,446.46 L191.20,447.31 L191.27,448.17 L191.33,449.04 L191.40,449.92 L191.46,450.80 L191.52,451.70 L191.59,452.61 L191.65,453.53 L191.71,454.47 L191.78,455.41 L191.84,456.36 L191.90,457.33 L191.96,458.31 L192.03,459.30 L192.09,460.30 L192.15,461.32 L192.21,462.35 L192.27,463.39 L192.33,464.45 L192.39,465.51 L192.45,466.59 L192.51,467.69 L192.57,468.80 L192.63,469.92 L192.69,471.06 L192.75,472.22 L192.81,473.38 L192.87,474.57 L192.92,475.77 L192.98,476.98" stroke="#b757d6" stroke-width="1.2" stroke-linejoin="round"/>
<path d="M206.87,202.67 L206.93,203.76 L206.99,204.84 L207.05,205.91 L207.11,206.96 L207.17,208.00 L207.24,209.02 L207.30,210.04 L207.36,211.04 L207.42,212.03 L207.48,213.00 L207.54,213.97 L207.61,214.92 L207.67,215.86 L207.73,216.79 L207.80,217.71 L207.86,218.62 L207.92,219.52 L207.99,220.41 L208.05,221.28 L208.12,222.15 L208.18,223.00 L208.25,223.85 L208.31,224.68 L208.38,225.51 L208.44,226.33 L208.51,227.13 L208.57,227.93 L208.64,228.72 L208.71,229.50 L208.77,230.27 L208.84,231.03 L208.91,231.79 L208.97,232.53 L209.04,233.27 L209.11,234.00 L209.18,234.72 L209.25,235.43 L209.31,236.14 L209.38,236.83 L209.45,237.52 L209.52,238.20 L209.59,238.88 L209.66,239.55 L209.73,240.21 L209.80,240.86 L209.87,241.50 L209.94,242.14 L210.01,242.78 L210.08,243.40 L210.15,244.02 L210.23,244.63 L210.30,245.24 L210.37,245.84 L210.44,246.43 L210.51,247.02 L210.59,247.60 L210.66,248.18 L210.73,248.74 L210.80,249.31 L210.88,249.87 L210.95,250.42 L211.02,250.96 L211.10,251.51 L211.17,252.04 L211.25,252.57 L211.40,253.61 L211.55,254.64 L211.70,255.64 L211.85,256.63 L212.00,257.59 L212.16,258.54 L212.31,259.46 L212.47,260.37 L212.62,261.27 L212.78,262.14 L212.94,263.00 L213.10,263.85 L213.26,264.68 L213.42,265.49 L213.58,266.29 L213.74,267.07 L213.90,267.84 L214.07,268.59 L214.23,269.34 L214.40,270.06 L214.56,270.78 L214.73,271.48 L214.90,272.18 L215.07,272.85 L215.23,273.52 L215.40,274.18 L215.58,274.82 L215.75,275.46 L215.92,276.08 L216.09,276.69 L216.27,277.29 L216.44,277.88 L216.62,278.47 L216.79,279.04 L216.97,279.60 L217.15,280.16 L217.33,280.70 L217.51,281.24 L217.69,281.77 L217.87,282.29 L218.05,282.80 L218.23,283.30 L218.41,283.79 L218.60,284.28 L218.78,284.76 L218.97,285.23 L219.15,285.70 L219.34,286.16 L219.53,286.61 L219.71,287.05 L219.90,287.49 L220.09,287.92 L220.28,288.34 L220.47,288.76 L220.67,289.17 L220.95,289.78 L221.24,290.37 L221.54,290.95 L221.83,291.51 L222.12,292.07 L222.42,292.61 L222.72,293.14 L223.02,293.66 L223.32,294.17 L223.62,294.67 L223.92,295.15 L224.23,295.63 L224.54,296.10 L224.84,296.56 L225.15,297.01 L225.46,297.45 L225.78,297.88 L226.09,298.30 L226.40,298.71 L226.72,299.12 L227.04,299.52 L227.36,299.91 L227.68,300.29 L228.00,300.66 L228.32,301.03 L228.64,301.39 L228.97,301.75 L229.29,302.09 L229.62,302.43 L229.95,302.77 L230.28,303.09 L230.61,303.42 L230.94,303.73 L231.28,304.04 L231.61,304.35 L231.95,304.65 L232.28,304.94 L232.62,305.23 L232.96,305.51 L233.30,305.79 L233.64,306.06 L233.98,306.33 L234.33,306.59 L234.67,306.85 L235.13,307.19 L235.60,307.52 L236.06,307.84 L236.52,308.15 L236.99,308.46 L237.46,308.76 L237.93,309.06 L238.40,309.34 L238.88,309.63 L239.35,309.90 L239.83,310.17 L240.31,310.43 L240.79,310.69 L241.27,310.94 L241.75,311.19 L242.23,311.43 L242.72,311.66 L243.20,311.89 L243.69,312.12 L244.18,312.34 L244.67,312.55 L245.16,312.77 L245.65,312.97 L246.14,313.18 L246.64,313.38 L247.13,313.57 L247.63,313.76 L248.12,313.95 L248.62,314.13 L249.12,314.31 L249.62,314.48 L250.12,314.66 L250.62,314.82 L251.12,314.99 L251.62,315.15 L252.12,315.31 L252.62,315.47 L253.13,315.62 L253.63,315.77 L254.13,315.91 L254.64,316.06 L255.14,316.20 L255.65,316.34 L256.15,316.47 L256.66,316.60 L257.17,316.73 L257.67,316.86 L258.18,316.99 L258.69,317.11 L259.19,317.23 L259.70,317.35 L260.21,317.46 L260.71,317.58 L261.22,317.69 L261.73,317.80 L262.23,317.91 L262.74,318.01 L263.25,318.11 L263.75,318.22 L264.26,318.32 L264.76,318.41 L265.27,318.51 L265.90,318.63 L266.53,318.74 L267.16,318.85 L267.79,318.96 L268.42,319.07 L269.04,319.17 L269.67,319.28 L270.29,319.38 L270.92,319.47 L271.54,319.57 L272.16,319.66 L272.78,319.75 L273.40,319.84 L274.02,319.93 L274.63,320.02 L275.25,320.10 L275.86,320.18 L276.47,320.26 L277.08,320.34 L277.69,320.41 L278.29,320.49 L278.90,320.56 L279.50,320.63 L280.10,320.70 L280.69,320.77 L281.29,320.84 L281.88,320.90 L282.47,320.97 L283.06,321.03 L283.64,321.09 L284.23,321.15 L284.81,321.21 L285.38,321.26 L285.96,321.32 L286.53,321.37 L287.10,321.43 L287.66,321.48 L288.22,321.53 L288.78,321.58 L289.34,321.63 L289.89,321.68 L290.55,321.73 L291.21,321.79 L291.86,321.84 L292.50,321.89 L293.14,321.94 L293.78,321.99 L294.41,322.04 L295.03,322.09 L295.65,322.13 L296.26,322.18 L296.87,322.22 L297.47,322.26 L298.06,322.30 L298.65,322.34 L299.23,322.38 L299.81,322.42 L300.38,322.46 L301.04,322.50 L301.69,322.54 L302.33,322.58 L302.96,322.61 L303.58,322.65 L304.19,322.69 L304.80,322.72 L305.39,322.75 L305.97,322.79 L306.55,322.82 L307.19,322.85 L307.82,322.89 L308.43,322.92 L309.04,322.95 L309.63,322.98 L310.20,323.01 L310.83,323.04 L311.45,323.07 L312.04,323.09 L312.61,323.12 L313.23,323.15 L313.83,323.18 L314.45,323.20 L315.05,323.23 L315.67,323.26 L316.25,323.28 L316.85,323.31 L317.44,323.33 L318.02,323.35 L318.60,323.38 L319.20,323.40 L319.79,323.42 L320.38,323.45 L320.60,323.45" stroke="#b757d6" stroke-width="1.2" stroke-linejoin="round"/>
<line x1="48.95" y1="243.5" x2="48.95" y2="436.4" stroke="#b757d6" stroke-width="0.75"/>
<line x1="78.98" y1="243.5" x2="78.98" y2="436.4" stroke="#b757d6" stroke-width="1.2"/>
<line x1="199.68" y1="243.5" x2="199.68" y2="436.4" stroke="#b757d6" stroke-width="1.2"/>
<g transform="scale(1,1.0)">
<path d="M47.80,334.23 L48.11,334.69 L48.41,335.13 L48.71,335.55 L49.02,335.96 L49.32,336.35 L49.62,336.72 L49.93,337.08 L50.23,337.42 L50.53,337.75 L50.84,338.07 L51.14,338.38 L51.44,338.67 L51.75,338.96 L52.05,339.23 L52.35,339.50 L52.66,339.75 L52.96,340.00 L53.26,340.24 L53.57,340.47 L53.87,340.70 L54.17,340.92 L54.48,341.13 L54.78,341.33 L55.08,341.53 L55.69,341.91 L56.30,342.27 L56.90,342.62 L57.51,342.94 L58.12,343.25 L58.73,343.54 L59.33,343.82 L59.94,344.09 L60.55,344.35 L61.15,344.59 L61.76,344.83 L62.37,345.06 L62.97,345.28 L63.58,345.49 L64.19,345.70 L64.79,345.90 L65.40,346.09 L66.01,346.28 L66.62,346.46 L67.22,346.64 L67.83,346.82 L68.44,346.99 L69.04,347.16 L69.65,347.33 L70.26,347.50 L70.86,347.66 L71.47,347.82 L72.08,347.98 L72.68,348.14 L73.29,348.30 L73.90,348.45 L74.50,348.61 L75.11,348.77 L75.72,348.92 L76.33,349.08 L76.93,349.24 L77.54,349.39 L78.15,349.55 L78.75,349.71 L79.36,349.87 L79.97,350.03 L80.57,350.19 L81.18,350.36 L81.79,350.52 L82.39,350.69 L83.00,350.86 L83.61,351.03 L84.22,351.21 L84.82,351.38 L85.43,351.56 L86.04,351.74 L86.64,351.93 L87.25,352.11 L87.86,352.30 L88.46,352.49 L89.07,352.69 L89.68,352.89 L90.28,353.09 L90.89,353.30 L91.50,353.51 L92.10,353.72 L92.71,353.94 L93.32,354.16 L93.93,354.39 L94.53,354.62 L95.14,354.85 L95.75,355.09 L96.35,355.33 L96.96,355.58 L97.57,355.83 L98.17,356.09 L98.78,356.35 L99.39,356.62 L99.99,356.89 L100.60,357.16 L101.21,357.45 L101.82,357.73 L102.42,358.03 L103.03,358.32 L103.64,358.63 L104.24,358.94 L104.85,359.25 L105.46,359.57 L106.06,359.90 L106.67,360.23 L107.28,360.57 L107.88,360.92 L108.49,361.27 L109.10,361.63 L109.70,361.99 L110.31,362.37 L110.92,362.74 L111.53,363.13 L112.13,363.52 L112.44,363.72 L112.74,363.92 L113.04,364.12 L113.35,364.33 L113.65,364.53 L113.95,364.74 L114.26,364.95 L114.56,365.16 L114.86,365.37 L115.17,365.59 L115.47,365.81 L115.77,366.03 L116.08,366.25 L116.38,366.47 L116.68,366.69 L116.99,366.92 L117.29,367.15 L117.59,367.38 L117.90,367.61 L118.20,367.85 L118.50,368.08 L118.81,368.32 L119.11,368.56 L119.41,368.81 L119.72,369.05 L120.02,369.30 L120.33,369.55 L120.63,369.80 L120.93,370.05 L121.24,370.31 L121.54,370.56 L121.84,370.82 L122.15,371.09 L122.45,371.35 L122.75,371.62 L123.06,371.88 L123.36,372.15 L123.66,372.43 L123.97,372.70 L124.27,372.98 L124.57,373.26 L124.88,373.54 L125.18,373.83 L125.48,374.11 L125.79,374.40 L126.09,374.69 L126.39,374.99 L126.70,375.29 L127.00,375.58 L127.30,375.89 L127.61,376.19 L127.91,376.50 L128.21,376.80 L128.52,377.11 L128.82,377.43 L129.13,377.74 L129.43,378.06 L129.73,378.38 L130.04,378.71 L130.34,379.03 L130.64,379.36 L130.95,379.70 L131.25,380.03 L131.55,380.37 L131.86,380.71 L132.16,381.05 L132.46,381.39 L132.77,381.74 L133.07,382.09 L133.37,382.45 L133.68,382.80 L133.98,383.16 L134.28,383.52 L134.59,383.89 L134.89,384.25 L135.19,384.62 L135.50,385.00 L135.80,385.37 L136.10,385.75 L136.41,386.14 L136.71,386.52 L137.01,386.91 L137.32,387.30 L137.62,387.69 L137.93,388.09 L138.23,388.49 L138.53,388.89 L138.84,389.30 L139.14,389.71 L139.44,390.12 L139.75,390.54 L140.05,390.96 L140.35,391.38 L140.66,391.80 L140.96,392.23 L141.26,392.66 L141.57,393.10 L141.87,393.54 L142.17,393.98 L142.48,394.42 L142.78,394.87 L143.08,395.32 L143.39,395.78 L143.69,396.24 L143.99,396.70 L144.30,397.16 L144.60,397.63 L144.90,398.11 L145.21,398.58 L145.51,399.06 L145.81,399.54 L146.12,400.03 L146.42,400.52 L146.73,401.02 L147.03,401.51 L147.33,402.01 L147.64,402.52 L147.94,403.03 L148.24,403.54 L148.55,404.06 L148.85,404.58 L149.15,405.10 L149.46,405.63 L149.76,406.16 L150.06,406.70 L150.37,407.24 L150.67,407.78 L150.97,408.33 L151.28,408.88 L151.58,409.44 L151.88,410.00 L152.19,410.56 L152.49,411.13 L152.79,411.70 L153.10,412.28 L153.40,412.86 L153.70,413.44 L154.01,414.03 L154.31,414.63 L154.61,415.22 L154.92,415.83 L155.22,416.43 L155.53,417.04 L155.83,417.66 L156.13,418.28 L156.44,418.90 L156.74,419.53 L157.04,420.17 L157.35,420.80 L157.65,421.45 L157.95,422.09 L158.26,422.74 L158.56,423.40 L158.86,424.06 L159.17,424.73 L159.47,425.40 L159.77,426.07 L160.08,426.75 L160.38,427.44 L160.68,428.13 L160.99,428.83 L161.29,429.53 L161.59,430.23 L161.90,430.94 L162.20,431.66 L162.50,432.38 L162.81,433.10 L163.11,433.83 L163.41,434.57 L163.72,435.31 L164.02,436.06 L164.33,436.81 L164.63,437.57 L164.93,438.33 L165.24,439.10 L165.54,439.87 L165.84,440.65 L166.15,441.43 L166.45,442.22 L166.75,443.02 L167.06,443.82 L167.36,444.63 L167.66,445.44 L167.97,446.26 L168.27,447.08 L168.57,447.91 L168.88,448.75 L169.18,449.59 L169.48,450.43 L169.79,451.29 L170.09,452.15 L170.39,453.01 L170.70,453.88 L171.00,454.76 L171.30,455.65 L171.61,456.54 L171.91,457.43 L172.21,458.34 L172.52,459.24 L172.82,460.16 L173.12,461.08 L173.43,462.01 L173.73,462.95 L174.04,463.89 L174.34,464.83 L174.64,465.79 L174.95,466.75 L175.25,467.72 L175.55,468.69 L175.86,469.67 L176.16,470.66 L176.46,471.66 L176.77,472.66 L177.07,473.67 L177.37,474.69 L177.68,475.71 L177.98,476.74 L178.28,477.78 L178.59,478.82 L178.89,479.87 L179.19,480.93 L179.50,482.00 L179.80,483.08 L180.10,484.16 L180.41,485.25 L180.71,486.34 L181.32,486.40 L181.92,486.40 L182.53,486.40 L183.14,486.40 L183.75,486.40 L184.35,486.40 L184.96,486.40 L185.57,486.40 L186.17,486.40 L186.78,486.40 L187.39,486.40 L187.99,486.40 L188.60,486.40 L189.21,486.40 L189.81,486.40 L190.42,486.40 L191.03,486.40 L191.64,486.40 L192.24,486.40 L192.85,486.40 L193.46,486.40 L194.06,486.40 L194.67,486.40 L195.28,486.40 L195.88,486.40 L196.49,486.40 L197.10,486.40 L197.70,486.40 L198.31,486.40 L198.92,486.40 L199.52,486.40 L200.13,486.40 L200.74,486.40 L201.35,486.40 L201.95,486.40 L202.56,486.40 L203.17,486.40 L203.77,486.40 L204.38,486.40 L204.99,486.40 L205.59,486.40 L206.20,486.40 L206.81,486.40 L207.41,486.40 L208.02,486.40 L208.63,486.40 L209.24,486.40 L209.84,486.40 L210.45,486.40 L211.06,486.40 L211.66,486.40 L212.27,486.40 L212.88,486.40 L213.48,486.40 L214.09,486.40 L214.70,486.40 L215.30,486.40 L215.91,486.40 L216.52,486.40 L217.12,486.40 L217.73,486.40 L218.34,486.40 L218.95,486.40 L219.55,486.40 L220.16,486.40 L220.77,486.40 L221.37,486.40 L221.98,486.40 L222.59,486.40 L223.19,486.40 L223.80,486.40 L224.41,486.40 L225.01,486.40 L225.62,486.40 L226.23,486.40 L226.84,486.40 L227.44,486.40 L228.05,486.40 L228.66,486.40 L229.26,486.40 L229.87,486.40 L230.48,486.40 L231.08,486.40 L231.69,486.40 L232.30,486.40 L232.90,486.40 L233.51,486.40 L234.12,486.40 L234.72,486.40 L235.33,486.40 L235.94,486.40 L236.55,486.40 L237.15,486.40 L237.76,486.40 L238.37,486.40 L238.97,486.40 L239.58,486.40 L240.19,486.40 L240.79,486.40 L241.40,486.40 L242.01,486.40 L242.61,486.40 L243.22,486.40 L243.83,486.40 L244.43,486.40 L245.04,486.40 L245.65,486.40 L246.26,486.40 L246.86,486.40 L247.47,486.40 L248.08,486.40 L248.68,486.40 L249.29,486.40 L249.90,486.40 L250.50,486.40 L251.11,486.40 L251.72,486.40 L252.32,486.40 L252.93,486.40 L253.54,486.40 L254.15,486.40 L254.75,486.40 L255.36,486.40 L255.97,486.40 L256.57,486.40 L257.18,486.40 L257.79,486.40 L258.39,486.40 L259.00,486.40 L259.61,486.40 L260.21,486.40 L260.82,486.40 L261.43,486.40 L262.03,486.40 L262.64,486.40 L263.25,486.40 L263.86,486.40 L264.46,486.40 L265.07,486.40 L265.68,486.40 L266.28,486.40 L266.89,486.40 L267.50,486.40 L268.10,486.40 L268.71,486.40 L269.32,486.40 L269.92,486.40 L270.53,486.40 L271.14,486.40 L271.75,486.40 L272.35,486.40 L272.96,486.40 L273.57,486.40 L274.17,486.40 L274.78,486.40 L275.39,486.40 L275.99,486.40 L276.60,486.40 L277.21,486.40 L277.81,486.40 L278.42,486.40 L279.03,486.40 L279.63,486.40 L280.24,486.40 L280.85,486.40 L281.46,486.40 L282.06,486.40 L282.67,486.40 L283.28,486.40 L283.88,486.40 L284.49,486.40 L285.10,486.40 L285.70,486.40 L286.31,486.40 L286.92,486.40 L287.52,486.40 L288.13,486.40 L288.74,486.40 L289.35,486.40 L289.95,486.40 L290.56,486.40 L291.17,486.40 L291.77,486.40 L292.38,486.40 L292.99,486.40 L293.59,486.40 L294.20,486.40 L294.81,486.40 L295.41,486.40 L296.02,486.40 L296.63,486.40 L297.23,486.40 L297.84,486.40 L298.45,486.40 L299.06,486.40 L299.66,486.40 L300.27,486.40 L300.88,486.40 L301.48,486.40 L302.09,486.40 L302.70,486.40 L303.30,486.40 L303.91,486.40 L304.52,486.40 L305.12,486.40 L305.73,486.40 L306.34,486.40 L306.94,486.40 L307.55,486.40 L308.16,486.40 L308.77,486.40 L309.37,486.40 L309.98,486.40 L310.59,486.40 L311.19,486.40 L311.80,486.40 L312.41,486.40 L313.01,486.40 L313.62,486.40 L314.23,486.40 L314.83,486.40 L315.44,486.40 L316.05,486.40 L316.66,486.40 L317.26,486.40 L317.87,486.40 L318.48,486.40 L319.08,486.40 L319.69,486.40 L320.30,486.40 L320.60,486.40" stroke="#9a4a08" stroke-width="1.5" stroke-opacity="0.22"/>
<path d="M47.80,334.23 L48.11,334.69 L48.41,335.13 L48.71,335.55 L49.02,335.96 L49.32,336.35 L49.62,336.72 L49.93,337.08 L50.23,337.42 L50.53,337.75 L50.84,338.07 L51.14,338.38 L51.44,338.67 L51.75,338.96 L52.05,339.23 L52.35,339.50 L52.66,339.75 L52.96,340.00 L53.26,340.24 L53.57,340.47 L53.87,340.70 L54.17,340.92 L54.48,341.13 L54.78,341.33 L55.08,341.53 L55.69,341.91 L56.30,342.27 L56.90,342.62 L57.51,342.94 L58.12,343.25 L58.73,343.54 L59.33,343.82 L59.94,344.09 L60.55,344.35 L61.15,344.59 L61.76,344.83 L62.37,345.06 L62.97,345.28 L63.58,345.49 L64.19,345.70 L64.79,345.90 L65.40,346.09 L66.01,346.28 L66.62,346.46 L67.22,346.64 L67.83,346.82 L68.44,346.99 L69.04,347.16 L69.65,347.33 L70.26,347.50 L70.86,347.66 L71.47,347.82 L72.08,347.98 L72.68,348.14 L73.29,348.30 L73.90,348.45 L74.50,348.61 L75.11,348.77 L75.72,348.92 L76.33,349.08 L76.93,349.24 L77.54,349.39 L78.15,349.55 L78.75,349.71 L79.36,349.87 L79.97,350.03 L80.57,350.19 L81.18,350.36 L81.79,350.52 L82.39,350.69 L83.00,350.86 L83.61,351.03 L84.22,351.21 L84.82,351.38 L85.43,351.56 L86.04,351.74 L86.64,351.93 L87.25,352.11 L87.86,352.30 L88.46,352.49 L89.07,352.69 L89.68,352.89 L90.28,353.09 L90.89,353.30 L91.50,353.51 L92.10,353.72 L92.71,353.94 L93.32,354.16 L93.93,354.39 L94.53,354.62 L95.14,354.85 L95.75,355.09 L96.35,355.33 L96.96,355.58 L97.57,355.83 L98.17,356.09 L98.78,356.35 L99.39,356.62 L99.99,356.89 L100.60,357.16 L101.21,357.45 L101.82,357.73 L102.42,358.03 L103.03,358.32 L103.64,358.63 L104.24,358.94 L104.85,359.25 L105.46,359.57 L106.06,359.90 L106.67,360.23 L107.28,360.57 L107.88,360.92 L108.49,361.27 L109.10,361.63 L109.70,361.99 L110.31,362.37 L110.92,362.74 L111.53,363.13 L112.13,363.52 L112.44,363.72 L112.74,363.92 L113.04,364.12 L113.35,364.33 L113.65,364.53 L113.95,364.74 L114.26,364.95 L114.56,365.16 L114.86,365.37 L115.17,365.59 L115.47,365.81 L115.77,366.03 L116.08,366.25 L116.38,366.47 L116.68,366.69 L116.99,366.92 L117.29,367.15 L117.59,367.38 L117.90,367.61 L118.20,367.85 L118.50,368.08 L118.81,368.32 L119.11,368.56 L119.41,368.81 L119.72,369.05 L120.02,369.30 L120.33,369.55 L120.63,369.80 L120.93,370.05 L121.24,370.31 L121.54,370.56 L121.84,370.82 L122.15,371.09 L122.45,371.35 L122.75,371.62 L123.06,371.88 L123.36,372.15 L123.66,372.43 L123.97,372.70 L124.27,372.98 L124.57,373.26 L124.88,373.54 L125.18,373.83 L125.48,374.11 L125.79,374.40 L126.09,374.69 L126.39,374.99 L126.70,375.29 L127.00,375.58 L127.30,375.89 L127.61,376.19 L127.91,376.50 L128.21,376.80 L128.52,377.11 L128.82,377.43 L129.13,377.74 L129.43,378.06 L129.73,378.38 L130.04,378.71 L130.34,379.03 L130.64,379.36 L130.95,379.70 L131.25,380.03 L131.55,380.37 L131.86,380.71 L132.16,381.05 L132.46,381.39 L132.77,381.74 L133.07,382.09 L133.37,382.45 L133.68,382.80 L133.98,383.16 L134.28,383.52 L134.59,383.89 L134.89,384.25 L135.19,384.62 L135.50,385.00 L135.80,385.37 L136.10,385.75 L136.41,386.14 L136.71,386.52 L137.01,386.91 L137.32,387.30 L137.62,387.69 L137.93,388.09 L138.23,388.49 L138.53,388.89 L138.84,389.30 L139.14,389.71 L139.44,390.12 L139.75,390.54 L140.05,390.96 L140.35,391.38 L140.66,391.80 L140.96,392.23 L141.26,392.66 L141.57,393.10 L141.87,393.54 L142.17,393.98 L142.48,394.42 L142.78,394.87 L143.08,395.32 L143.39,395.78 L143.69,396.24 L143.99,396.70 L144.30,397.16 L144.60,397.63 L144.90,398.11 L145.21,398.58 L145.51,399.06 L145.81,399.54 L146.12,400.03 L146.42,400.52 L146.73,401.02 L147.03,401.51 L147.33,402.01 L147.64,402.52 L147.94,403.03 L148.24,403.54 L148.55,404.06 L148.85,404.58 L149.15,405.10 L149.46,405.63 L149.76,406.16 L150.06,406.70 L150.37,407.24 L150.67,407.78 L150.97,408.33 L151.28,408.88 L151.58,409.44 L151.88,410.00 L152.19,410.56 L152.49,411.13 L152.79,411.70 L153.10,412.28 L153.40,412.86 L153.70,413.44 L154.01,414.03 L154.31,414.63 L154.61,415.22 L154.92,415.83 L155.22,416.43 L155.53,417.04 L155.83,417.66 L156.13,418.28 L156.44,418.90 L156.74,419.53 L157.04,420.17 L157.35,420.80 L157.65,421.45 L157.95,422.09 L158.26,422.74 L158.56,423.40 L158.86,424.06 L159.17,424.73 L159.47,425.40 L159.77,426.07 L160.08,426.75 L160.38,427.44 L160.68,428.13 L160.99,428.83 L161.29,429.53 L161.59,430.23 L161.90,430.94 L162.20,431.66 L162.50,432.38 L162.81,433.10 L163.11,433.83 L163.41,434.57 L163.72,435.31 L164.02,436.06 L164.33,436.81 L164.63,437.57 L164.93,438.33 L165.24,439.10 L165.54,439.87 L165.84,440.65 L166.15,441.43 L166.45,442.22 L166.75,443.02 L167.06,443.82 L167.36,444.63 L167.66,445.44 L167.97,446.26 L168.27,447.08 L168.57,447.91 L168.88,448.75 L169.18,449.59 L169.48,450.43 L169.79,451.29 L170.09,452.15 L170.39,453.01 L170.70,453.88 L171.00,454.76 L171.30,455.65 L171.61,456.54 L171.91,457.43 L172.21,458.34 L172.52,459.24 L172.82,460.16 L173.12,461.08 L173.43,462.01 L173.73,462.95 L174.04,463.89 L174.34,464.83 L174.64,465.79 L174.95,466.75 L175.25,467.72 L175.55,468.69 L175.86,469.67 L176.16,470.66 L176.46,471.66 L176.77,472.66 L177.07,473.67 L177.37,474.69 L177.68,475.71 L177.98,476.74 L178.28,477.78 L178.59,478.82 L178.89,479.87 L179.19,480.93 L179.50,482.00 L179.80,483.08 L180.10,484.16 L180.41,485.25 L180.71,486.34 L181.32,486.40 L181.92,486.40 L182.53,486.40 L183.14,486.40 L183.75,486.40 L184.35,486.40 L184.96,486.40 L185.57,486.40 L186.17,486.40 L186.78,486.40 L187.39,486.40 L187.99,486.40 L188.60,486.40 L189.21,486.40 L189.81,486.40 L190.42,486.40 L191.03,486.40 L191.64,486.40 L192.24,486.40 L192.85,486.40 L193.46,486.40 L194.06,486.40 L194.67,486.40 L195.28,486.40 L195.88,486.40 L196.49,486.40 L197.10,486.40 L197.70,486.40 L198.31,486.40 L198.92,486.40 L199.52,486.40 L200.13,486.40 L200.74,486.40 L201.35,486.40 L201.95,486.40 L202.56,486.40 L203.17,486.40 L203.77,486.40 L204.38,486.40 L204.99,486.40 L205.59,486.40 L206.20,486.40 L206.81,486.40 L207.41,486.40 L208.02,486.40 L208.63,486.40 L209.24,486.40 L209.84,486.40 L210.45,486.40 L211.06,486.40 L211.66,486.40 L212.27,486.40 L212.88,486.40 L213.48,486.40 L214.09,486.40 L214.70,486.40 L215.30,486.40 L215.91,486.40 L216.52,486.40 L217.12,486.40 L217.73,486.40 L218.34,486.40 L218.95,486.40 L219.55,486.40 L220.16,486.40 L220.77,486.40 L221.37,486.40 L221.98,486.40 L222.59,486.40 L223.19,486.40 L223.80,486.40 L224.41,486.40 L225.01,486.40 L225.62,486.40 L226.23,486.40 L226.84,486.40 L227.44,486.40 L228.05,486.40 L228.66,486.40 L229.26,486.40 L229.87,486.40 L230.48,486.40 L231.08,486.40 L231.69,486.40 L232.30,486.40 L232.90,486.40 L233.51,486.40 L234.12,486.40 L234.72,486.40 L235.33,486.40 L235.94,486.40 L236.55,486.40 L237.15,486.40 L237.76,486.40 L238.37,486.40 L238.97,486.40 L239.58,486.40 L240.19,486.40 L240.79,486.40 L241.40,486.40 L242.01,486.40 L242.61,486.40 L243.22,486.40 L243.83,486.40 L244.43,486.40 L245.04,486.40 L245.65,486.40 L246.26,486.40 L246.86,486.40 L247.47,486.40 L248.08,486.40 L248.68,486.40 L249.29,486.40 L249.90,486.40 L250.50,486.40 L251.11,486.40 L251.72,486.40 L252.32,486.40 L252.93,486.40 L253.54,486.40 L254.15,486.40 L254.75,486.40 L255.36,486.40 L255.97,486.40 L256.57,486.40 L257.18,486.40 L257.79,486.40 L258.39,486.40 L259.00,486.40 L259.61,486.40 L260.21,486.40 L260.82,486.40 L261.43,486.40 L262.03,486.40 L262.64,486.40 L263.25,486.40 L263.86,486.40 L264.46,486.40 L265.07,486.40 L265.68,486.40 L266.28,486.40 L266.89,486.40 L267.50,486.40 L268.10,486.40 L268.71,486.40 L269.32,486.40 L269.92,486.40 L270.53,486.40 L271.14,486.40 L271.75,486.40 L272.35,486.40 L272.96,486.40 L273.57,486.40 L274.17,486.40 L274.78,486.40 L275.39,486.40 L275.99,486.40 L276.60,486.40 L277.21,486.40 L277.81,486.40 L278.42,486.40 L279.03,486.40 L279.63,486.40 L280.24,486.40 L280.85,486.40 L281.46,486.40 L282.06,486.40 L282.67,486.40 L283.28,486.40 L283.88,486.40 L284.49,486.40 L285.10,486.40 L285.70,486.40 L286.31,486.40 L286.92,486.40 L287.52,486.40 L288.13,486.40 L288.74,486.40 L289.35,486.40 L289.95,486.40 L290.56,486.40 L291.17,486.40 L291.77,486.40 L292.38,486.40 L292.99,486.40 L293.59,486.40 L294.20,486.40 L294.81,486.40 L295.41,486.40 L296.02,486.40 L296.63,486.40 L297.23,486.40 L297.84,486.40 L298.45,486.40 L299.06,486.40 L299.66,486.40 L300.27,486.40 L300.88,486.40 L301.48,486.40 L302.09,486.40 L302.70,486.40 L303.30,486.40 L303.91,486.40 L304.52,486.40 L305.12,486.40 L305.73,486.40 L306.34,486.40 L306.94,486.40 L307.55,486.40 L308.16,486.40 L308.77,486.40 L309.37,486.40 L309.98,486.40 L310.59,486.40 L311.19,486.40 L311.80,486.40 L312.41,486.40 L313.01,486.40 L313.62,486.40 L314.23,486.40 L314.83,486.40 L315.44,486.40 L316.05,486.40 L316.66,486.40 L317.26,486.40 L317.87,486.40 L318.48,486.40 L319.08,486.40 L319.69,486.40 L320.30,486.40 L320.60,486.40" stroke="#9a4a08" stroke-width="1.8" stroke-dasharray="1.5 1.0" stroke-dashoffset="0"/>
<path d="M47.80,334.35 L48.11,334.81 L48.41,335.26 L48.71,335.68 L49.02,336.09 L49.32,336.48 L49.62,336.85 L49.93,337.21 L50.23,337.56 L50.53,337.89 L50.84,338.21 L51.14,338.52 L51.44,338.81 L51.75,339.10 L52.05,339.38 L52.35,339.65 L52.66,339.90 L52.96,340.16 L53.26,340.40 L53.57,340.64 L53.87,340.87 L54.17,341.09 L54.48,341.31 L54.78,341.52 L55.08,341.72 L55.39,341.92 L55.99,342.31 L56.60,342.67 L57.21,343.02 L57.82,343.36 L58.42,343.68 L59.03,343.98 L59.64,344.28 L60.24,344.56 L60.85,344.83 L61.46,345.09 L62.06,345.33 L62.67,345.57 L63.28,345.80 L63.88,346.01 L64.49,346.22 L65.10,346.42 L65.70,346.60 L66.31,346.78 L66.92,346.95 L67.53,347.11 L68.13,347.25 L68.74,347.40 L69.35,347.53 L69.95,347.65 L70.56,347.77 L71.17,347.88 L71.77,347.98 L72.38,348.08 L72.99,348.17 L73.59,348.26 L74.20,348.34 L74.81,348.42 L75.42,348.49 L76.02,348.57 L76.63,348.64 L77.24,348.71 L77.84,348.78 L78.45,348.84 L79.06,348.91 L79.66,348.98 L80.27,349.05 L80.88,349.12 L81.48,349.20 L82.09,349.27 L82.70,349.35 L83.30,349.43 L83.91,349.51 L84.52,349.60 L85.13,349.69 L85.73,349.78 L86.34,349.87 L86.95,349.96 L87.55,350.06 L88.16,350.15 L88.77,350.25 L89.37,350.35 L89.98,350.45 L90.59,350.55 L91.19,350.65 L91.80,350.74 L92.41,350.84 L93.02,350.93 L93.62,351.02 L94.23,351.11 L94.84,351.20 L95.44,351.28 L96.05,351.35 L96.66,351.42 L97.26,351.49 L97.87,351.55 L98.48,351.61 L99.08,351.66 L99.69,351.70 L100.30,351.74 L100.90,351.78 L101.51,351.80 L102.12,351.82 L102.73,351.84 L103.33,351.85 L103.94,351.85 L104.55,351.85 L105.15,351.84 L105.76,351.83 L106.37,351.81 L106.97,351.79 L107.58,351.76 L108.19,351.73 L108.79,351.70 L109.40,351.67 L110.01,351.63 L110.61,351.60 L111.22,351.56 L111.83,351.52 L112.44,351.48 L113.04,351.45 L113.65,351.41 L114.26,351.38 L114.86,351.35 L115.47,351.33 L116.08,351.31 L116.68,351.29 L117.29,351.28 L117.90,351.27 L118.50,351.27 L119.11,351.28 L119.72,351.29 L120.33,351.31 L120.93,351.34 L121.54,351.38 L122.15,351.42 L122.75,351.47 L123.36,351.53 L123.97,351.60 L124.57,351.68 L125.18,351.77 L125.79,351.86 L126.39,351.97 L127.00,352.08 L127.61,352.20 L128.21,352.33 L128.82,352.47 L129.43,352.62 L130.04,352.77 L130.64,352.93 L131.25,353.10 L131.86,353.27 L132.46,353.45 L133.07,353.64 L133.68,353.83 L134.28,354.03 L134.89,354.22 L135.50,354.43 L136.10,354.63 L136.71,354.84 L137.32,355.05 L137.93,355.26 L138.53,355.48 L139.14,355.69 L139.75,355.90 L140.35,356.11 L140.96,356.31 L141.57,356.52 L142.17,356.72 L142.78,356.92 L143.39,357.11 L143.99,357.30 L144.60,357.48 L145.21,357.65 L145.81,357.82 L146.42,357.98 L147.03,358.13 L147.64,358.27 L148.24,358.41 L148.85,358.53 L149.46,358.64 L150.06,358.75 L150.67,358.84 L151.28,358.92 L151.88,358.99 L152.49,359.05 L153.10,359.09 L153.70,359.12 L154.31,359.14 L154.92,359.15 L155.53,359.14 L156.13,359.12 L156.74,359.09 L157.35,359.04 L157.95,358.98 L158.56,358.91 L159.17,358.82 L159.77,358.73 L160.38,358.61 L160.99,358.49 L161.59,358.35 L162.20,358.20 L162.81,358.03 L163.41,357.86 L164.02,357.67 L164.63,357.48 L165.24,357.27 L165.84,357.05 L166.45,356.82 L167.06,356.58 L167.66,356.33 L168.27,356.08 L168.88,355.82 L169.48,355.55 L170.09,355.27 L170.70,354.99 L171.30,354.70 L171.91,354.41 L172.52,354.11 L173.12,353.82 L173.73,353.51 L174.34,353.21 L174.95,352.91 L175.55,352.61 L176.16,352.31 L176.77,352.01 L177.37,351.72 L177.98,351.43 L178.59,351.14 L179.19,350.86 L179.80,350.59 L180.41,350.32 L181.01,350.07 L181.62,349.82 L182.23,349.59 L182.84,349.36 L183.44,349.15 L184.05,348.96 L184.66,348.78 L185.26,348.62 L185.87,348.47 L186.48,348.34 L187.08,348.24 L187.69,348.15 L188.30,348.08 L188.90,348.04 L189.51,348.03 L190.12,348.03 L190.72,348.07 L191.33,348.13 L191.94,348.22 L192.55,348.34 L193.15,348.50 L193.76,348.68 L194.37,348.90 L194.97,349.15 L195.58,349.44 L196.19,349.77 L196.79,350.13 L197.10,350.33 L197.40,350.54 L197.70,350.76 L198.01,350.98 L198.31,351.22 L198.61,351.47 L198.92,351.73 L199.22,352.00 L199.52,352.28 L199.83,352.57 L200.13,352.88 L200.44,353.19 L200.74,353.52 L201.04,353.86 L201.35,354.21 L201.65,354.57 L201.95,354.95 L202.26,355.34 L202.56,355.74 L202.86,356.15 L203.17,356.57 L203.47,357.01 L203.77,357.46 L204.08,357.93 L204.38,358.41 L204.68,358.90 L204.99,359.41 L205.29,359.93 L205.59,360.46 L205.90,361.01 L206.20,361.57 L206.50,362.15 L206.81,362.74 L207.11,363.34 L207.41,363.96 L207.72,364.60 L208.02,365.25 L208.32,365.92 L208.63,366.60 L208.93,367.30 L209.24,368.01 L209.54,368.74 L209.84,369.48 L210.15,370.25 L210.45,371.02 L210.75,371.82 L211.06,372.63 L211.36,373.46 L211.66,374.30 L211.97,375.17 L212.27,376.05 L212.57,376.94 L212.88,377.86 L213.18,378.79 L213.48,379.74 L213.79,380.71 L214.09,381.70 L214.39,382.70 L214.70,383.72 L215.00,384.77 L215.30,385.83 L215.61,386.91 L215.91,388.00 L216.21,389.12 L216.52,390.26 L216.82,391.42 L217.12,392.59 L217.43,393.79 L217.73,395.01 L218.04,396.24 L218.34,397.50 L218.64,398.78 L218.95,400.08 L219.25,401.39 L219.55,402.73 L219.86,404.09 L220.16,405.48 L220.46,406.88 L220.77,408.30 L221.07,409.75 L221.37,411.22 L221.68,412.71 L221.98,414.22 L222.28,415.76 L222.59,417.31 L222.89,418.89 L223.19,420.49 L223.50,422.12 L223.80,423.77 L224.10,425.44 L224.41,427.13 L224.71,428.85 L225.01,430.59 L225.32,432.36 L225.62,434.15 L225.92,435.97 L226.23,437.80 L226.53,439.67 L226.84,441.55 L227.14,443.47 L227.44,445.40 L227.75,447.37 L228.05,449.36 L228.35,451.37 L228.66,453.41 L228.96,455.47 L229.26,457.56 L229.57,459.68 L229.87,461.82 L230.17,463.99 L230.48,466.19 L230.78,468.41 L231.08,470.66 L231.39,472.94 L231.69,475.24 L231.99,477.58 L232.30,479.94 L232.60,482.32 L232.90,484.74 L233.21,486.40 L233.81,486.40 L234.42,486.40 L235.03,486.40 L235.63,486.40 L236.24,486.40 L236.85,486.40 L237.46,486.40 L238.06,486.40 L238.67,486.40 L239.28,486.40 L239.88,486.40 L240.49,486.40 L241.10,486.40 L241.70,486.40 L242.31,486.40 L242.92,486.40 L243.52,486.40 L244.13,486.40 L244.74,486.40 L245.35,486.40 L245.95,486.40 L246.56,486.40 L247.17,486.40 L247.77,486.40 L248.38,486.40 L248.99,486.40 L249.59,486.40 L250.20,486.40 L250.81,486.40 L251.41,486.40 L252.02,486.40 L252.63,486.40 L253.23,486.40 L253.84,486.40 L254.45,486.40 L255.06,486.40 L255.66,486.40 L256.27,486.40 L256.88,486.40 L257.48,486.40 L258.09,486.40 L258.70,486.40 L259.30,486.40 L259.91,486.40 L260.52,486.40 L261.12,486.40 L261.73,486.40 L262.34,486.40 L262.95,486.40 L263.55,486.40 L264.16,486.40 L264.77,486.40 L265.37,486.40 L265.98,486.40 L266.59,486.40 L267.19,486.40 L267.80,486.40 L268.41,486.40 L269.01,486.40 L269.62,486.40 L270.23,486.40 L270.83,486.40 L271.44,486.40 L272.05,486.40 L272.66,486.40 L273.26,486.40 L273.87,486.40 L274.48,486.40 L275.08,486.40 L275.69,486.40 L276.30,486.40 L276.90,486.40 L277.51,486.40 L278.12,486.40 L278.72,486.40 L279.33,486.40 L279.94,486.40 L280.55,486.40 L281.15,486.40 L281.76,486.40 L282.37,486.40 L282.97,486.40 L283.58,486.40 L284.19,486.40 L284.79,486.40 L285.40,486.40 L286.01,486.40 L286.61,486.40 L287.22,486.40 L287.83,486.40 L288.43,486.40 L289.04,486.40 L289.65,486.40 L290.26,486.40 L290.86,486.40 L291.47,486.40 L292.08,486.40 L292.68,486.40 L293.29,486.40 L293.90,486.40 L294.50,486.40 L295.11,486.40 L295.72,486.40 L296.32,486.40 L296.93,486.40 L297.54,486.40 L298.14,486.40 L298.75,486.40 L299.36,486.40 L299.97,486.40 L300.57,486.40 L301.18,486.40 L301.79,486.40 L302.39,486.40 L303.00,486.40 L303.61,486.40 L304.21,486.40 L304.82,486.40 L305.43,486.40 L306.03,486.40 L306.64,486.40 L307.25,486.40 L307.86,486.40 L308.46,486.40 L309.07,486.40 L309.68,486.40 L310.28,486.40 L310.89,486.40 L311.50,486.40 L312.10,486.40 L312.71,486.40 L313.32,486.40 L313.92,486.40 L314.53,486.40 L315.14,486.40 L315.74,486.40 L316.35,486.40 L316.96,486.40 L317.57,486.40 L318.17,486.40 L318.78,486.40 L319.39,486.40 L319.99,486.40 L320.60,486.40" stroke="#ff8614" stroke-width="1.5" stroke-opacity="0.22"/>
<path d="M47.80,334.35 L48.11,334.81 L48.41,335.26 L48.71,335.68 L49.02,336.09 L49.32,336.48 L49.62,336.85 L49.93,337.21 L50.23,337.56 L50.53,337.89 L50.84,338.21 L51.14,338.52 L51.44,338.81 L51.75,339.10 L52.05,339.38 L52.35,339.65 L52.66,339.90 L52.96,340.16 L53.26,340.40 L53.57,340.64 L53.87,340.87 L54.17,341.09 L54.48,341.31 L54.78,341.52 L55.08,341.72 L55.39,341.92 L55.99,342.31 L56.60,342.67 L57.21,343.02 L57.82,343.36 L58.42,343.68 L59.03,343.98 L59.64,344.28 L60.24,344.56 L60.85,344.83 L61.46,345.09 L62.06,345.33 L62.67,345.57 L63.28,345.80 L63.88,346.01 L64.49,346.22 L65.10,346.42 L65.70,346.60 L66.31,346.78 L66.92,346.95 L67.53,347.11 L68.13,347.25 L68.74,347.40 L69.35,347.53 L69.95,347.65 L70.56,347.77 L71.17,347.88 L71.77,347.98 L72.38,348.08 L72.99,348.17 L73.59,348.26 L74.20,348.34 L74.81,348.42 L75.42,348.49 L76.02,348.57 L76.63,348.64 L77.24,348.71 L77.84,348.78 L78.45,348.84 L79.06,348.91 L79.66,348.98 L80.27,349.05 L80.88,349.12 L81.48,349.20 L82.09,349.27 L82.70,349.35 L83.30,349.43 L83.91,349.51 L84.52,349.60 L85.13,349.69 L85.73,349.78 L86.34,349.87 L86.95,349.96 L87.55,350.06 L88.16,350.15 L88.77,350.25 L89.37,350.35 L89.98,350.45 L90.59,350.55 L91.19,350.65 L91.80,350.74 L92.41,350.84 L93.02,350.93 L93.62,351.02 L94.23,351.11 L94.84,351.20 L95.44,351.28 L96.05,351.35 L96.66,351.42 L97.26,351.49 L97.87,351.55 L98.48,351.61 L99.08,351.66 L99.69,351.70 L100.30,351.74 L100.90,351.78 L101.51,351.80 L102.12,351.82 L102.73,351.84 L103.33,351.85 L103.94,351.85 L104.55,351.85 L105.15,351.84 L105.76,351.83 L106.37,351.81 L106.97,351.79 L107.58,351.76 L108.19,351.73 L108.79,351.70 L109.40,351.67 L110.01,351.63 L110.61,351.60 L111.22,351.56 L111.83,351.52 L112.44,351.48 L113.04,351.45 L113.65,351.41 L114.26,351.38 L114.86,351.35 L115.47,351.33 L116.08,351.31 L116.68,351.29 L117.29,351.28 L117.90,351.27 L118.50,351.27 L119.11,351.28 L119.72,351.29 L120.33,351.31 L120.93,351.34 L121.54,351.38 L122.15,351.42 L122.75,351.47 L123.36,351.53 L123.97,351.60 L124.57,351.68 L125.18,351.77 L125.79,351.86 L126.39,351.97 L127.00,352.08 L127.61,352.20 L128.21,352.33 L128.82,352.47 L129.43,352.62 L130.04,352.77 L130.64,352.93 L131.25,353.10 L131.86,353.27 L132.46,353.45 L133.07,353.64 L133.68,353.83 L134.28,354.03 L134.89,354.22 L135.50,354.43 L136.10,354.63 L136.71,354.84 L137.32,355.05 L137.93,355.26 L138.53,355.48 L139.14,355.69 L139.75,355.90 L140.35,356.11 L140.96,356.31 L141.57,356.52 L142.17,356.72 L142.78,356.92 L143.39,357.11 L143.99,357.30 L144.60,357.48 L145.21,357.65 L145.81,357.82 L146.42,357.98 L147.03,358.13 L147.64,358.27 L148.24,358.41 L148.85,358.53 L149.46,358.64 L150.06,358.75 L150.67,358.84 L151.28,358.92 L151.88,358.99 L152.49,359.05 L153.10,359.09 L153.70,359.12 L154.31,359.14 L154.92,359.15 L155.53,359.14 L156.13,359.12 L156.74,359.09 L157.35,359.04 L157.95,358.98 L158.56,358.91 L159.17,358.82 L159.77,358.73 L160.38,358.61 L160.99,358.49 L161.59,358.35 L162.20,358.20 L162.81,358.03 L163.41,357.86 L164.02,357.67 L164.63,357.48 L165.24,357.27 L165.84,357.05 L166.45,356.82 L167.06,356.58 L167.66,356.33 L168.27,356.08 L168.88,355.82 L169.48,355.55 L170.09,355.27 L170.70,354.99 L171.30,354.70 L171.91,354.41 L172.52,354.11 L173.12,353.82 L173.73,353.51 L174.34,353.21 L174.95,352.91 L175.55,352.61 L176.16,352.31 L176.77,352.01 L177.37,351.72 L177.98,351.43 L178.59,351.14 L179.19,350.86 L179.80,350.59 L180.41,350.32 L181.01,350.07 L181.62,349.82 L182.23,349.59 L182.84,349.36 L183.44,349.15 L184.05,348.96 L184.66,348.78 L185.26,348.62 L185.87,348.47 L186.48,348.34 L187.08,348.24 L187.69,348.15 L188.30,348.08 L188.90,348.04 L189.51,348.03 L190.12,348.03 L190.72,348.07 L191.33,348.13 L191.94,348.22 L192.55,348.34 L193.15,348.50 L193.76,348.68 L194.37,348.90 L194.97,349.15 L195.58,349.44 L196.19,349.77 L196.79,350.13 L197.10,350.33 L197.40,350.54 L197.70,350.76 L198.01,350.98 L198.31,351.22 L198.61,351.47 L198.92,351.73 L199.22,352.00 L199.52,352.28 L199.83,352.57 L200.13,352.88 L200.44,353.19 L200.74,353.52 L201.04,353.86 L201.35,354.21 L201.65,354.57 L201.95,354.95 L202.26,355.34 L202.56,355.74 L202.86,356.15 L203.17,356.57 L203.47,357.01 L203.77,357.46 L204.08,357.93 L204.38,358.41 L204.68,358.90 L204.99,359.41 L205.29,359.93 L205.59,360.46 L205.90,361.01 L206.20,361.57 L206.50,362.15 L206.81,362.74 L207.11,363.34 L207.41,363.96 L207.72,364.60 L208.02,365.25 L208.32,365.92 L208.63,366.60 L208.93,367.30 L209.24,368.01 L209.54,368.74 L209.84,369.48 L210.15,370.25 L210.45,371.02 L210.75,371.82 L211.06,372.63 L211.36,373.46 L211.66,374.30 L211.97,375.17 L212.27,376.05 L212.57,376.94 L212.88,377.86 L213.18,378.79 L213.48,379.74 L213.79,380.71 L214.09,381.70 L214.39,382.70 L214.70,383.72 L215.00,384.77 L215.30,385.83 L215.61,386.91 L215.91,388.00 L216.21,389.12 L216.52,390.26 L216.82,391.42 L217.12,392.59 L217.43,393.79 L217.73,395.01 L218.04,396.24 L218.34,397.50 L218.64,398.78 L218.95,400.08 L219.25,401.39 L219.55,402.73 L219.86,404.09 L220.16,405.48 L220.46,406.88 L220.77,408.30 L221.07,409.75 L221.37,411.22 L221.68,412.71 L221.98,414.22 L222.28,415.76 L222.59,417.31 L222.89,418.89 L223.19,420.49 L223.50,422.12 L223.80,423.77 L224.10,425.44 L224.41,427.13 L224.71,428.85 L225.01,430.59 L225.32,432.36 L225.62,434.15 L225.92,435.97 L226.23,437.80 L226.53,439.67 L226.84,441.55 L227.14,443.47 L227.44,445.40 L227.75,447.37 L228.05,449.36 L228.35,451.37 L228.66,453.41 L228.96,455.47 L229.26,457.56 L229.57,459.68 L229.87,461.82 L230.17,463.99 L230.48,466.19 L230.78,468.41 L231.08,470.66 L231.39,472.94 L231.69,475.24 L231.99,477.58 L232.30,479.94 L232.60,482.32 L232.90,484.74 L233.21,486.40 L233.81,486.40 L234.42,486.40 L235.03,486.40 L235.63,486.40 L236.24,486.40 L236.85,486.40 L237.46,486.40 L238.06,486.40 L238.67,486.40 L239.28,486.40 L239.88,486.40 L240.49,486.40 L241.10,486.40 L241.70,486.40 L242.31,486.40 L242.92,486.40 L243.52,486.40 L244.13,486.40 L244.74,486.40 L245.35,486.40 L245.95,486.40 L246.56,486.40 L247.17,486.40 L247.77,486.40 L248.38,486.40 L248.99,486.40 L249.59,486.40 L250.20,486.40 L250.81,486.40 L251.41,486.40 L252.02,486.40 L252.63,486.40 L253.23,486.40 L253.84,486.40 L254.45,486.40 L255.06,486.40 L255.66,486.40 L256.27,486.40 L256.88,486.40 L257.48,486.40 L258.09,486.40 L258.70,486.40 L259.30,486.40 L259.91,486.40 L260.52,486.40 L261.12,486.40 L261.73,486.40 L262.34,486.40 L262.95,486.40 L263.55,486.40 L264.16,486.40 L264.77,486.40 L265.37,486.40 L265.98,486.40 L266.59,486.40 L267.19,486.40 L267.80,486.40 L268.41,486.40 L269.01,486.40 L269.62,486.40 L270.23,486.40 L270.83,486.40 L271.44,486.40 L272.05,486.40 L272.66,486.40 L273.26,486.40 L273.87,486.40 L274.48,486.40 L275.08,486.40 L275.69,486.40 L276.30,486.40 L276.90,486.40 L277.51,486.40 L278.12,486.40 L278.72,486.40 L279.33,486.40 L279.94,486.40 L280.55,486.40 L281.15,486.40 L281.76,486.40 L282.37,486.40 L282.97,486.40 L283.58,486.40 L284.19,486.40 L284.79,486.40 L285.40,486.40 L286.01,486.40 L286.61,486.40 L287.22,486.40 L287.83,486.40 L288.43,486.40 L289.04,486.40 L289.65,486.40 L290.26,486.40 L290.86,486.40 L291.47,486.40 L292.08,486.40 L292.68,486.40 L293.29,486.40 L293.90,486.40 L294.50,486.40 L295.11,486.40 L295.72,486.40 L296.32,486.40 L296.93,486.40 L297.54,486.40 L298.14,486.40 L298.75,486.40 L299.36,486.40 L299.97,486.40 L300.57,486.40 L301.18,486.40 L301.79,486.40 L302.39,486.40 L303.00,486.40 L303.61,486.40 L304.21,486.40 L304.82,486.40 L305.43,486.40 L306.03,486.40 L306.64,486.40 L307.25,486.40 L307.86,486.40 L308.46,486.40 L309.07,486.40 L309.68,486.40 L310.28,486.40 L310.89,486.40 L311.50,486.40 L312.10,486.40 L312.71,486.40 L313.32,486.40 L313.92,486.40 L314.53,486.40 L315.14,486.40 L315.74,486.40 L316.35,486.40 L316.96,486.40 L317.57,486.40 L318.17,486.40 L318.78,486.40 L319.39,486.40 L319.99,486.40 L320.60,486.40" stroke="#ff8614" stroke-width="1.8" stroke-dasharray="1.5 1.0" stroke-dashoffset="0.62"/>
<path d="M47.80,334.28 L48.11,334.75 L48.41,335.20 L48.71,335.63 L49.02,336.04 L49.32,336.44 L49.62,336.83 L49.93,337.20 L50.23,337.55 L50.53,337.90 L50.84,338.22 L51.14,338.54 L51.44,338.85 L51.75,339.14 L52.05,339.42 L52.35,339.69 L52.66,339.96 L52.96,340.21 L53.26,340.45 L53.57,340.69 L53.87,340.91 L54.17,341.13 L54.48,341.34 L54.78,341.55 L55.08,341.75 L55.69,342.13 L56.30,342.50 L56.90,342.85 L57.51,343.18 L58.12,343.50 L58.73,343.81 L59.33,344.10 L59.94,344.38 L60.55,344.64 L61.15,344.89 L61.76,345.12 L62.37,345.34 L62.97,345.54 L63.58,345.73 L64.19,345.91 L64.79,346.09 L65.40,346.26 L66.01,346.43 L66.62,346.60 L67.22,346.76 L67.83,346.93 L68.44,347.09 L69.04,347.24 L69.65,347.39 L70.26,347.54 L70.86,347.67 L71.47,347.80 L72.08,347.92 L72.68,348.02 L73.29,348.12 L73.90,348.22 L74.50,348.30 L75.11,348.39 L75.72,348.48 L76.33,348.56 L76.93,348.65 L77.54,348.74 L78.15,348.84 L78.75,348.94 L79.36,349.03 L79.97,349.13 L80.57,349.23 L81.18,349.32 L81.79,349.41 L82.39,349.49 L83.00,349.56 L83.61,349.63 L84.22,349.68 L84.82,349.73 L85.43,349.77 L86.04,349.81 L86.64,349.85 L87.25,349.88 L87.86,349.92 L88.46,349.97 L89.07,350.02 L89.68,350.07 L90.28,350.13 L90.89,350.20 L91.50,350.27 L92.10,350.34 L92.71,350.42 L93.32,350.49 L93.93,350.56 L94.53,350.63 L95.14,350.68 L95.75,350.73 L96.35,350.78 L96.96,350.81 L97.57,350.83 L98.17,350.85 L98.78,350.86 L99.39,350.86 L99.99,350.87 L100.60,350.87 L101.21,350.88 L101.82,350.89 L102.42,350.90 L103.03,350.93 L103.64,350.96 L104.24,351.00 L104.85,351.05 L105.46,351.10 L106.06,351.17 L106.67,351.23 L107.28,351.30 L107.88,351.38 L108.49,351.45 L109.10,351.51 L109.70,351.57 L110.31,351.62 L110.92,351.66 L111.53,351.69 L112.13,351.71 L112.74,351.72 L113.35,351.72 L113.95,351.71 L114.56,351.69 L115.17,351.67 L115.77,351.64 L116.38,351.61 L116.99,351.59 L117.59,351.56 L118.20,351.54 L118.81,351.54 L119.41,351.54 L120.02,351.55 L120.63,351.57 L121.24,351.61 L121.84,351.66 L122.45,351.71 L123.06,351.78 L123.66,351.86 L124.27,351.94 L124.88,352.03 L125.48,352.12 L126.09,352.21 L126.70,352.30 L127.30,352.37 L127.91,352.45 L128.52,352.51 L129.13,352.56 L129.73,352.59 L130.34,352.61 L130.95,352.62 L131.55,352.61 L132.16,352.59 L132.77,352.56 L133.37,352.51 L133.98,352.45 L134.59,352.39 L135.19,352.32 L135.80,352.25 L136.41,352.18 L137.01,352.11 L137.62,352.05 L138.23,352.00 L138.84,351.95 L139.44,351.92 L140.05,351.91 L140.66,351.91 L141.26,351.92 L141.87,351.96 L142.48,352.01 L143.08,352.08 L143.69,352.17 L144.30,352.27 L144.90,352.39 L145.51,352.51 L146.12,352.65 L146.73,352.79 L147.33,352.94 L147.94,353.09 L148.55,353.24 L149.15,353.39 L149.76,353.52 L150.37,353.65 L150.97,353.76 L151.58,353.86 L152.19,353.95 L152.79,354.01 L153.40,354.05 L154.01,354.08 L154.61,354.08 L155.22,354.06 L155.83,354.02 L156.44,353.96 L157.04,353.87 L157.65,353.78 L158.26,353.66 L158.86,353.53 L159.47,353.39 L160.08,353.24 L160.68,353.09 L161.29,352.93 L161.90,352.78 L162.50,352.62 L163.11,352.48 L163.72,352.34 L164.33,352.22 L164.93,352.11 L165.54,352.03 L166.15,351.96 L166.75,351.91 L167.36,351.90 L167.97,351.90 L168.57,351.94 L169.18,352.00 L169.79,352.09 L170.39,352.22 L171.00,352.37 L171.61,352.54 L172.21,352.75 L172.82,352.98 L173.43,353.23 L174.04,353.51 L174.64,353.80 L175.25,354.11 L175.86,354.43 L176.46,354.77 L177.07,355.11 L177.68,355.45 L178.28,355.79 L178.89,356.13 L179.50,356.47 L180.10,356.79 L180.71,357.10 L181.32,357.40 L181.92,357.67 L182.53,357.92 L183.14,358.15 L183.75,358.35 L184.35,358.51 L184.96,358.65 L185.57,358.75 L186.17,358.82 L186.78,358.85 L187.39,358.84 L187.99,358.80 L188.60,358.72 L189.21,358.61 L189.81,358.45 L190.42,358.27 L191.03,358.05 L191.64,357.80 L192.24,357.51 L192.85,357.21 L193.46,356.87 L194.06,356.52 L194.67,356.14 L195.28,355.75 L195.58,355.55 L195.88,355.35 L196.19,355.15 L196.49,354.94 L196.79,354.74 L197.10,354.53 L197.40,354.32 L197.70,354.11 L198.01,353.90 L198.31,353.70 L198.61,353.49 L198.92,353.29 L199.22,353.09 L199.83,352.70 L200.44,352.33 L201.04,351.98 L201.65,351.66 L202.26,351.36 L202.86,351.10 L203.47,350.87 L204.08,350.68 L204.68,350.53 L205.29,350.43 L205.90,350.37 L206.50,350.37 L207.11,350.42 L207.72,350.52 L208.32,350.69 L208.93,350.91 L209.54,351.19 L210.15,351.53 L210.75,351.93 L211.06,352.15 L211.36,352.39 L211.66,352.65 L211.97,352.92 L212.27,353.21 L212.57,353.51 L212.88,353.82 L213.18,354.16 L213.48,354.50 L213.79,354.87 L214.09,355.24 L214.39,355.63 L214.70,356.04 L215.00,356.46 L215.30,356.90 L215.61,357.34 L215.91,357.81 L216.21,358.28 L216.52,358.77 L216.82,359.27 L217.12,359.78 L217.43,360.31 L217.73,360.85 L218.04,361.40 L218.34,361.96 L218.64,362.53 L218.95,363.11 L219.25,363.70 L219.55,364.30 L219.86,364.91 L220.16,365.53 L220.46,366.15 L220.77,366.79 L221.07,367.43 L221.37,368.08 L221.68,368.73 L221.98,369.39 L222.28,370.06 L222.59,370.73 L222.89,371.40 L223.19,372.08 L223.50,372.76 L223.80,373.45 L224.10,374.14 L224.41,374.82 L224.71,375.51 L225.01,376.20 L225.32,376.89 L225.62,377.58 L225.92,378.27 L226.23,378.95 L226.53,379.64 L226.84,380.32 L227.14,381.00 L227.44,381.67 L227.75,382.34 L228.05,383.00 L228.35,383.66 L228.66,384.31 L228.96,384.96 L229.26,385.60 L229.57,386.23 L229.87,386.85 L230.17,387.46 L230.48,388.07 L230.78,388.66 L231.08,389.24 L231.39,389.82 L231.69,390.38 L231.99,390.93 L232.30,391.46 L232.60,391.99 L232.90,392.50 L233.21,392.99 L233.51,393.47 L233.81,393.94 L234.12,394.39 L234.42,394.83 L234.72,395.25 L235.03,395.65 L235.33,396.04 L235.63,396.41 L235.94,396.76 L236.24,397.10 L236.55,397.41 L236.85,397.71 L237.15,397.99 L237.46,398.25 L237.76,398.48 L238.06,398.70 L238.37,398.90 L238.97,399.24 L239.58,399.49 L240.19,399.66 L240.79,399.74 L241.40,399.73 L242.01,399.63 L242.61,399.45 L243.22,399.17 L243.83,398.80 L244.13,398.58 L244.43,398.34 L244.74,398.08 L245.04,397.79 L245.35,397.48 L245.65,397.15 L245.95,396.80 L246.26,396.42 L246.56,396.02 L246.86,395.60 L247.17,395.16 L247.47,394.70 L247.77,394.21 L248.08,393.70 L248.38,393.18 L248.68,392.63 L248.99,392.06 L249.29,391.47 L249.59,390.86 L249.90,390.23 L250.20,389.58 L250.50,388.91 L250.81,388.22 L251.11,387.51 L251.41,386.79 L251.72,386.04 L252.02,385.28 L252.32,384.50 L252.63,383.71 L252.93,382.90 L253.23,382.07 L253.54,381.23 L253.84,380.37 L254.15,379.50 L254.45,378.61 L254.75,377.71 L255.06,376.80 L255.36,375.88 L255.66,374.94 L255.97,373.99 L256.27,373.03 L256.57,372.06 L256.88,371.08 L257.18,370.09 L257.48,369.10 L257.79,368.09 L258.09,367.08 L258.39,366.06 L258.70,365.04 L259.00,364.01 L259.30,362.97 L259.61,361.93 L259.91,360.89 L260.21,359.85 L260.52,358.80 L260.82,357.75 L261.12,356.70 L261.43,355.65 L261.73,354.61 L262.03,353.56 L262.34,352.52 L262.64,351.48 L262.95,350.44 L263.25,349.41 L263.55,348.38 L263.86,347.36 L264.16,346.35 L264.46,345.35 L264.77,344.35 L265.07,343.37 L265.37,342.39 L265.68,341.43 L265.98,340.48 L266.28,339.54 L266.59,338.61 L266.89,337.70 L267.19,336.81 L267.50,335.93 L267.80,335.07 L268.10,334.23 L268.41,333.40 L268.71,332.60 L269.01,331.82 L269.32,331.06 L269.62,330.32 L269.92,329.61 L270.23,328.92 L270.53,328.25 L270.83,327.62 L271.14,327.01 L271.44,326.42 L271.75,325.87 L272.05,325.35 L272.35,324.86 L272.66,324.40 L272.96,323.97 L273.26,323.58 L273.57,323.23 L273.87,322.90 L274.17,322.62 L274.48,322.37 L274.78,322.17 L275.39,321.87 L275.99,321.75 L276.60,321.79 L277.21,322.02 L277.81,322.45 L278.12,322.73 L278.42,323.07 L278.72,323.45 L279.03,323.89 L279.33,324.39 L279.63,324.94 L279.94,325.54 L280.24,326.20 L280.55,326.92 L280.85,327.70 L281.15,328.53 L281.46,329.43 L281.76,330.39 L282.06,331.41 L282.37,332.50 L282.67,333.65 L282.97,334.87 L283.28,336.15 L283.58,337.50 L283.88,338.92 L284.19,340.41 L284.49,341.97 L284.79,343.60 L285.10,345.31 L285.40,347.09 L285.70,348.94 L286.01,350.87 L286.31,352.88 L286.61,354.96 L286.92,357.13 L287.22,359.37 L287.52,361.70 L287.83,364.10 L288.13,366.59 L288.43,369.17 L288.74,371.83 L289.04,374.57 L289.35,377.40 L289.65,380.32 L289.95,383.33 L290.26,386.43 L290.56,389.62 L290.86,392.91 L291.17,396.28 L291.47,399.75 L291.77,403.32 L292.08,406.98 L292.38,410.74 L292.68,414.60 L292.99,418.55 L293.29,422.61 L293.59,426.77 L293.90,431.03 L294.20,435.39 L294.50,439.86 L294.81,444.43 L295.11,449.11 L295.41,453.90 L295.72,458.80 L296.02,463.80 L296.32,468.92 L296.63,474.14 L296.93,479.48 L297.23,484.94 L297.54,486.40 L298.14,486.40 L298.75,486.40 L299.36,486.40 L299.97,486.40 L300.57,486.40 L301.18,486.40 L301.79,486.40 L302.39,486.40 L303.00,486.40 L303.61,486.40 L304.21,486.40 L304.82,486.40 L305.43,486.40 L306.03,486.40 L306.64,486.40 L307.25,486.40 L307.86,486.40 L308.46,486.40 L309.07,486.40 L309.68,486.40 L310.28,486.40 L310.89,486.40 L311.50,486.40 L312.10,486.40 L312.71,486.40 L313.32,486.40 L313.92,486.40 L314.53,486.40 L315.14,486.40 L315.74,486.40 L316.35,486.40 L316.96,486.40 L317.57,486.40 L318.17,486.40 L318.78,486.40 L319.39,486.40 L319.99,486.40 L320.60,486.40" stroke="#056a05" stroke-width="1.5" stroke-opacity="0.22"/>
<path d="M47.80,334.28 L48.11,334.75 L48.41,335.20 L48.71,335.63 L49.02,336.04 L49.32,336.44 L49.62,336.83 L49.93,337.20 L50.23,337.55 L50.53,337.90 L50.84,338.22 L51.14,338.54 L51.44,338.85 L51.75,339.14 L52.05,339.42 L52.35,339.69 L52.66,339.96 L52.96,340.21 L53.26,340.45 L53.57,340.69 L53.87,340.91 L54.17,341.13 L54.48,341.34 L54.78,341.55 L55.08,341.75 L55.69,342.13 L56.30,342.50 L56.90,342.85 L57.51,343.18 L58.12,343.50 L58.73,343.81 L59.33,344.10 L59.94,344.38 L60.55,344.64 L61.15,344.89 L61.76,345.12 L62.37,345.34 L62.97,345.54 L63.58,345.73 L64.19,345.91 L64.79,346.09 L65.40,346.26 L66.01,346.43 L66.62,346.60 L67.22,346.76 L67.83,346.93 L68.44,347.09 L69.04,347.24 L69.65,347.39 L70.26,347.54 L70.86,347.67 L71.47,347.80 L72.08,347.92 L72.68,348.02 L73.29,348.12 L73.90,348.22 L74.50,348.30 L75.11,348.39 L75.72,348.48 L76.33,348.56 L76.93,348.65 L77.54,348.74 L78.15,348.84 L78.75,348.94 L79.36,349.03 L79.97,349.13 L80.57,349.23 L81.18,349.32 L81.79,349.41 L82.39,349.49 L83.00,349.56 L83.61,349.63 L84.22,349.68 L84.82,349.73 L85.43,349.77 L86.04,349.81 L86.64,349.85 L87.25,349.88 L87.86,349.92 L88.46,349.97 L89.07,350.02 L89.68,350.07 L90.28,350.13 L90.89,350.20 L91.50,350.27 L92.10,350.34 L92.71,350.42 L93.32,350.49 L93.93,350.56 L94.53,350.63 L95.14,350.68 L95.75,350.73 L96.35,350.78 L96.96,350.81 L97.57,350.83 L98.17,350.85 L98.78,350.86 L99.39,350.86 L99.99,350.87 L100.60,350.87 L101.21,350.88 L101.82,350.89 L102.42,350.90 L103.03,350.93 L103.64,350.96 L104.24,351.00 L104.85,351.05 L105.46,351.10 L106.06,351.17 L106.67,351.23 L107.28,351.30 L107.88,351.38 L108.49,351.45 L109.10,351.51 L109.70,351.57 L110.31,351.62 L110.92,351.66 L111.53,351.69 L112.13,351.71 L112.74,351.72 L113.35,351.72 L113.95,351.71 L114.56,351.69 L115.17,351.67 L115.77,351.64 L116.38,351.61 L116.99,351.59 L117.59,351.56 L118.20,351.54 L118.81,351.54 L119.41,351.54 L120.02,351.55 L120.63,351.57 L121.24,351.61 L121.84,351.66 L122.45,351.71 L123.06,351.78 L123.66,351.86 L124.27,351.94 L124.88,352.03 L125.48,352.12 L126.09,352.21 L126.70,352.30 L127.30,352.37 L127.91,352.45 L128.52,352.51 L129.13,352.56 L129.73,352.59 L130.34,352.61 L130.95,352.62 L131.55,352.61 L132.16,352.59 L132.77,352.56 L133.37,352.51 L133.98,352.45 L134.59,352.39 L135.19,352.32 L135.80,352.25 L136.41,352.18 L137.01,352.11 L137.62,352.05 L138.23,352.00 L138.84,351.95 L139.44,351.92 L140.05,351.91 L140.66,351.91 L141.26,351.92 L141.87,351.96 L142.48,352.01 L143.08,352.08 L143.69,352.17 L144.30,352.27 L144.90,352.39 L145.51,352.51 L146.12,352.65 L146.73,352.79 L147.33,352.94 L147.94,353.09 L148.55,353.24 L149.15,353.39 L149.76,353.52 L150.37,353.65 L150.97,353.76 L151.58,353.86 L152.19,353.95 L152.79,354.01 L153.40,354.05 L154.01,354.08 L154.61,354.08 L155.22,354.06 L155.83,354.02 L156.44,353.96 L157.04,353.87 L157.65,353.78 L158.26,353.66 L158.86,353.53 L159.47,353.39 L160.08,353.24 L160.68,353.09 L161.29,352.93 L161.90,352.78 L162.50,352.62 L163.11,352.48 L163.72,352.34 L164.33,352.22 L164.93,352.11 L165.54,352.03 L166.15,351.96 L166.75,351.91 L167.36,351.90 L167.97,351.90 L168.57,351.94 L169.18,352.00 L169.79,352.09 L170.39,352.22 L171.00,352.37 L171.61,352.54 L172.21,352.75 L172.82,352.98 L173.43,353.23 L174.04,353.51 L174.64,353.80 L175.25,354.11 L175.86,354.43 L176.46,354.77 L177.07,355.11 L177.68,355.45 L178.28,355.79 L178.89,356.13 L179.50,356.47 L180.10,356.79 L180.71,357.10 L181.32,357.40 L181.92,357.67 L182.53,357.92 L183.14,358.15 L183.75,358.35 L184.35,358.51 L184.96,358.65 L185.57,358.75 L186.17,358.82 L186.78,358.85 L187.39,358.84 L187.99,358.80 L188.60,358.72 L189.21,358.61 L189.81,358.45 L190.42,358.27 L191.03,358.05 L191.64,357.80 L192.24,357.51 L192.85,357.21 L193.46,356.87 L194.06,356.52 L194.67,356.14 L195.28,355.75 L195.58,355.55 L195.88,355.35 L196.19,355.15 L196.49,354.94 L196.79,354.74 L197.10,354.53 L197.40,354.32 L197.70,354.11 L198.01,353.90 L198.31,353.70 L198.61,353.49 L198.92,353.29 L199.22,353.09 L199.83,352.70 L200.44,352.33 L201.04,351.98 L201.65,351.66 L202.26,351.36 L202.86,351.10 L203.47,350.87 L204.08,350.68 L204.68,350.53 L205.29,350.43 L205.90,350.37 L206.50,350.37 L207.11,350.42 L207.72,350.52 L208.32,350.69 L208.93,350.91 L209.54,351.19 L210.15,351.53 L210.75,351.93 L211.06,352.15 L211.36,352.39 L211.66,352.65 L211.97,352.92 L212.27,353.21 L212.57,353.51 L212.88,353.82 L213.18,354.16 L213.48,354.50 L213.79,354.87 L214.09,355.24 L214.39,355.63 L214.70,356.04 L215.00,356.46 L215.30,356.90 L215.61,357.34 L215.91,357.81 L216.21,358.28 L216.52,358.77 L216.82,359.27 L217.12,359.78 L217.43,360.31 L217.73,360.85 L218.04,361.40 L218.34,361.96 L218.64,362.53 L218.95,363.11 L219.25,363.70 L219.55,364.30 L219.86,364.91 L220.16,365.53 L220.46,366.15 L220.77,366.79 L221.07,367.43 L221.37,368.08 L221.68,368.73 L221.98,369.39 L222.28,370.06 L222.59,370.73 L222.89,371.40 L223.19,372.08 L223.50,372.76 L223.80,373.45 L224.10,374.14 L224.41,374.82 L224.71,375.51 L225.01,376.20 L225.32,376.89 L225.62,377.58 L225.92,378.27 L226.23,378.95 L226.53,379.64 L226.84,380.32 L227.14,381.00 L227.44,381.67 L227.75,382.34 L228.05,383.00 L228.35,383.66 L228.66,384.31 L228.96,384.96 L229.26,385.60 L229.57,386.23 L229.87,386.85 L230.17,387.46 L230.48,388.07 L230.78,388.66 L231.08,389.24 L231.39,389.82 L231.69,390.38 L231.99,390.93 L232.30,391.46 L232.60,391.99 L232.90,392.50 L233.21,392.99 L233.51,393.47 L233.81,393.94 L234.12,394.39 L234.42,394.83 L234.72,395.25 L235.03,395.65 L235.33,396.04 L235.63,396.41 L235.94,396.76 L236.24,397.10 L236.55,397.41 L236.85,397.71 L237.15,397.99 L237.46,398.25 L237.76,398.48 L238.06,398.70 L238.37,398.90 L238.97,399.24 L239.58,399.49 L240.19,399.66 L240.79,399.74 L241.40,399.73 L242.01,399.63 L242.61,399.45 L243.22,399.17 L243.83,398.80 L244.13,398.58 L244.43,398.34 L244.74,398.08 L245.04,397.79 L245.35,397.48 L245.65,397.15 L245.95,396.80 L246.26,396.42 L246.56,396.02 L246.86,395.60 L247.17,395.16 L247.47,394.70 L247.77,394.21 L248.08,393.70 L248.38,393.18 L248.68,392.63 L248.99,392.06 L249.29,391.47 L249.59,390.86 L249.90,390.23 L250.20,389.58 L250.50,388.91 L250.81,388.22 L251.11,387.51 L251.41,386.79 L251.72,386.04 L252.02,385.28 L252.32,384.50 L252.63,383.71 L252.93,382.90 L253.23,382.07 L253.54,381.23 L253.84,380.37 L254.15,379.50 L254.45,378.61 L254.75,377.71 L255.06,376.80 L255.36,375.88 L255.66,374.94 L255.97,373.99 L256.27,373.03 L256.57,372.06 L256.88,371.08 L257.18,370.09 L257.48,369.10 L257.79,368.09 L258.09,367.08 L258.39,366.06 L258.70,365.04 L259.00,364.01 L259.30,362.97 L259.61,361.93 L259.91,360.89 L260.21,359.85 L260.52,358.80 L260.82,357.75 L261.12,356.70 L261.43,355.65 L261.73,354.61 L262.03,353.56 L262.34,352.52 L262.64,351.48 L262.95,350.44 L263.25,349.41 L263.55,348.38 L263.86,347.36 L264.16,346.35 L264.46,345.35 L264.77,344.35 L265.07,343.37 L265.37,342.39 L265.68,341.43 L265.98,340.48 L266.28,339.54 L266.59,338.61 L266.89,337.70 L267.19,336.81 L267.50,335.93 L267.80,335.07 L268.10,334.23 L268.41,333.40 L268.71,332.60 L269.01,331.82 L269.32,331.06 L269.62,330.32 L269.92,329.61 L270.23,328.92 L270.53,328.25 L270.83,327.62 L271.14,327.01 L271.44,326.42 L271.75,325.87 L272.05,325.35 L272.35,324.86 L272.66,324.40 L272.96,323.97 L273.26,323.58 L273.57,323.23 L273.87,322.90 L274.17,322.62 L274.48,322.37 L274.78,322.17 L275.39,321.87 L275.99,321.75 L276.60,321.79 L277.21,322.02 L277.81,322.45 L278.12,322.73 L278.42,323.07 L278.72,323.45 L279.03,323.89 L279.33,324.39 L279.63,324.94 L279.94,325.54 L280.24,326.20 L280.55,326.92 L280.85,327.70 L281.15,328.53 L281.46,329.43 L281.76,330.39 L282.06,331.41 L282.37,332.50 L282.67,333.65 L282.97,334.87 L283.28,336.15 L283.58,337.50 L283.88,338.92 L284.19,340.41 L284.49,341.97 L284.79,343.60 L285.10,345.31 L285.40,347.09 L285.70,348.94 L286.01,350.87 L286.31,352.88 L286.61,354.96 L286.92,357.13 L287.22,359.37 L287.52,361.70 L287.83,364.10 L288.13,366.59 L288.43,369.17 L288.74,371.83 L289.04,374.57 L289.35,377.40 L289.65,380.32 L289.95,383.33 L290.26,386.43 L290.56,389.62 L290.86,392.91 L291.17,396.28 L291.47,399.75 L291.77,403.32 L292.08,406.98 L292.38,410.74 L292.68,414.60 L292.99,418.55 L293.29,422.61 L293.59,426.77 L293.90,431.03 L294.20,435.39 L294.50,439.86 L294.81,444.43 L295.11,449.11 L295.41,453.90 L295.72,458.80 L296.02,463.80 L296.32,468.92 L296.63,474.14 L296.93,479.48 L297.23,484.94 L297.54,486.40 L298.14,486.40 L298.75,486.40 L299.36,486.40 L299.97,486.40 L300.57,486.40 L301.18,486.40 L301.79,486.40 L302.39,486.40 L303.00,486.40 L303.61,486.40 L304.21,486.40 L304.82,486.40 L305.43,486.40 L306.03,486.40 L306.64,486.40 L307.25,486.40 L307.86,486.40 L308.46,486.40 L309.07,486.40 L309.68,486.40 L310.28,486.40 L310.89,486.40 L311.50,486.40 L312.10,486.40 L312.71,486.40 L313.32,486.40 L313.92,486.40 L314.53,486.40 L315.14,486.40 L315.74,486.40 L316.35,486.40 L316.96,486.40 L317.57,486.40 L318.17,486.40 L318.78,486.40 L319.39,486.40 L319.99,486.40 L320.60,486.40" stroke="#056a05" stroke-width="1.8" stroke-dasharray="1.5 1.0" stroke-dashoffset="1.25"/>
<path d="M47.80,334.28 L48.11,334.75 L48.41,335.20 L48.71,335.63 L49.02,336.05 L49.32,336.45 L49.62,336.83 L49.93,337.20 L50.23,337.56 L50.53,337.90 L50.84,338.22 L51.14,338.54 L51.44,338.84 L51.75,339.13 L52.05,339.40 L52.35,339.67 L52.66,339.93 L52.96,340.18 L53.26,340.42 L53.57,340.66 L53.87,340.89 L54.17,341.11 L54.48,341.33 L54.78,341.54 L55.08,341.75 L55.39,341.95 L55.99,342.33 L56.60,342.70 L57.21,343.05 L57.82,343.37 L58.42,343.67 L59.03,343.95 L59.64,344.22 L60.24,344.47 L60.85,344.72 L61.46,344.95 L62.06,345.18 L62.67,345.40 L63.28,345.62 L63.88,345.83 L64.49,346.03 L65.10,346.22 L65.70,346.40 L66.31,346.56 L66.92,346.71 L67.53,346.86 L68.13,347.00 L68.74,347.13 L69.35,347.27 L69.95,347.40 L70.56,347.54 L71.17,347.68 L71.77,347.81 L72.38,347.94 L72.99,348.07 L73.59,348.18 L74.20,348.28 L74.81,348.38 L75.42,348.47 L76.02,348.55 L76.63,348.63 L77.24,348.71 L77.84,348.79 L78.45,348.87 L79.06,348.96 L79.66,349.06 L80.27,349.15 L80.88,349.24 L81.48,349.33 L82.09,349.42 L82.70,349.49 L83.30,349.56 L83.91,349.62 L84.52,349.67 L85.13,349.71 L85.73,349.75 L86.34,349.79 L86.95,349.84 L87.55,349.89 L88.16,349.95 L88.77,350.01 L89.37,350.08 L89.98,350.15 L90.59,350.23 L91.19,350.30 L91.80,350.36 L92.41,350.42 L93.02,350.47 L93.62,350.51 L94.23,350.54 L94.84,350.57 L95.44,350.59 L96.05,350.60 L96.66,350.62 L97.26,350.63 L97.87,350.66 L98.48,350.69 L99.08,350.73 L99.69,350.78 L100.30,350.84 L100.90,350.90 L101.51,350.97 L102.12,351.03 L102.73,351.09 L103.33,351.15 L103.94,351.19 L104.55,351.23 L105.15,351.25 L105.76,351.26 L106.37,351.27 L106.97,351.27 L107.58,351.26 L108.19,351.25 L108.79,351.24 L109.40,351.24 L110.01,351.25 L110.61,351.27 L111.22,351.30 L111.83,351.34 L112.44,351.39 L113.04,351.45 L113.65,351.51 L114.26,351.58 L114.86,351.65 L115.47,351.71 L116.08,351.77 L116.68,351.82 L117.29,351.85 L117.90,351.87 L118.50,351.88 L119.11,351.88 L119.72,351.86 L120.33,351.84 L120.93,351.81 L121.54,351.77 L122.15,351.74 L122.75,351.71 L123.36,351.69 L123.97,351.68 L124.57,351.69 L125.18,351.71 L125.79,351.74 L126.39,351.79 L127.00,351.85 L127.61,351.92 L128.21,352.00 L128.82,352.08 L129.43,352.17 L130.04,352.25 L130.64,352.33 L131.25,352.39 L131.86,352.45 L132.46,352.49 L133.07,352.51 L133.68,352.52 L134.28,352.51 L134.89,352.48 L135.50,352.44 L136.10,352.39 L136.71,352.33 L137.32,352.26 L137.93,352.19 L138.53,352.13 L139.14,352.07 L139.75,352.02 L140.35,351.99 L140.96,351.97 L141.57,351.97 L142.17,351.99 L142.78,352.03 L143.39,352.09 L143.99,352.17 L144.60,352.26 L145.21,352.37 L145.81,352.49 L146.42,352.61 L147.03,352.74 L147.64,352.87 L148.24,352.99 L148.85,353.10 L149.46,353.20 L150.06,353.29 L150.67,353.35 L151.28,353.39 L151.88,353.41 L152.49,353.41 L153.10,353.38 L153.70,353.33 L154.31,353.26 L154.92,353.17 L155.53,353.07 L156.13,352.96 L156.74,352.83 L157.35,352.71 L157.95,352.58 L158.56,352.46 L159.17,352.35 L159.77,352.25 L160.38,352.17 L160.99,352.11 L161.59,352.08 L162.20,352.07 L162.81,352.08 L163.41,352.13 L164.02,352.21 L164.63,352.31 L165.24,352.44 L165.84,352.60 L166.45,352.78 L167.06,352.97 L167.66,353.19 L168.27,353.41 L168.88,353.64 L169.48,353.87 L170.09,354.11 L170.70,354.33 L171.30,354.54 L171.91,354.74 L172.52,354.91 L173.12,355.07 L173.73,355.19 L174.34,355.29 L174.95,355.35 L175.55,355.38 L176.16,355.37 L176.77,355.33 L177.37,355.26 L177.98,355.15 L178.59,355.01 L179.19,354.85 L179.80,354.65 L180.41,354.44 L181.01,354.21 L181.62,353.96 L182.23,353.71 L182.84,353.45 L183.44,353.19 L184.05,352.94 L184.66,352.70 L185.26,352.47 L185.87,352.27 L186.48,352.09 L187.08,351.94 L187.69,351.83 L188.30,351.76 L188.90,351.72 L189.51,351.73 L190.12,351.78 L190.72,351.88 L191.33,352.03 L191.94,352.22 L192.55,352.46 L193.15,352.74 L193.76,353.07 L194.37,353.44 L194.67,353.63 L194.97,353.84 L195.28,354.06 L195.58,354.28 L195.88,354.51 L196.19,354.75 L196.49,355.00 L196.79,355.25 L197.10,355.50 L197.40,355.77 L197.70,356.03 L198.01,356.30 L198.31,356.57 L198.61,356.85 L198.92,357.12 L199.22,357.40 L199.52,357.67 L199.83,357.95 L200.13,358.22 L200.44,358.49 L200.74,358.76 L201.04,359.03 L201.35,359.29 L201.65,359.55 L201.95,359.80 L202.26,360.05 L202.56,360.29 L202.86,360.52 L203.17,360.74 L203.47,360.95 L203.77,361.16 L204.38,361.54 L204.99,361.88 L205.59,362.17 L206.20,362.41 L206.81,362.60 L207.41,362.73 L208.02,362.81 L208.63,362.82 L209.24,362.78 L209.84,362.68 L210.45,362.51 L211.06,362.29 L211.66,362.01 L212.27,361.68 L212.88,361.30 L213.18,361.09 L213.48,360.86 L213.79,360.63 L214.09,360.38 L214.39,360.12 L214.70,359.86 L215.00,359.58 L215.30,359.30 L215.61,359.01 L215.91,358.71 L216.21,358.40 L216.52,358.08 L216.82,357.77 L217.12,357.44 L217.43,357.11 L217.73,356.78 L218.04,356.45 L218.34,356.11 L218.64,355.78 L218.95,355.44 L219.25,355.10 L219.55,354.77 L219.86,354.43 L220.16,354.10 L220.46,353.77 L220.77,353.45 L221.07,353.13 L221.37,352.82 L221.68,352.52 L221.98,352.22 L222.28,351.93 L222.59,351.66 L222.89,351.39 L223.19,351.13 L223.50,350.88 L223.80,350.65 L224.10,350.43 L224.41,350.22 L225.01,349.85 L225.62,349.54 L226.23,349.30 L226.84,349.14 L227.44,349.05 L228.05,349.04 L228.66,349.13 L229.26,349.30 L229.87,349.56 L230.48,349.91 L230.78,350.13 L231.08,350.37 L231.39,350.63 L231.69,350.92 L231.99,351.23 L232.30,351.57 L232.60,351.93 L232.90,352.32 L233.21,352.73 L233.51,353.17 L233.81,353.63 L234.12,354.12 L234.42,354.63 L234.72,355.17 L235.03,355.73 L235.33,356.31 L235.63,356.92 L235.94,357.56 L236.24,358.21 L236.55,358.89 L236.85,359.59 L237.15,360.32 L237.46,361.06 L237.76,361.83 L238.06,362.62 L238.37,363.43 L238.67,364.26 L238.97,365.11 L239.28,365.98 L239.58,366.86 L239.88,367.77 L240.19,368.69 L240.49,369.63 L240.79,370.58 L241.10,371.55 L241.40,372.54 L241.70,373.54 L242.01,374.55 L242.31,375.57 L242.61,376.61 L242.92,377.65 L243.22,378.71 L243.52,379.78 L243.83,380.85 L244.13,381.93 L244.43,383.02 L244.74,384.12 L245.04,385.22 L245.35,386.32 L245.65,387.43 L245.95,388.54 L246.26,389.65 L246.56,390.77 L246.86,391.88 L247.17,392.99 L247.47,394.10 L247.77,395.21 L248.08,396.31 L248.38,397.41 L248.68,398.51 L248.99,399.59 L249.29,400.67 L249.59,401.74 L249.90,402.81 L250.20,403.86 L250.50,404.90 L250.81,405.93 L251.11,406.94 L251.41,407.95 L251.72,408.94 L252.02,409.91 L252.32,410.87 L252.63,411.81 L252.93,412.73 L253.23,413.64 L253.54,414.52 L253.84,415.39 L254.15,416.23 L254.45,417.05 L254.75,417.85 L255.06,418.63 L255.36,419.38 L255.66,420.11 L255.97,420.81 L256.27,421.49 L256.57,422.14 L256.88,422.76 L257.18,423.36 L257.48,423.92 L257.79,424.46 L258.09,424.97 L258.39,425.45 L258.70,425.89 L259.00,426.31 L259.30,426.69 L259.61,427.04 L259.91,427.36 L260.21,427.65 L260.52,427.90 L260.82,428.12 L261.43,428.46 L262.03,428.65 L262.64,428.71 L263.25,428.62 L263.86,428.38 L264.46,428.00 L264.77,427.76 L265.07,427.48 L265.37,427.16 L265.68,426.81 L265.98,426.41 L266.28,425.99 L266.59,425.52 L266.89,425.02 L267.19,424.48 L267.50,423.91 L267.80,423.30 L268.10,422.66 L268.41,421.97 L268.71,421.26 L269.01,420.51 L269.32,419.72 L269.62,418.90 L269.92,418.04 L270.23,417.15 L270.53,416.23 L270.83,415.28 L271.14,414.29 L271.44,413.27 L271.75,412.22 L272.05,411.13 L272.35,410.02 L272.66,408.88 L272.96,407.70 L273.26,406.50 L273.57,405.27 L273.87,404.01 L274.17,402.73 L274.48,401.42 L274.78,400.08 L275.08,398.72 L275.39,397.33 L275.69,395.92 L275.99,394.49 L276.30,393.04 L276.60,391.56 L276.90,390.07 L277.21,388.55 L277.51,387.02 L277.81,385.47 L278.12,383.90 L278.42,382.32 L278.72,380.72 L279.03,379.11 L279.33,377.49 L279.63,375.85 L279.94,374.20 L280.24,372.55 L280.55,370.88 L280.85,369.21 L281.15,367.53 L281.46,365.85 L281.76,364.16 L282.06,362.47 L282.37,360.78 L282.67,359.08 L282.97,357.39 L283.28,355.70 L283.58,354.01 L283.88,352.33 L284.19,350.65 L284.49,348.97 L284.79,347.31 L285.10,345.65 L285.40,344.01 L285.70,342.37 L286.01,340.75 L286.31,339.14 L286.61,337.55 L286.92,335.98 L287.22,334.42 L287.52,332.89 L287.83,331.37 L288.13,329.88 L288.43,328.41 L288.74,326.97 L289.04,325.55 L289.35,324.16 L289.65,322.80 L289.95,321.47 L290.26,320.18 L290.56,318.92 L290.86,317.69 L291.17,316.50 L291.47,315.35 L291.77,314.24 L292.08,313.17 L292.38,312.14 L292.68,311.16 L292.99,310.22 L293.29,309.33 L293.59,308.49 L293.90,307.70 L294.20,306.96 L294.50,306.27 L294.81,305.64 L295.11,305.07 L295.41,304.55 L295.72,304.10 L296.02,303.70 L296.32,303.37 L296.63,303.10 L296.93,302.90 L297.54,302.70 L298.14,302.79 L298.75,303.17 L299.06,303.47 L299.36,303.86 L299.66,304.32 L299.97,304.87 L300.27,305.49 L300.57,306.21 L300.88,307.01 L301.18,307.90 L301.48,308.88 L301.79,309.95 L302.09,311.12 L302.39,312.38 L302.70,313.73 L303.00,315.19 L303.30,316.74 L303.61,318.40 L303.91,320.16 L304.21,322.02 L304.52,323.99 L304.82,326.07 L305.12,328.25 L305.43,330.55 L305.73,332.96 L306.03,335.49 L306.34,338.13 L306.64,340.89 L306.94,343.77 L307.25,346.77 L307.55,349.89 L307.86,353.14 L308.16,356.51 L308.46,360.01 L308.77,363.64 L309.07,367.40 L309.37,371.30 L309.68,375.33 L309.98,379.49 L310.28,383.79 L310.59,388.23 L310.89,392.81 L311.19,397.53 L311.50,402.40 L311.80,407.41 L312.10,412.57 L312.41,417.88 L312.71,423.34 L313.01,428.95 L313.32,434.72 L313.62,440.64 L313.92,446.72 L314.23,452.95 L314.53,459.35 L314.83,465.91 L315.14,472.63 L315.44,479.52 L315.74,486.40 L316.35,486.40 L316.96,486.40 L317.57,486.40 L318.17,486.40 L318.78,486.40 L319.39,486.40 L319.99,486.40 L320.60,486.40" stroke="#166ee0" stroke-width="1.5" stroke-opacity="0.22"/>
<path d="M47.80,334.28 L48.11,334.75 L48.41,335.20 L48.71,335.63 L49.02,336.05 L49.32,336.45 L49.62,336.83 L49.93,337.20 L50.23,337.56 L50.53,337.90 L50.84,338.22 L51.14,338.54 L51.44,338.84 L51.75,339.13 L52.05,339.40 L52.35,339.67 L52.66,339.93 L52.96,340.18 L53.26,340.42 L53.57,340.66 L53.87,340.89 L54.17,341.11 L54.48,341.33 L54.78,341.54 L55.08,341.75 L55.39,341.95 L55.99,342.33 L56.60,342.70 L57.21,343.05 L57.82,343.37 L58.42,343.67 L59.03,343.95 L59.64,344.22 L60.24,344.47 L60.85,344.72 L61.46,344.95 L62.06,345.18 L62.67,345.40 L63.28,345.62 L63.88,345.83 L64.49,346.03 L65.10,346.22 L65.70,346.40 L66.31,346.56 L66.92,346.71 L67.53,346.86 L68.13,347.00 L68.74,347.13 L69.35,347.27 L69.95,347.40 L70.56,347.54 L71.17,347.68 L71.77,347.81 L72.38,347.94 L72.99,348.07 L73.59,348.18 L74.20,348.28 L74.81,348.38 L75.42,348.47 L76.02,348.55 L76.63,348.63 L77.24,348.71 L77.84,348.79 L78.45,348.87 L79.06,348.96 L79.66,349.06 L80.27,349.15 L80.88,349.24 L81.48,349.33 L82.09,349.42 L82.70,349.49 L83.30,349.56 L83.91,349.62 L84.52,349.67 L85.13,349.71 L85.73,349.75 L86.34,349.79 L86.95,349.84 L87.55,349.89 L88.16,349.95 L88.77,350.01 L89.37,350.08 L89.98,350.15 L90.59,350.23 L91.19,350.30 L91.80,350.36 L92.41,350.42 L93.02,350.47 L93.62,350.51 L94.23,350.54 L94.84,350.57 L95.44,350.59 L96.05,350.60 L96.66,350.62 L97.26,350.63 L97.87,350.66 L98.48,350.69 L99.08,350.73 L99.69,350.78 L100.30,350.84 L100.90,350.90 L101.51,350.97 L102.12,351.03 L102.73,351.09 L103.33,351.15 L103.94,351.19 L104.55,351.23 L105.15,351.25 L105.76,351.26 L106.37,351.27 L106.97,351.27 L107.58,351.26 L108.19,351.25 L108.79,351.24 L109.40,351.24 L110.01,351.25 L110.61,351.27 L111.22,351.30 L111.83,351.34 L112.44,351.39 L113.04,351.45 L113.65,351.51 L114.26,351.58 L114.86,351.65 L115.47,351.71 L116.08,351.77 L116.68,351.82 L117.29,351.85 L117.90,351.87 L118.50,351.88 L119.11,351.88 L119.72,351.86 L120.33,351.84 L120.93,351.81 L121.54,351.77 L122.15,351.74 L122.75,351.71 L123.36,351.69 L123.97,351.68 L124.57,351.69 L125.18,351.71 L125.79,351.74 L126.39,351.79 L127.00,351.85 L127.61,351.92 L128.21,352.00 L128.82,352.08 L129.43,352.17 L130.04,352.25 L130.64,352.33 L131.25,352.39 L131.86,352.45 L132.46,352.49 L133.07,352.51 L133.68,352.52 L134.28,352.51 L134.89,352.48 L135.50,352.44 L136.10,352.39 L136.71,352.33 L137.32,352.26 L137.93,352.19 L138.53,352.13 L139.14,352.07 L139.75,352.02 L140.35,351.99 L140.96,351.97 L141.57,351.97 L142.17,351.99 L142.78,352.03 L143.39,352.09 L143.99,352.17 L144.60,352.26 L145.21,352.37 L145.81,352.49 L146.42,352.61 L147.03,352.74 L147.64,352.87 L148.24,352.99 L148.85,353.10 L149.46,353.20 L150.06,353.29 L150.67,353.35 L151.28,353.39 L151.88,353.41 L152.49,353.41 L153.10,353.38 L153.70,353.33 L154.31,353.26 L154.92,353.17 L155.53,353.07 L156.13,352.96 L156.74,352.83 L157.35,352.71 L157.95,352.58 L158.56,352.46 L159.17,352.35 L159.77,352.25 L160.38,352.17 L160.99,352.11 L161.59,352.08 L162.20,352.07 L162.81,352.08 L163.41,352.13 L164.02,352.21 L164.63,352.31 L165.24,352.44 L165.84,352.60 L166.45,352.78 L167.06,352.97 L167.66,353.19 L168.27,353.41 L168.88,353.64 L169.48,353.87 L170.09,354.11 L170.70,354.33 L171.30,354.54 L171.91,354.74 L172.52,354.91 L173.12,355.07 L173.73,355.19 L174.34,355.29 L174.95,355.35 L175.55,355.38 L176.16,355.37 L176.77,355.33 L177.37,355.26 L177.98,355.15 L178.59,355.01 L179.19,354.85 L179.80,354.65 L180.41,354.44 L181.01,354.21 L181.62,353.96 L182.23,353.71 L182.84,353.45 L183.44,353.19 L184.05,352.94 L184.66,352.70 L185.26,352.47 L185.87,352.27 L186.48,352.09 L187.08,351.94 L187.69,351.83 L188.30,351.76 L188.90,351.72 L189.51,351.73 L190.12,351.78 L190.72,351.88 L191.33,352.03 L191.94,352.22 L192.55,352.46 L193.15,352.74 L193.76,353.07 L194.37,353.44 L194.67,353.63 L194.97,353.84 L195.28,354.06 L195.58,354.28 L195.88,354.51 L196.19,354.75 L196.49,355.00 L196.79,355.25 L197.10,355.50 L197.40,355.77 L197.70,356.03 L198.01,356.30 L198.31,356.57 L198.61,356.85 L198.92,357.12 L199.22,357.40 L199.52,357.67 L199.83,357.95 L200.13,358.22 L200.44,358.49 L200.74,358.76 L201.04,359.03 L201.35,359.29 L201.65,359.55 L201.95,359.80 L202.26,360.05 L202.56,360.29 L202.86,360.52 L203.17,360.74 L203.47,360.95 L203.77,361.16 L204.38,361.54 L204.99,361.88 L205.59,362.17 L206.20,362.41 L206.81,362.60 L207.41,362.73 L208.02,362.81 L208.63,362.82 L209.24,362.78 L209.84,362.68 L210.45,362.51 L211.06,362.29 L211.66,362.01 L212.27,361.68 L212.88,361.30 L213.18,361.09 L213.48,360.86 L213.79,360.63 L214.09,360.38 L214.39,360.12 L214.70,359.86 L215.00,359.58 L215.30,359.30 L215.61,359.01 L215.91,358.71 L216.21,358.40 L216.52,358.08 L216.82,357.77 L217.12,357.44 L217.43,357.11 L217.73,356.78 L218.04,356.45 L218.34,356.11 L218.64,355.78 L218.95,355.44 L219.25,355.10 L219.55,354.77 L219.86,354.43 L220.16,354.10 L220.46,353.77 L220.77,353.45 L221.07,353.13 L221.37,352.82 L221.68,352.52 L221.98,352.22 L222.28,351.93 L222.59,351.66 L222.89,351.39 L223.19,351.13 L223.50,350.88 L223.80,350.65 L224.10,350.43 L224.41,350.22 L225.01,349.85 L225.62,349.54 L226.23,349.30 L226.84,349.14 L227.44,349.05 L228.05,349.04 L228.66,349.13 L229.26,349.30 L229.87,349.56 L230.48,349.91 L230.78,350.13 L231.08,350.37 L231.39,350.63 L231.69,350.92 L231.99,351.23 L232.30,351.57 L232.60,351.93 L232.90,352.32 L233.21,352.73 L233.51,353.17 L233.81,353.63 L234.12,354.12 L234.42,354.63 L234.72,355.17 L235.03,355.73 L235.33,356.31 L235.63,356.92 L235.94,357.56 L236.24,358.21 L236.55,358.89 L236.85,359.59 L237.15,360.32 L237.46,361.06 L237.76,361.83 L238.06,362.62 L238.37,363.43 L238.67,364.26 L238.97,365.11 L239.28,365.98 L239.58,366.86 L239.88,367.77 L240.19,368.69 L240.49,369.63 L240.79,370.58 L241.10,371.55 L241.40,372.54 L241.70,373.54 L242.01,374.55 L242.31,375.57 L242.61,376.61 L242.92,377.65 L243.22,378.71 L243.52,379.78 L243.83,380.85 L244.13,381.93 L244.43,383.02 L244.74,384.12 L245.04,385.22 L245.35,386.32 L245.65,387.43 L245.95,388.54 L246.26,389.65 L246.56,390.77 L246.86,391.88 L247.17,392.99 L247.47,394.10 L247.77,395.21 L248.08,396.31 L248.38,397.41 L248.68,398.51 L248.99,399.59 L249.29,400.67 L249.59,401.74 L249.90,402.81 L250.20,403.86 L250.50,404.90 L250.81,405.93 L251.11,406.94 L251.41,407.95 L251.72,408.94 L252.02,409.91 L252.32,410.87 L252.63,411.81 L252.93,412.73 L253.23,413.64 L253.54,414.52 L253.84,415.39 L254.15,416.23 L254.45,417.05 L254.75,417.85 L255.06,418.63 L255.36,419.38 L255.66,420.11 L255.97,420.81 L256.27,421.49 L256.57,422.14 L256.88,422.76 L257.18,423.36 L257.48,423.92 L257.79,424.46 L258.09,424.97 L258.39,425.45 L258.70,425.89 L259.00,426.31 L259.30,426.69 L259.61,427.04 L259.91,427.36 L260.21,427.65 L260.52,427.90 L260.82,428.12 L261.43,428.46 L262.03,428.65 L262.64,428.71 L263.25,428.62 L263.86,428.38 L264.46,428.00 L264.77,427.76 L265.07,427.48 L265.37,427.16 L265.68,426.81 L265.98,426.41 L266.28,425.99 L266.59,425.52 L266.89,425.02 L267.19,424.48 L267.50,423.91 L267.80,423.30 L268.10,422.66 L268.41,421.97 L268.71,421.26 L269.01,420.51 L269.32,419.72 L269.62,418.90 L269.92,418.04 L270.23,417.15 L270.53,416.23 L270.83,415.28 L271.14,414.29 L271.44,413.27 L271.75,412.22 L272.05,411.13 L272.35,410.02 L272.66,408.88 L272.96,407.70 L273.26,406.50 L273.57,405.27 L273.87,404.01 L274.17,402.73 L274.48,401.42 L274.78,400.08 L275.08,398.72 L275.39,397.33 L275.69,395.92 L275.99,394.49 L276.30,393.04 L276.60,391.56 L276.90,390.07 L277.21,388.55 L277.51,387.02 L277.81,385.47 L278.12,383.90 L278.42,382.32 L278.72,380.72 L279.03,379.11 L279.33,377.49 L279.63,375.85 L279.94,374.20 L280.24,372.55 L280.55,370.88 L280.85,369.21 L281.15,367.53 L281.46,365.85 L281.76,364.16 L282.06,362.47 L282.37,360.78 L282.67,359.08 L282.97,357.39 L283.28,355.70 L283.58,354.01 L283.88,352.33 L284.19,350.65 L284.49,348.97 L284.79,347.31 L285.10,345.65 L285.40,344.01 L285.70,342.37 L286.01,340.75 L286.31,339.14 L286.61,337.55 L286.92,335.98 L287.22,334.42 L287.52,332.89 L287.83,331.37 L288.13,329.88 L288.43,328.41 L288.74,326.97 L289.04,325.55 L289.35,324.16 L289.65,322.80 L289.95,321.47 L290.26,320.18 L290.56,318.92 L290.86,317.69 L291.17,316.50 L291.47,315.35 L291.77,314.24 L292.08,313.17 L292.38,312.14 L292.68,311.16 L292.99,310.22 L293.29,309.33 L293.59,308.49 L293.90,307.70 L294.20,306.96 L294.50,306.27 L294.81,305.64 L295.11,305.07 L295.41,304.55 L295.72,304.10 L296.02,303.70 L296.32,303.37 L296.63,303.10 L296.93,302.90 L297.54,302.70 L298.14,302.79 L298.75,303.17 L299.06,303.47 L299.36,303.86 L299.66,304.32 L299.97,304.87 L300.27,305.49 L300.57,306.21 L300.88,307.01 L301.18,307.90 L301.48,308.88 L301.79,309.95 L302.09,311.12 L302.39,312.38 L302.70,313.73 L303.00,315.19 L303.30,316.74 L303.61,318.40 L303.91,320.16 L304.21,322.02 L304.52,323.99 L304.82,326.07 L305.12,328.25 L305.43,330.55 L305.73,332.96 L306.03,335.49 L306.34,338.13 L306.64,340.89 L306.94,343.77 L307.25,346.77 L307.55,349.89 L307.86,353.14 L308.16,356.51 L308.46,360.01 L308.77,363.64 L309.07,367.40 L309.37,371.30 L309.68,375.33 L309.98,379.49 L310.28,383.79 L310.59,388.23 L310.89,392.81 L311.19,397.53 L311.50,402.40 L311.80,407.41 L312.10,412.57 L312.41,417.88 L312.71,423.34 L313.01,428.95 L313.32,434.72 L313.62,440.64 L313.92,446.72 L314.23,452.95 L314.53,459.35 L314.83,465.91 L315.14,472.63 L315.44,479.52 L315.74,486.40 L316.35,486.40 L316.96,486.40 L317.57,486.40 L318.17,486.40 L318.78,486.40 L319.39,486.40 L319.99,486.40 L320.60,486.40" stroke="#166ee0" stroke-width="1.8" stroke-dasharray="1.5 1.0" stroke-dashoffset="1.87"/>
</g>
</g>
<circle cx="67.2" cy="346.1" r="3.55" fill="none" stroke="#303030" stroke-width="0.6"/>
<circle cx="141.45" cy="351.45000000000005" r="3.55" fill="none" stroke="#303030" stroke-width="0.6"/>
<rect x="47.8" y="243.5" width="272.8" height="192.89999999999998" fill="none" stroke="#000" stroke-width="0.8"/>
<path d="M47.8,243.50h3.2M320.6,243.50h-3.2M47.8,282.08h3.2M320.6,282.08h-3.2M47.8,320.66h3.2M320.6,320.66h-3.2M47.8,359.24h3.2M320.6,359.24h-3.2M47.8,397.82h3.2M320.6,397.82h-3.2M47.8,436.40h3.2M320.6,436.40h-3.2M51.47,436.4v-1.6M51.47,243.5v1.6M67.85,436.4v-1.6M67.85,243.5v1.6M81.70,436.4v-1.6M81.70,243.5v1.6M93.69,436.4v-1.6M93.69,243.5v1.6M104.27,436.4v-1.6M104.27,243.5v1.6M113.74,436.4v-3.2M113.74,243.5v3.2M176.01,436.4v-1.6M176.01,243.5v1.6M212.44,436.4v-1.6M212.44,243.5v1.6M238.28,436.4v-1.6M238.28,243.5v1.6M258.33,436.4v-1.6M258.33,243.5v1.6M274.71,436.4v-1.6M274.71,243.5v1.6M288.56,436.4v-1.6M288.56,243.5v1.6M300.55,436.4v-1.6M300.55,243.5v1.6M311.13,436.4v-1.6M311.13,243.5v1.6" stroke="#000" stroke-width="0.7" fill="none"/>
<g opacity="0.999">
<text transform="translate(42.3,247.17) scale(1,1.15)" font-size="9.15" text-anchor="end">1500</text>
<text transform="translate(42.3,285.75) scale(1,1.15)" font-size="9.15" text-anchor="end">1000</text>
<text transform="translate(42.3,324.33) scale(1,1.15)" font-size="9.15" text-anchor="end">500</text>
<text transform="translate(42.3,362.91) scale(1,1.15)" font-size="9.15" text-anchor="end">0</text>
<text transform="translate(42.3,401.49) scale(1,1.15)" font-size="9.15" text-anchor="end"><tspan dy="1.0" font-size="10.8">−</tspan><tspan dy="-1.0">500</tspan></text>
<text transform="translate(42.3,440.07) scale(1,1.15)" font-size="9.15" text-anchor="end"><tspan dy="1.0" font-size="10.8">−</tspan><tspan dy="-1.0">1000</tspan></text>
<text transform="translate(115.24,449.77) scale(1,1.15)" font-size="9.15" text-anchor="middle">1000</text>
<text transform="translate(322.10,449.77) scale(1,1.15)" font-size="9.15" text-anchor="middle">10000</text>
<text transform="translate(15.3,340.16) rotate(-90) scale(1,1.07)" font-size="14.9" text-anchor="middle">Polarizability (a.u.)</text>
<g transform="translate(0,238.8)" fill="none" stroke="#1c1c1c" stroke-linecap="round" stroke-linejoin="round"><path d="M163.45,216.0 C163.6,214.8 164.3,214.3 165.1,214.35 C166.2,214.45 166.7,215.6 167.1,217.4 L169.0,224.6 C169.35,225.9 169.9,226.35 170.6,226.0 C171.3,225.6 171.6,224.9 171.75,224.3" stroke-width="1.35"/><path d="M166.7,219.8 L163.2,226.3" stroke-width="1.3"/></g>
<text transform="translate(175.8,466.30) scale(1,0.98)" font-size="14.6">(nm)</text>
<text transform="translate(86.3,292.8) scale(1,1.08)" font-size="9.4">5s5p (<tspan font-size="7.33" dy="-4.5">3</tspan><tspan dy="4.5">P</tspan><tspan font-size="7.33" dy="2.8">0</tspan><tspan dy="-2.8">)</tspan></text>
<text transform="translate(248.7,296.5) scale(1,1.08)" font-size="9.4">5s180p (<tspan font-size="7.33" dy="-4.5">3</tspan><tspan dy="4.5">P</tspan><tspan font-size="7.33" dy="2.8">0</tspan><tspan dy="-2.8">)</tspan></text>
<text transform="translate(209.5,335.59999999999997) scale(1,1.08)" font-size="9.4">5s160p (<tspan font-size="7.33" dy="-4.5">3</tspan><tspan dy="4.5">P</tspan><tspan font-size="7.33" dy="2.8">0</tspan><tspan dy="-2.8">)</tspan></text>
<text transform="translate(88.0,401.7) scale(1,1.08)" font-size="9.4">5s50p (<tspan font-size="7.33" dy="-4.5">3</tspan><tspan dy="4.5">P</tspan><tspan font-size="7.33" dy="2.8">0</tspan><tspan dy="-2.8">)</tspan></text>
<text transform="translate(163.9,420.59999999999997) scale(1,1.08)" font-size="9.4">5s100p (<tspan font-size="7.33" dy="-4.5">3</tspan><tspan dy="4.5">P</tspan><tspan font-size="7.33" dy="2.8">0</tspan><tspan dy="-2.8">)</tspan></text>
</g>
</svg>
</body></html>
